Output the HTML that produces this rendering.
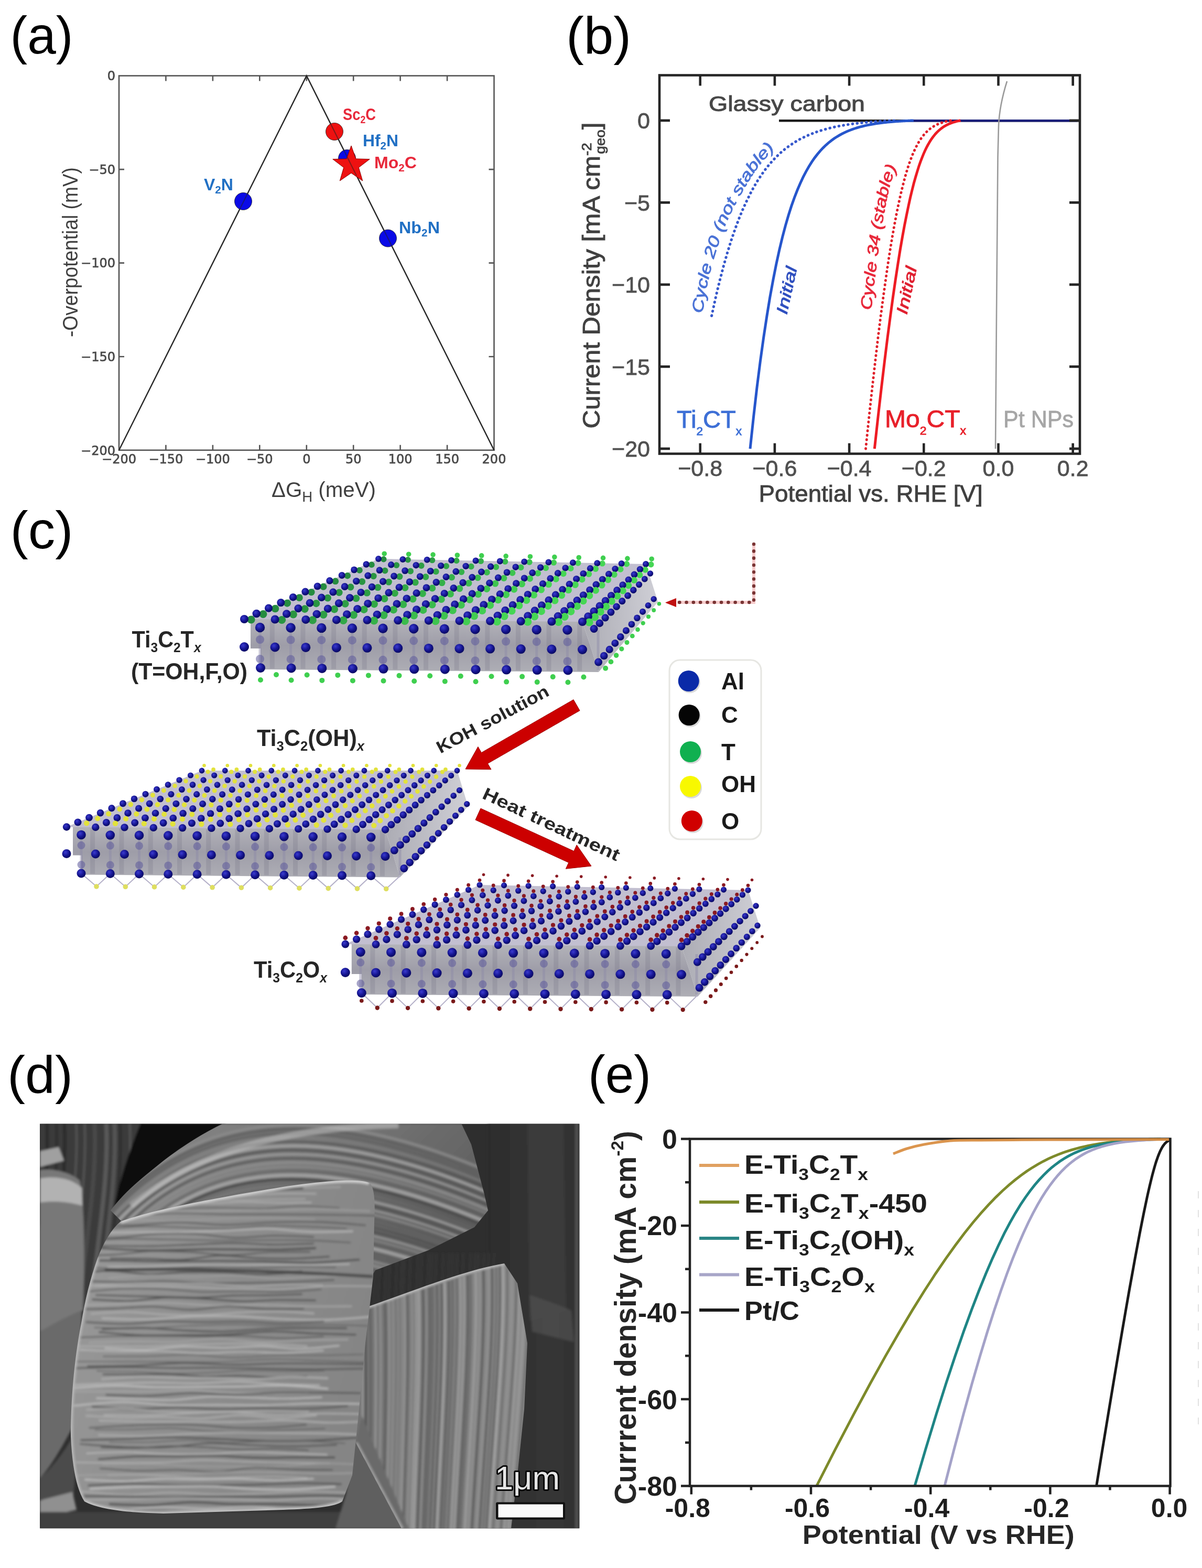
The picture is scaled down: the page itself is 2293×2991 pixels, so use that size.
<!DOCTYPE html>
<html><head><meta charset="utf-8"><title>Figure</title>
<style>html,body{margin:0;padding:0;background:#fff;} svg{display:block;}</style></head>
<body>
<svg width="2293" height="2991" viewBox="0 0 2293 2991" font-family="Liberation Sans, sans-serif">
<rect width="2293" height="2991" fill="#fff"/>
<text x="19.5" y="101.5" font-size="101" fill="#000" font-family="Liberation Sans, sans-serif" textLength="120" lengthAdjust="spacingAndGlyphs">(a)</text>
<text x="1080" y="103" font-size="101" fill="#000" font-family="Liberation Sans, sans-serif" textLength="124" lengthAdjust="spacingAndGlyphs">(b)</text>
<text x="19.5" y="1046" font-size="101" fill="#000" font-family="Liberation Sans, sans-serif" textLength="120" lengthAdjust="spacingAndGlyphs">(c)</text>
<text x="14" y="2084.5" font-size="101" fill="#000" font-family="Liberation Sans, sans-serif" textLength="125" lengthAdjust="spacingAndGlyphs">(d)</text>
<text x="1122" y="2084" font-size="101" fill="#000" font-family="Liberation Sans, sans-serif" textLength="120" lengthAdjust="spacingAndGlyphs">(e)</text>
<rect x="227" y="144.5" width="715.5" height="714.2" fill="none" stroke="#555" stroke-width="2.6"/>
<path d="M316.4,144.5v10M316.4,858.75v-10M405.9,144.5v10M405.9,858.75v-10M495.3,144.5v10M495.3,858.75v-10M584.8,144.5v10M584.8,858.75v-10M674.2,144.5v10M674.2,858.75v-10M763.6,144.5v10M763.6,858.75v-10M853.1,144.5v10M853.1,858.75v-10M227,323.1h10M942.5,323.1h-10M227,501.6h10M942.5,501.6h-10M227,680.2h10M942.5,680.2h-10" stroke="#555" stroke-width="2.6" fill="none"/>
<text x="227" y="884" font-size="24" fill="#4a4a4a" font-family="DejaVu Sans, sans-serif" text-anchor="middle" stroke="#4a4a4a" stroke-width="0.7">−200</text>
<text x="316.4" y="884" font-size="24" fill="#4a4a4a" font-family="DejaVu Sans, sans-serif" text-anchor="middle" stroke="#4a4a4a" stroke-width="0.7">−150</text>
<text x="405.9" y="884" font-size="24" fill="#4a4a4a" font-family="DejaVu Sans, sans-serif" text-anchor="middle" stroke="#4a4a4a" stroke-width="0.7">−100</text>
<text x="495.3" y="884" font-size="24" fill="#4a4a4a" font-family="DejaVu Sans, sans-serif" text-anchor="middle" stroke="#4a4a4a" stroke-width="0.7">−50</text>
<text x="584.8" y="884" font-size="24" fill="#4a4a4a" font-family="DejaVu Sans, sans-serif" text-anchor="middle" stroke="#4a4a4a" stroke-width="0.7">0</text>
<text x="674.2" y="884" font-size="24" fill="#4a4a4a" font-family="DejaVu Sans, sans-serif" text-anchor="middle" stroke="#4a4a4a" stroke-width="0.7">50</text>
<text x="763.6" y="884" font-size="24" fill="#4a4a4a" font-family="DejaVu Sans, sans-serif" text-anchor="middle" stroke="#4a4a4a" stroke-width="0.7">100</text>
<text x="853.1" y="884" font-size="24" fill="#4a4a4a" font-family="DejaVu Sans, sans-serif" text-anchor="middle" stroke="#4a4a4a" stroke-width="0.7">150</text>
<text x="942.5" y="884" font-size="24" fill="#4a4a4a" font-family="DejaVu Sans, sans-serif" text-anchor="middle" stroke="#4a4a4a" stroke-width="0.7">200</text>
<text x="220" y="153.2" font-size="24" fill="#4a4a4a" font-family="DejaVu Sans, sans-serif" text-anchor="end" stroke="#4a4a4a" stroke-width="0.7">0</text>
<text x="220" y="331.8" font-size="24" fill="#4a4a4a" font-family="DejaVu Sans, sans-serif" text-anchor="end" stroke="#4a4a4a" stroke-width="0.7">−50</text>
<text x="220" y="510.3" font-size="24" fill="#4a4a4a" font-family="DejaVu Sans, sans-serif" text-anchor="end" stroke="#4a4a4a" stroke-width="0.7">−100</text>
<text x="220" y="688.9" font-size="24" fill="#4a4a4a" font-family="DejaVu Sans, sans-serif" text-anchor="end" stroke="#4a4a4a" stroke-width="0.7">−150</text>
<text x="220" y="867.5" font-size="24" fill="#4a4a4a" font-family="DejaVu Sans, sans-serif" text-anchor="end" stroke="#4a4a4a" stroke-width="0.7">−200</text>
<path d="M227,858.75 L584.8,144.5 L942.5,858.75" stroke="#333" stroke-width="2.4" fill="none"/>
<circle cx="464" cy="384" r="16.5" fill="#0a0ae6" stroke="#222" stroke-width="0.8"/>
<circle cx="638" cy="251" r="16.5" fill="#ee1111" stroke="#222" stroke-width="0.8"/>
<circle cx="662" cy="302" r="16.5" fill="#0a0ae6" stroke="#222" stroke-width="0.8"/>
<circle cx="740" cy="454.5" r="16.5" fill="#0a0ae6" stroke="#222" stroke-width="0.8"/>
<path d="M584.8,144.5 L942.5,858.75" stroke="#222" stroke-width="2" fill="none" opacity="0.55"/>
<path d="M227,858.75 L584.8,144.5" stroke="#222" stroke-width="2" fill="none" opacity="0.55"/>
<path d="M670,278 L678.8,302.9 L705.2,303.6 L684.3,319.6 L691.7,344.9 L670,330 L648.3,344.9 L655.7,319.6 L634.8,303.6 L661.2,302.9Z" fill="#ee1111" stroke="#8a0000" stroke-width="1"/>
<path d="M662.6,300 L680.1,335" stroke="#222" stroke-width="2" opacity="0.5"/>
<text x="389" y="362.5" font-size="31" fill="#2170c4" font-family="Liberation Sans, sans-serif" font-weight="bold" textLength="56" lengthAdjust="spacingAndGlyphs">V<tspan font-size="20" dy="6">2</tspan><tspan dy="-6">N</tspan></text>
<text x="654" y="229" font-size="31" fill="#e8283a" font-family="Liberation Sans, sans-serif" font-weight="bold" textLength="63" lengthAdjust="spacingAndGlyphs">Sc<tspan font-size="20" dy="6">2</tspan><tspan dy="-6">C</tspan></text>
<text x="692" y="279" font-size="31" fill="#2170c4" font-family="Liberation Sans, sans-serif" font-weight="bold" textLength="68" lengthAdjust="spacingAndGlyphs">Hf<tspan font-size="20" dy="6">2</tspan><tspan dy="-6">N</tspan></text>
<text x="714" y="321" font-size="31" fill="#e8283a" font-family="Liberation Sans, sans-serif" font-weight="bold" textLength="81" lengthAdjust="spacingAndGlyphs">Mo<tspan font-size="20" dy="6">2</tspan><tspan dy="-6">C</tspan></text>
<text x="761" y="445" font-size="31" fill="#2170c4" font-family="Liberation Sans, sans-serif" font-weight="bold" textLength="78" lengthAdjust="spacingAndGlyphs">Nb<tspan font-size="20" dy="6">2</tspan><tspan dy="-6">N</tspan></text>
<text x="518" y="947.5" font-size="41" fill="#404040" font-family="Liberation Sans, sans-serif" textLength="199" lengthAdjust="spacingAndGlyphs">ΔG<tspan font-size="28" dy="9">H</tspan><tspan dy="-9"> (meV)</tspan></text>
<text x="148" y="643" font-size="41" fill="#404040" font-family="Liberation Sans, sans-serif" textLength="324" lengthAdjust="spacingAndGlyphs" transform="rotate(-90 148 643)">-Overpotential (mV)</text>
<path d="M1486,230.2 H2058" stroke="#1c1c1c" stroke-width="4.5" fill="none"/>
<path d="M1725,230.2 H2055" stroke="#1b1f7a" stroke-width="4.5" fill="none"/>
<path d="M1899,856 L1901,600 L1903.5,300 L1905,240 C1906,215 1910,190 1921,155" stroke="#9a9a9a" stroke-width="2.6" fill="none"/>
<path d="M1357.6,602.4 L1365.2,567.7 L1372.7,536.3 L1380.2,507.8 L1387.6,481.9 L1394.9,458.5 L1402.2,437.2 L1409.4,417.9 L1416.6,400.4 L1423.8,384.6 L1430.9,370.2 L1437.9,357.1 L1444.9,345.3 L1451.9,334.6 L1458.8,324.8 L1465.7,316.0 L1472.6,308.0 L1479.4,300.7 L1486.2,294.1 L1492.9,288.1 L1499.6,282.7 L1506.3,277.8 L1512.9,273.4 L1519.4,269.3 L1525.9,265.6 L1532.3,262.3 L1538.7,259.3 L1545.0,256.6 L1551.3,254.1 L1557.4,251.8 L1563.5,249.8 L1569.6,247.9 L1575.5,246.3 L1581.3,244.7 L1587.0,243.4 L1592.7,242.1 L1598.2,241.0 L1603.6,239.9 L1608.9,239.0 L1614.0,238.2 L1619.0,237.4 L1623.9,236.7 L1628.6,236.1 L1633.2,235.5 L1637.6,235.0 L1641.9,234.5 L1646.0,234.1 L1649.9,233.7 L1653.6,233.3 L1657.2,233.0 L1660.6,232.7 L1663.9,232.5 L1667.0,232.2 L1669.9,232.0 L1672.6,231.8 L1675.2,231.6 L1677.6,231.5 L1679.9,231.3 L1682.0,231.2 L1684.0,231.1 L1685.9,231.0 L1687.6,230.9 L1689.2,230.8 L1690.7,230.7 L1692.1,230.6 L1693.3,230.6 L1694.5,230.5 L1695.6,230.4 L1696.6,230.4 L1697.5,230.3 L1698.3,230.3 L1699.1,230.3 L1699.8,230.2 L1700.4,230.2 L1701.0,230.2 L1701.6,230.1 L1702.1,230.1 L1702.5,230.1 L1702.9,230.1 L1703.3,230.1 L1703.6,230.1 L1704.0,230.0 L1704.2,230.0 L1704.5,230.0 L1704.7,230.0 L1704.9,230.0 L1705.1,230.0 L1705.3,230.0 L1705.5,230.0 L1705.6,230.0 L1707.1,229.9" stroke="#3658cc" stroke-width="5.2" stroke-linecap="round" stroke-dasharray="0.5 8.3" fill="none"/>
<path d="M1431.0,855.9 L1437.6,794.4 L1444.0,738.9 L1450.4,688.8 L1456.7,643.7 L1462.9,603.0 L1468.9,566.3 L1475.0,533.3 L1480.9,503.4 L1486.8,476.5 L1492.6,452.3 L1498.4,430.4 L1504.1,410.7 L1509.8,392.9 L1515.5,376.9 L1521.1,362.5 L1526.7,349.4 L1532.2,337.7 L1537.7,327.1 L1543.2,317.5 L1548.6,308.9 L1554.0,301.1 L1559.4,294.1 L1564.7,287.8 L1570.1,282.1 L1575.3,277.0 L1580.6,272.4 L1585.8,268.2 L1591.0,264.4 L1596.2,261.0 L1601.3,258.0 L1606.3,255.2 L1611.4,252.7 L1616.3,250.5 L1621.3,248.5 L1626.2,246.6 L1631.0,245.0 L1635.7,243.5 L1640.4,242.2 L1645.1,241.0 L1649.6,239.9 L1654.1,238.9 L1658.5,238.0 L1662.8,237.2 L1667.0,236.5 L1671.0,235.8 L1675.0,235.3 L1678.9,234.7 L1682.7,234.3 L1686.3,233.8 L1689.8,233.4 L1693.2,233.1 L1696.5,232.8 L1699.6,232.5 L1702.6,232.2 L1705.4,232.0 L1708.1,231.8 L1710.7,231.6 L1713.1,231.4 L1715.4,231.3 L1717.5,231.2 L1719.5,231.0 L1721.4,230.9 L1723.2,230.8 L1724.8,230.7 L1726.3,230.7 L1727.8,230.6 L1729.1,230.5 L1730.3,230.5 L1731.4,230.4 L1732.4,230.3 L1733.4,230.3 L1734.2,230.3 L1735.0,230.2 L1735.7,230.2 L1736.4,230.2 L1737.0,230.1 L1737.6,230.1 L1738.1,230.1 L1738.5,230.1 L1738.9,230.1 L1739.3,230.0 L1739.7,230.0 L1740.0,230.0 L1740.2,230.0 L1740.5,230.0 L1740.7,230.0 L1740.9,230.0 L1741.1,230.0 L1741.3,230.0 L1742.9,229.9" stroke="#2656cc" stroke-width="5" fill="none"/>
<path d="M1651.5,855.9 L1657.9,794.4 L1664.0,738.9 L1669.7,688.8 L1675.0,643.7 L1680.1,603.0 L1685.0,566.3 L1689.6,533.3 L1693.9,503.4 L1698.1,476.5 L1702.1,452.3 L1706.0,430.4 L1709.7,410.7 L1713.3,392.9 L1716.8,376.9 L1720.1,362.5 L1723.4,349.4 L1726.5,337.7 L1729.6,327.1 L1732.6,317.5 L1735.5,308.9 L1738.4,301.1 L1741.2,294.1 L1744.0,287.8 L1746.7,282.1 L1749.3,277.0 L1751.9,272.4 L1754.4,268.2 L1756.9,264.4 L1759.4,261.0 L1761.8,258.0 L1764.1,255.2 L1766.4,252.7 L1768.7,250.5 L1770.9,248.5 L1773.0,246.6 L1775.1,245.0 L1777.2,243.5 L1779.2,242.2 L1781.1,241.0 L1783.0,239.9 L1784.8,238.9 L1786.6,238.0 L1788.3,237.2 L1790.0,236.5 L1791.5,235.8 L1793.1,235.3 L1794.5,234.7 L1795.9,234.3 L1797.2,233.8 L1798.4,233.4 L1799.6,233.1 L1800.7,232.8 L1801.8,232.5 L1802.8,232.2 L1803.7,232.0 L1804.5,231.8 L1805.3,231.6 L1806.1,231.4 L1806.8,231.3 L1807.4,231.2 L1808.0,231.0 L1808.6,230.9 L1809.1,230.8 L1809.5,230.7 L1810.0,230.7 L1810.4,230.6 L1810.7,230.5 L1811.1,230.5 L1811.4,230.4 L1811.6,230.3 L1811.9,230.3 L1812.1,230.3 L1812.3,230.2 L1812.5,230.2 L1812.7,230.2 L1812.8,230.1 L1813.0,230.1 L1813.1,230.1 L1813.2,230.1 L1813.3,230.1 L1813.4,230.0 L1813.5,230.0 L1813.6,230.0 L1813.6,230.0 L1813.7,230.0 L1813.7,230.0 L1813.8,230.0 L1813.8,230.0 L1813.9,230.0 L1814.3,229.9" stroke="#e0202a" stroke-width="5" stroke-linecap="round" stroke-dasharray="0.5 8.0" fill="none"/>
<path d="M1668.3,855.9 L1675.1,794.4 L1681.5,738.9 L1687.5,688.8 L1693.1,643.7 L1698.5,603.0 L1703.5,566.3 L1708.3,533.3 L1712.9,503.4 L1717.2,476.5 L1721.4,452.3 L1725.4,430.4 L1729.3,410.7 L1733.0,392.9 L1736.5,376.9 L1740.0,362.5 L1743.3,349.4 L1746.6,337.7 L1749.8,327.1 L1752.8,317.5 L1755.8,308.9 L1758.8,301.1 L1761.6,294.1 L1764.4,287.8 L1767.1,282.1 L1769.8,277.0 L1772.4,272.4 L1775.0,268.2 L1777.5,264.4 L1780.0,261.0 L1782.4,258.0 L1784.7,255.2 L1787.0,252.7 L1789.3,250.5 L1791.4,248.5 L1793.6,246.6 L1795.7,245.0 L1797.7,243.5 L1799.6,242.2 L1801.5,241.0 L1803.4,239.9 L1805.2,238.9 L1806.9,238.0 L1808.5,237.2 L1810.1,236.5 L1811.6,235.8 L1813.0,235.3 L1814.4,234.7 L1815.7,234.3 L1816.9,233.8 L1818.1,233.4 L1819.2,233.1 L1820.2,232.8 L1821.2,232.5 L1822.1,232.2 L1822.9,232.0 L1823.7,231.8 L1824.4,231.6 L1825.1,231.4 L1825.7,231.3 L1826.3,231.2 L1826.8,231.0 L1827.3,230.9 L1827.8,230.8 L1828.2,230.7 L1828.6,230.7 L1828.9,230.6 L1829.2,230.5 L1829.5,230.5 L1829.8,230.4 L1830.0,230.3 L1830.2,230.3 L1830.4,230.3 L1830.6,230.2 L1830.8,230.2 L1830.9,230.2 L1831.0,230.1 L1831.2,230.1 L1831.3,230.1 L1831.4,230.1 L1831.5,230.1 L1831.6,230.0 L1831.6,230.0 L1831.7,230.0 L1831.8,230.0 L1831.8,230.0 L1831.9,230.0 L1831.9,230.0 L1831.9,230.0 L1832.0,230.0 L1832.3,229.9" stroke="#ee1c24" stroke-width="5" fill="none"/>
<rect x="1258" y="143.5" width="802" height="722" fill="none" stroke="#262626" stroke-width="4.6"/>
<path d="M1335.7,143.5v20M1335.7,865.5v-20M1477.9,143.5v20M1477.9,865.5v-20M1620.1,143.5v20M1620.1,865.5v-20M1762.3,143.5v20M1762.3,865.5v-20M1904.5,143.5v20M1904.5,865.5v-20M2046.7,143.5v20M2046.7,865.5v-20M1258,229.9h20M2060,229.9h-20M1258,386.4h20M2060,386.4h-20M1258,542.9h20M2060,542.9h-20M1258,699.4h20M2060,699.4h-20M1258,855.9h20M2060,855.9h-20" stroke="#262626" stroke-width="4.6" fill="none"/>
<text x="1335.7" y="908" font-size="43" fill="#505050" font-family="Liberation Sans, sans-serif" text-anchor="middle" stroke="#505050" stroke-width="0.8">−0.8</text>
<text x="1477.9" y="908" font-size="43" fill="#505050" font-family="Liberation Sans, sans-serif" text-anchor="middle" stroke="#505050" stroke-width="0.8">−0.6</text>
<text x="1620.1" y="908" font-size="43" fill="#505050" font-family="Liberation Sans, sans-serif" text-anchor="middle" stroke="#505050" stroke-width="0.8">−0.4</text>
<text x="1762.3" y="908" font-size="43" fill="#505050" font-family="Liberation Sans, sans-serif" text-anchor="middle" stroke="#505050" stroke-width="0.8">−0.2</text>
<text x="1904.5" y="908" font-size="43" fill="#505050" font-family="Liberation Sans, sans-serif" text-anchor="middle" stroke="#505050" stroke-width="0.8">0.0</text>
<text x="2046.7" y="908" font-size="43" fill="#505050" font-family="Liberation Sans, sans-serif" text-anchor="middle" stroke="#505050" stroke-width="0.8">0.2</text>
<text x="1240" y="245.4" font-size="43" fill="#505050" font-family="Liberation Sans, sans-serif" text-anchor="end" stroke="#505050" stroke-width="0.8">0</text>
<text x="1240" y="401.9" font-size="43" fill="#505050" font-family="Liberation Sans, sans-serif" text-anchor="end" stroke="#505050" stroke-width="0.8">−5</text>
<text x="1240" y="558.4" font-size="43" fill="#505050" font-family="Liberation Sans, sans-serif" text-anchor="end" stroke="#505050" stroke-width="0.8">−10</text>
<text x="1240" y="714.9" font-size="43" fill="#505050" font-family="Liberation Sans, sans-serif" text-anchor="end" stroke="#505050" stroke-width="0.8">−15</text>
<text x="1240" y="871.4" font-size="43" fill="#505050" font-family="Liberation Sans, sans-serif" text-anchor="end" stroke="#505050" stroke-width="0.8">−20</text>
<text x="1447.6" y="956.8" font-size="45" fill="#404040" font-family="Liberation Sans, sans-serif" textLength="427" lengthAdjust="spacingAndGlyphs" stroke="#404040" stroke-width="0.9">Potential vs. RHE [V]</text>
<text x="1144" y="817.5" font-size="46" fill="#404040" font-family="Liberation Sans, sans-serif" textLength="584" lengthAdjust="spacingAndGlyphs" transform="rotate(-90 1144 817.5)" stroke="#404040" stroke-width="0.9">Current Density [mA cm<tspan font-size="26" dy="-16">-2</tspan><tspan font-size="26" dx="-20" dy="26">geo</tspan><tspan dy="-10">]</tspan></text>
<text x="1352" y="211.5" font-size="41" fill="#474747" font-family="Liberation Sans, sans-serif" textLength="298" lengthAdjust="spacingAndGlyphs" stroke="#474747" stroke-width="1">Glassy carbon</text>
<text x="1291" y="816" font-size="46" fill="#3d6fd6" font-family="Liberation Sans, sans-serif" textLength="124" lengthAdjust="spacingAndGlyphs" stroke="#3d6fd6" stroke-width="0.9">Ti<tspan font-size="22" dy="14">2</tspan><tspan dy="-14">CT</tspan><tspan font-size="22" dy="14">x</tspan></text>
<text x="1688" y="815" font-size="46" fill="#e8202a" font-family="Liberation Sans, sans-serif" textLength="155" lengthAdjust="spacingAndGlyphs" stroke="#e8202a" stroke-width="0.9">Mo<tspan font-size="22" dy="14">2</tspan><tspan dy="-14">CT</tspan><tspan font-size="22" dy="14">x</tspan></text>
<text x="1914" y="815" font-size="44" fill="#a6a6a6" font-family="Liberation Sans, sans-serif" textLength="134" lengthAdjust="spacingAndGlyphs" stroke="#a6a6a6" stroke-width="0.8">Pt NPs</text>
<defs><path id="tpB1" d="M1340,598 C1341.7,588.3 1345.7,559.7 1350,540 C1354.3,520.3 1359.7,500 1366,480 C1372.3,460 1380,438.3 1388,420 C1396,401.7 1404.7,386.3 1414,370 C1423.3,353.7 1433.3,336.7 1444,322 C1454.7,307.3 1472.3,288.7 1478,282"/><path id="tpB2" d="M1501,601 L1521,509"/><path id="tpR1" d="M1662,592 C1663,583.3 1665.5,560.3 1668,540 C1670.5,519.7 1673.7,493.3 1677,470 C1680.3,446.7 1683.8,421.7 1688,400 C1692.2,378.3 1696.3,356.7 1702,340 C1707.7,323.3 1718.7,306.7 1722,300"/><path id="tpR2" d="M1730,601 L1749,511"/></defs>
<text font-size="30" font-style="italic" stroke-width="0.9" fill="#4a72d6" stroke="#4a72d6" font-family="Liberation Sans, sans-serif"><textPath href="#tpB1" textLength="350" lengthAdjust="spacingAndGlyphs">Cycle  20 (not stable)</textPath></text>
<text font-size="30" font-style="italic" stroke-width="0.9" fill="#2f4fbf" stroke="#2f4fbf" font-family="Liberation Sans, sans-serif"><textPath href="#tpB2" textLength="92" lengthAdjust="spacingAndGlyphs">Initial</textPath></text>
<text font-size="30" font-style="italic" stroke-width="0.9" fill="#e8283a" stroke="#e8283a" font-family="Liberation Sans, sans-serif"><textPath href="#tpR1" textLength="278" lengthAdjust="spacingAndGlyphs">Cycle  34 (stable)</textPath></text>
<text font-size="30" font-style="italic" stroke-width="0.9" fill="#e02030" stroke="#e02030" font-family="Liberation Sans, sans-serif"><textPath href="#tpR2" textLength="92" lengthAdjust="spacingAndGlyphs">Initial</textPath></text>
<defs>
<radialGradient id="gBlue" cx="0.38" cy="0.35" r="0.7"><stop offset="0" stop-color="#3a3ad0"/><stop offset="0.6" stop-color="#12128a"/><stop offset="1" stop-color="#0a0a5a"/></radialGradient>
<linearGradient id="gSideF" x1="0" y1="0" x2="0" y2="1"><stop offset="0" stop-color="#b4b4ba"/><stop offset="0.5" stop-color="#9e9da8"/><stop offset="1" stop-color="#aeaeb5"/></linearGradient>
<linearGradient id="gSideR" x1="0" y1="0" x2="1" y2="0"><stop offset="0" stop-color="#acacb4"/><stop offset="1" stop-color="#cfcfd6"/></linearGradient>
</defs>
<path d="M1111,1185 L1232,1075.2 L1255.2,1148 L1142,1282Z" fill="url(#gSideR)"/>
<path d="M478,1180 L1111,1185 L1142,1282 L497,1277 L497,1237 L478,1237Z" fill="url(#gSideF)"/>
<path d="M466,1181 L1111,1186 L1232,1076 L722,1066Z" fill="#c2bfd0"/>
<path d="M496,1197L496,1273M554.6,1197.5L554.6,1273.5M613.3,1197.9L613.3,1273.9M671.9,1198.4L671.9,1274.4M730.5,1198.8L730.5,1274.8M789.2,1199.3L789.2,1275.3M847.8,1199.7L847.8,1275.7M906.5,1200.2L906.5,1276.2M965.1,1200.6L965.1,1276.6M1023.7,1201.1L1023.7,1277.1M1082.4,1201.5L1082.4,1277.5M1141,1202L1141,1278" stroke="#8d8aa8" stroke-width="5" opacity="0.45"/>
<path d="M519.3,1183.2L519.3,1275.2M578,1183.7L578,1275.7M636.6,1184.1L636.6,1276.1M695.2,1184.6L695.2,1276.6M753.9,1185L753.9,1277M812.5,1185.5L812.5,1277.5M871.1,1186L871.1,1278M929.8,1186.4L929.8,1278.4M988.4,1186.9L988.4,1278.9M1047,1187.3L1047,1279.3M1105.7,1187.8L1105.7,1279.8" stroke="#6e6c80" stroke-width="9" opacity="0.22"/>
<circle cx="1240.5" cy="1094" r="5.7" fill="url(#gBlue)"/>
<circle cx="1247.1" cy="1142.8" r="5.7" fill="url(#gBlue)"/>
<circle cx="1257.4" cy="1151.8" r="3.8" fill="#3fcf4f"/>
<circle cx="1229.8" cy="1104.5" r="5.9" fill="url(#gBlue)"/>
<circle cx="1236.5" cy="1154.8" r="5.9" fill="url(#gBlue)"/>
<circle cx="1247.2" cy="1164" r="3.9" fill="#3fcf4f"/>
<circle cx="1219.1" cy="1115.1" r="6.1" fill="url(#gBlue)"/>
<circle cx="1226" cy="1166.8" r="6.1" fill="url(#gBlue)"/>
<circle cx="1237" cy="1176.3" r="4.1" fill="#3fcf4f"/>
<circle cx="1208.3" cy="1125.6" r="6.3" fill="url(#gBlue)"/>
<circle cx="1215.4" cy="1178.8" r="6.3" fill="url(#gBlue)"/>
<circle cx="1226.7" cy="1188.6" r="4.2" fill="#3fcf4f"/>
<circle cx="1197.6" cy="1136.2" r="6.4" fill="url(#gBlue)"/>
<circle cx="1204.9" cy="1190.8" r="6.4" fill="url(#gBlue)"/>
<circle cx="1216.5" cy="1200.9" r="4.3" fill="#3fcf4f"/>
<circle cx="1186.8" cy="1146.7" r="6.6" fill="url(#gBlue)"/>
<circle cx="1194.4" cy="1202.9" r="6.6" fill="url(#gBlue)"/>
<circle cx="1206.3" cy="1213.2" r="4.4" fill="#3fcf4f"/>
<circle cx="1176.1" cy="1157.3" r="6.8" fill="url(#gBlue)"/>
<circle cx="1183.8" cy="1214.9" r="6.8" fill="url(#gBlue)"/>
<circle cx="1196" cy="1225.5" r="4.5" fill="#3fcf4f"/>
<circle cx="1165.4" cy="1167.8" r="7" fill="url(#gBlue)"/>
<circle cx="1173.3" cy="1226.9" r="7" fill="url(#gBlue)"/>
<circle cx="1185.8" cy="1237.8" r="4.6" fill="#3fcf4f"/>
<circle cx="1154.6" cy="1178.4" r="7.1" fill="url(#gBlue)"/>
<circle cx="1162.7" cy="1238.9" r="7.1" fill="url(#gBlue)"/>
<circle cx="1175.6" cy="1250.1" r="4.8" fill="#3fcf4f"/>
<circle cx="1143.9" cy="1188.9" r="7.3" fill="url(#gBlue)"/>
<circle cx="1152.2" cy="1251" r="7.3" fill="url(#gBlue)"/>
<circle cx="1165.4" cy="1262.4" r="4.9" fill="#3fcf4f"/>
<circle cx="1133.1" cy="1199.5" r="7.5" fill="url(#gBlue)"/>
<circle cx="1141.6" cy="1263" r="7.5" fill="url(#gBlue)"/>
<circle cx="1155.1" cy="1274.7" r="5" fill="#3fcf4f"/>
<circle cx="731.8" cy="1066.8" r="5.7" fill="#268c40"/>
<circle cx="778.1" cy="1067.7" r="5.7" fill="#2a9542"/>
<circle cx="824.5" cy="1068.6" r="5.7" fill="#2e9e45"/>
<circle cx="870.8" cy="1069.5" r="5.7" fill="#32a847"/>
<circle cx="917.2" cy="1070.4" r="5.7" fill="#36b14a"/>
<circle cx="963.6" cy="1071.3" r="5.7" fill="#3abb4c"/>
<circle cx="1009.9" cy="1072.2" r="5.7" fill="#3ec44f"/>
<circle cx="1056.3" cy="1073.1" r="5.7" fill="#42cd51"/>
<circle cx="1102.7" cy="1074" r="5.7" fill="#46d654"/>
<circle cx="1149" cy="1074.9" r="5.7" fill="#46d654"/>
<circle cx="1195.4" cy="1075.8" r="5.7" fill="#46d654"/>
<circle cx="1241.8" cy="1076.8" r="5.7" fill="#46d654"/>
<circle cx="722" cy="1066" r="6" fill="url(#gBlue)"/>
<circle cx="768.4" cy="1066.9" r="6" fill="url(#gBlue)"/>
<circle cx="814.7" cy="1067.8" r="6" fill="url(#gBlue)"/>
<circle cx="861.1" cy="1068.7" r="6" fill="url(#gBlue)"/>
<circle cx="907.5" cy="1069.6" r="6" fill="url(#gBlue)"/>
<circle cx="953.8" cy="1070.5" r="6" fill="url(#gBlue)"/>
<circle cx="1000.2" cy="1071.5" r="6" fill="url(#gBlue)"/>
<circle cx="1046.5" cy="1072.4" r="6" fill="url(#gBlue)"/>
<circle cx="1092.9" cy="1073.3" r="6" fill="url(#gBlue)"/>
<circle cx="1139.3" cy="1074.2" r="6" fill="url(#gBlue)"/>
<circle cx="1185.6" cy="1075.1" r="6" fill="url(#gBlue)"/>
<circle cx="1232" cy="1076" r="6" fill="url(#gBlue)"/>
<circle cx="708.8" cy="1077.2" r="5.9" fill="#268c40"/>
<circle cx="756.3" cy="1078.1" r="5.9" fill="#2a9542"/>
<circle cx="803.7" cy="1079" r="5.9" fill="#2e9e45"/>
<circle cx="851.2" cy="1079.8" r="5.9" fill="#32a847"/>
<circle cx="898.7" cy="1080.7" r="5.9" fill="#36b14a"/>
<circle cx="946.2" cy="1081.6" r="5.9" fill="#3abb4c"/>
<circle cx="993.6" cy="1082.4" r="5.9" fill="#3ec44f"/>
<circle cx="1041.1" cy="1083.3" r="5.9" fill="#42cd51"/>
<circle cx="1088.6" cy="1084.2" r="5.9" fill="#46d654"/>
<circle cx="1136.1" cy="1085" r="5.9" fill="#46d654"/>
<circle cx="1183.6" cy="1085.9" r="5.9" fill="#46d654"/>
<circle cx="1231" cy="1086.8" r="5.9" fill="#46d654"/>
<circle cx="698.7" cy="1076.5" r="6.2" fill="url(#gBlue)"/>
<circle cx="746.2" cy="1077.3" r="6.2" fill="url(#gBlue)"/>
<circle cx="793.7" cy="1078.2" r="6.2" fill="url(#gBlue)"/>
<circle cx="841.2" cy="1079.1" r="6.2" fill="url(#gBlue)"/>
<circle cx="888.6" cy="1079.9" r="6.2" fill="url(#gBlue)"/>
<circle cx="936.1" cy="1080.8" r="6.2" fill="url(#gBlue)"/>
<circle cx="983.6" cy="1081.7" r="6.2" fill="url(#gBlue)"/>
<circle cx="1031.1" cy="1082.5" r="6.2" fill="url(#gBlue)"/>
<circle cx="1078.6" cy="1083.4" r="6.2" fill="url(#gBlue)"/>
<circle cx="1126" cy="1084.3" r="6.2" fill="url(#gBlue)"/>
<circle cx="1173.5" cy="1085.1" r="6.2" fill="url(#gBlue)"/>
<circle cx="1221" cy="1086" r="6.2" fill="url(#gBlue)"/>
<circle cx="685.8" cy="1087.7" r="6" fill="#268c40"/>
<circle cx="734.4" cy="1088.5" r="6" fill="#2a9542"/>
<circle cx="783" cy="1089.4" r="6" fill="#2e9e45"/>
<circle cx="831.6" cy="1090.2" r="6" fill="#32a847"/>
<circle cx="880.2" cy="1091" r="6" fill="#36b14a"/>
<circle cx="928.8" cy="1091.8" r="6" fill="#3abb4c"/>
<circle cx="977.4" cy="1092.7" r="6" fill="#3ec44f"/>
<circle cx="1026" cy="1093.5" r="6" fill="#42cd51"/>
<circle cx="1074.6" cy="1094.3" r="6" fill="#46d654"/>
<circle cx="1123.2" cy="1095.1" r="6" fill="#46d654"/>
<circle cx="1171.7" cy="1096" r="6" fill="#46d654"/>
<circle cx="1220.3" cy="1096.8" r="6" fill="#46d654"/>
<circle cx="675.5" cy="1086.9" r="6.4" fill="url(#gBlue)"/>
<circle cx="724" cy="1087.7" r="6.4" fill="url(#gBlue)"/>
<circle cx="772.6" cy="1088.6" r="6.4" fill="url(#gBlue)"/>
<circle cx="821.2" cy="1089.4" r="6.4" fill="url(#gBlue)"/>
<circle cx="869.8" cy="1090.2" r="6.4" fill="url(#gBlue)"/>
<circle cx="918.4" cy="1091" r="6.4" fill="url(#gBlue)"/>
<circle cx="967" cy="1091.9" r="6.4" fill="url(#gBlue)"/>
<circle cx="1015.6" cy="1092.7" r="6.4" fill="url(#gBlue)"/>
<circle cx="1064.2" cy="1093.5" r="6.4" fill="url(#gBlue)"/>
<circle cx="1112.8" cy="1094.3" r="6.4" fill="url(#gBlue)"/>
<circle cx="1161.4" cy="1095.2" r="6.4" fill="url(#gBlue)"/>
<circle cx="1210" cy="1096" r="6.4" fill="url(#gBlue)"/>
<circle cx="662.8" cy="1098.2" r="6.2" fill="#268c40"/>
<circle cx="712.5" cy="1099" r="6.2" fill="#2a9542"/>
<circle cx="762.2" cy="1099.8" r="6.2" fill="#2e9e45"/>
<circle cx="812" cy="1100.5" r="6.2" fill="#32a847"/>
<circle cx="861.7" cy="1101.3" r="6.2" fill="#36b14a"/>
<circle cx="911.4" cy="1102.1" r="6.2" fill="#3abb4c"/>
<circle cx="961.1" cy="1102.9" r="6.2" fill="#3ec44f"/>
<circle cx="1010.8" cy="1103.7" r="6.2" fill="#42cd51"/>
<circle cx="1060.5" cy="1104.5" r="6.2" fill="#46d654"/>
<circle cx="1110.2" cy="1105.2" r="6.2" fill="#46d654"/>
<circle cx="1159.9" cy="1106" r="6.2" fill="#46d654"/>
<circle cx="1209.6" cy="1106.8" r="6.2" fill="#46d654"/>
<circle cx="652.2" cy="1097.4" r="6.5" fill="url(#gBlue)"/>
<circle cx="701.9" cy="1098.1" r="6.5" fill="url(#gBlue)"/>
<circle cx="751.6" cy="1098.9" r="6.5" fill="url(#gBlue)"/>
<circle cx="801.3" cy="1099.7" r="6.5" fill="url(#gBlue)"/>
<circle cx="851" cy="1100.5" r="6.5" fill="url(#gBlue)"/>
<circle cx="900.7" cy="1101.3" r="6.5" fill="url(#gBlue)"/>
<circle cx="950.4" cy="1102.1" r="6.5" fill="url(#gBlue)"/>
<circle cx="1000.2" cy="1102.9" r="6.5" fill="url(#gBlue)"/>
<circle cx="1049.9" cy="1103.6" r="6.5" fill="url(#gBlue)"/>
<circle cx="1099.6" cy="1104.4" r="6.5" fill="url(#gBlue)"/>
<circle cx="1149.3" cy="1105.2" r="6.5" fill="url(#gBlue)"/>
<circle cx="1199" cy="1106" r="6.5" fill="url(#gBlue)"/>
<circle cx="639.8" cy="1108.7" r="6.4" fill="#268c40"/>
<circle cx="690.7" cy="1109.4" r="6.4" fill="#2a9542"/>
<circle cx="741.5" cy="1110.1" r="6.4" fill="#2e9e45"/>
<circle cx="792.3" cy="1110.9" r="6.4" fill="#32a847"/>
<circle cx="843.1" cy="1111.6" r="6.4" fill="#36b14a"/>
<circle cx="894" cy="1112.4" r="6.4" fill="#3abb4c"/>
<circle cx="944.8" cy="1113.1" r="6.4" fill="#3ec44f"/>
<circle cx="995.6" cy="1113.9" r="6.4" fill="#42cd51"/>
<circle cx="1046.5" cy="1114.6" r="6.4" fill="#46d654"/>
<circle cx="1097.3" cy="1115.4" r="6.4" fill="#46d654"/>
<circle cx="1148.1" cy="1116.1" r="6.4" fill="#46d654"/>
<circle cx="1198.9" cy="1116.8" r="6.4" fill="#46d654"/>
<circle cx="628.9" cy="1107.8" r="6.7" fill="url(#gBlue)"/>
<circle cx="679.7" cy="1108.6" r="6.7" fill="url(#gBlue)"/>
<circle cx="730.6" cy="1109.3" r="6.7" fill="url(#gBlue)"/>
<circle cx="781.4" cy="1110" r="6.7" fill="url(#gBlue)"/>
<circle cx="832.2" cy="1110.8" r="6.7" fill="url(#gBlue)"/>
<circle cx="883" cy="1111.5" r="6.7" fill="url(#gBlue)"/>
<circle cx="933.9" cy="1112.3" r="6.7" fill="url(#gBlue)"/>
<circle cx="984.7" cy="1113" r="6.7" fill="url(#gBlue)"/>
<circle cx="1035.5" cy="1113.8" r="6.7" fill="url(#gBlue)"/>
<circle cx="1086.3" cy="1114.5" r="6.7" fill="url(#gBlue)"/>
<circle cx="1137.2" cy="1115.3" r="6.7" fill="url(#gBlue)"/>
<circle cx="1188" cy="1116" r="6.7" fill="url(#gBlue)"/>
<circle cx="616.9" cy="1119.1" r="6.6" fill="#268c40"/>
<circle cx="668.8" cy="1119.8" r="6.6" fill="#2a9542"/>
<circle cx="720.7" cy="1120.5" r="6.6" fill="#2e9e45"/>
<circle cx="772.7" cy="1121.2" r="6.6" fill="#32a847"/>
<circle cx="824.6" cy="1121.9" r="6.6" fill="#36b14a"/>
<circle cx="876.6" cy="1122.6" r="6.6" fill="#3abb4c"/>
<circle cx="928.5" cy="1123.4" r="6.6" fill="#3ec44f"/>
<circle cx="980.5" cy="1124.1" r="6.6" fill="#42cd51"/>
<circle cx="1032.4" cy="1124.8" r="6.6" fill="#46d654"/>
<circle cx="1084.3" cy="1125.5" r="6.6" fill="#46d654"/>
<circle cx="1136.3" cy="1126.2" r="6.6" fill="#46d654"/>
<circle cx="1188.2" cy="1126.9" r="6.6" fill="#46d654"/>
<circle cx="605.6" cy="1118.3" r="6.9" fill="url(#gBlue)"/>
<circle cx="657.6" cy="1119" r="6.9" fill="url(#gBlue)"/>
<circle cx="709.5" cy="1119.7" r="6.9" fill="url(#gBlue)"/>
<circle cx="761.5" cy="1120.4" r="6.9" fill="url(#gBlue)"/>
<circle cx="813.4" cy="1121.1" r="6.9" fill="url(#gBlue)"/>
<circle cx="865.3" cy="1121.8" r="6.9" fill="url(#gBlue)"/>
<circle cx="917.3" cy="1122.5" r="6.9" fill="url(#gBlue)"/>
<circle cx="969.2" cy="1123.2" r="6.9" fill="url(#gBlue)"/>
<circle cx="1021.2" cy="1123.9" r="6.9" fill="url(#gBlue)"/>
<circle cx="1073.1" cy="1124.6" r="6.9" fill="url(#gBlue)"/>
<circle cx="1125.1" cy="1125.3" r="6.9" fill="url(#gBlue)"/>
<circle cx="1177" cy="1126" r="6.9" fill="url(#gBlue)"/>
<circle cx="593.9" cy="1129.6" r="6.7" fill="#268c40"/>
<circle cx="646.9" cy="1130.3" r="6.7" fill="#2a9542"/>
<circle cx="700" cy="1130.9" r="6.7" fill="#2e9e45"/>
<circle cx="753.1" cy="1131.6" r="6.7" fill="#32a847"/>
<circle cx="806.1" cy="1132.3" r="6.7" fill="#36b14a"/>
<circle cx="859.2" cy="1132.9" r="6.7" fill="#3abb4c"/>
<circle cx="912.2" cy="1133.6" r="6.7" fill="#3ec44f"/>
<circle cx="965.3" cy="1134.2" r="6.7" fill="#42cd51"/>
<circle cx="1018.3" cy="1134.9" r="6.7" fill="#46d654"/>
<circle cx="1071.4" cy="1135.6" r="6.7" fill="#46d654"/>
<circle cx="1124.5" cy="1136.2" r="6.7" fill="#46d654"/>
<circle cx="1177.5" cy="1136.9" r="6.7" fill="#46d654"/>
<circle cx="582.4" cy="1128.7" r="7.1" fill="url(#gBlue)"/>
<circle cx="635.4" cy="1129.4" r="7.1" fill="url(#gBlue)"/>
<circle cx="688.5" cy="1130" r="7.1" fill="url(#gBlue)"/>
<circle cx="741.5" cy="1130.7" r="7.1" fill="url(#gBlue)"/>
<circle cx="794.6" cy="1131.4" r="7.1" fill="url(#gBlue)"/>
<circle cx="847.7" cy="1132" r="7.1" fill="url(#gBlue)"/>
<circle cx="900.7" cy="1132.7" r="7.1" fill="url(#gBlue)"/>
<circle cx="953.8" cy="1133.4" r="7.1" fill="url(#gBlue)"/>
<circle cx="1006.8" cy="1134" r="7.1" fill="url(#gBlue)"/>
<circle cx="1059.9" cy="1134.7" r="7.1" fill="url(#gBlue)"/>
<circle cx="1112.9" cy="1135.3" r="7.1" fill="url(#gBlue)"/>
<circle cx="1166" cy="1136" r="7.1" fill="url(#gBlue)"/>
<circle cx="570.9" cy="1140.1" r="6.9" fill="#268c40"/>
<circle cx="625.1" cy="1140.7" r="6.9" fill="#2a9542"/>
<circle cx="679.3" cy="1141.3" r="6.9" fill="#2e9e45"/>
<circle cx="733.4" cy="1142" r="6.9" fill="#32a847"/>
<circle cx="787.6" cy="1142.6" r="6.9" fill="#36b14a"/>
<circle cx="841.8" cy="1143.2" r="6.9" fill="#3abb4c"/>
<circle cx="896" cy="1143.8" r="6.9" fill="#3ec44f"/>
<circle cx="950.1" cy="1144.4" r="6.9" fill="#42cd51"/>
<circle cx="1004.3" cy="1145" r="6.9" fill="#46d654"/>
<circle cx="1058.5" cy="1145.7" r="6.9" fill="#46d654"/>
<circle cx="1112.6" cy="1146.3" r="6.9" fill="#46d654"/>
<circle cx="1166.8" cy="1146.9" r="6.9" fill="#46d654"/>
<circle cx="559.1" cy="1139.2" r="7.3" fill="url(#gBlue)"/>
<circle cx="613.3" cy="1139.8" r="7.3" fill="url(#gBlue)"/>
<circle cx="667.4" cy="1140.4" r="7.3" fill="url(#gBlue)"/>
<circle cx="721.6" cy="1141" r="7.3" fill="url(#gBlue)"/>
<circle cx="775.8" cy="1141.7" r="7.3" fill="url(#gBlue)"/>
<circle cx="830" cy="1142.3" r="7.3" fill="url(#gBlue)"/>
<circle cx="884.1" cy="1142.9" r="7.3" fill="url(#gBlue)"/>
<circle cx="938.3" cy="1143.5" r="7.3" fill="url(#gBlue)"/>
<circle cx="992.5" cy="1144.1" r="7.3" fill="url(#gBlue)"/>
<circle cx="1046.7" cy="1144.8" r="7.3" fill="url(#gBlue)"/>
<circle cx="1100.8" cy="1145.4" r="7.3" fill="url(#gBlue)"/>
<circle cx="1155" cy="1146" r="7.3" fill="url(#gBlue)"/>
<circle cx="547.9" cy="1150.6" r="7.1" fill="#268c40"/>
<circle cx="603.2" cy="1151.1" r="7.1" fill="#2a9542"/>
<circle cx="658.5" cy="1151.7" r="7.1" fill="#2e9e45"/>
<circle cx="713.8" cy="1152.3" r="7.1" fill="#32a847"/>
<circle cx="769.1" cy="1152.9" r="7.1" fill="#36b14a"/>
<circle cx="824.4" cy="1153.5" r="7.1" fill="#3abb4c"/>
<circle cx="879.7" cy="1154" r="7.1" fill="#3ec44f"/>
<circle cx="935" cy="1154.6" r="7.1" fill="#42cd51"/>
<circle cx="990.2" cy="1155.2" r="7.1" fill="#46d654"/>
<circle cx="1045.5" cy="1155.8" r="7.1" fill="#46d654"/>
<circle cx="1100.8" cy="1156.4" r="7.1" fill="#46d654"/>
<circle cx="1156.1" cy="1156.9" r="7.1" fill="#46d654"/>
<circle cx="535.8" cy="1149.6" r="7.5" fill="url(#gBlue)"/>
<circle cx="591.1" cy="1150.2" r="7.5" fill="url(#gBlue)"/>
<circle cx="646.4" cy="1150.8" r="7.5" fill="url(#gBlue)"/>
<circle cx="701.7" cy="1151.4" r="7.5" fill="url(#gBlue)"/>
<circle cx="757" cy="1152" r="7.5" fill="url(#gBlue)"/>
<circle cx="812.3" cy="1152.5" r="7.5" fill="url(#gBlue)"/>
<circle cx="867.6" cy="1153.1" r="7.5" fill="url(#gBlue)"/>
<circle cx="922.8" cy="1153.7" r="7.5" fill="url(#gBlue)"/>
<circle cx="978.1" cy="1154.3" r="7.5" fill="url(#gBlue)"/>
<circle cx="1033.4" cy="1154.8" r="7.5" fill="url(#gBlue)"/>
<circle cx="1088.7" cy="1155.4" r="7.5" fill="url(#gBlue)"/>
<circle cx="1144" cy="1156" r="7.5" fill="url(#gBlue)"/>
<circle cx="525" cy="1161" r="7.3" fill="#268c40"/>
<circle cx="581.4" cy="1161.6" r="7.3" fill="#2a9542"/>
<circle cx="637.8" cy="1162.1" r="7.3" fill="#2e9e45"/>
<circle cx="694.2" cy="1162.7" r="7.3" fill="#32a847"/>
<circle cx="750.6" cy="1163.2" r="7.3" fill="#36b14a"/>
<circle cx="807" cy="1163.7" r="7.3" fill="#3abb4c"/>
<circle cx="863.4" cy="1164.3" r="7.3" fill="#3ec44f"/>
<circle cx="919.8" cy="1164.8" r="7.3" fill="#42cd51"/>
<circle cx="976.2" cy="1165.3" r="7.3" fill="#46d654"/>
<circle cx="1032.6" cy="1165.9" r="7.3" fill="#46d654"/>
<circle cx="1089" cy="1166.4" r="7.3" fill="#46d654"/>
<circle cx="1145.4" cy="1167" r="7.3" fill="#46d654"/>
<circle cx="512.5" cy="1160.1" r="7.6" fill="url(#gBlue)"/>
<circle cx="569" cy="1160.6" r="7.6" fill="url(#gBlue)"/>
<circle cx="625.4" cy="1161.2" r="7.6" fill="url(#gBlue)"/>
<circle cx="681.8" cy="1161.7" r="7.6" fill="url(#gBlue)"/>
<circle cx="738.2" cy="1162.2" r="7.6" fill="url(#gBlue)"/>
<circle cx="794.6" cy="1162.8" r="7.6" fill="url(#gBlue)"/>
<circle cx="851" cy="1163.3" r="7.6" fill="url(#gBlue)"/>
<circle cx="907.4" cy="1163.9" r="7.6" fill="url(#gBlue)"/>
<circle cx="963.8" cy="1164.4" r="7.6" fill="url(#gBlue)"/>
<circle cx="1020.2" cy="1164.9" r="7.6" fill="url(#gBlue)"/>
<circle cx="1076.6" cy="1165.5" r="7.6" fill="url(#gBlue)"/>
<circle cx="1133" cy="1166" r="7.6" fill="url(#gBlue)"/>
<circle cx="502" cy="1171.5" r="7.4" fill="#268c40"/>
<circle cx="559.5" cy="1172" r="7.4" fill="#2a9542"/>
<circle cx="617" cy="1172.5" r="7.4" fill="#2e9e45"/>
<circle cx="674.5" cy="1173" r="7.4" fill="#32a847"/>
<circle cx="732.1" cy="1173.5" r="7.4" fill="#36b14a"/>
<circle cx="789.6" cy="1174" r="7.4" fill="#3abb4c"/>
<circle cx="847.1" cy="1174.5" r="7.4" fill="#3ec44f"/>
<circle cx="904.6" cy="1175" r="7.4" fill="#42cd51"/>
<circle cx="962.1" cy="1175.5" r="7.4" fill="#46d654"/>
<circle cx="1019.7" cy="1176" r="7.4" fill="#46d654"/>
<circle cx="1077.2" cy="1176.5" r="7.4" fill="#46d654"/>
<circle cx="1134.7" cy="1177" r="7.4" fill="#46d654"/>
<circle cx="489.3" cy="1170.5" r="7.8" fill="url(#gBlue)"/>
<circle cx="546.8" cy="1171" r="7.8" fill="url(#gBlue)"/>
<circle cx="604.3" cy="1171.5" r="7.8" fill="url(#gBlue)"/>
<circle cx="661.8" cy="1172" r="7.8" fill="url(#gBlue)"/>
<circle cx="719.4" cy="1172.5" r="7.8" fill="url(#gBlue)"/>
<circle cx="776.9" cy="1173" r="7.8" fill="url(#gBlue)"/>
<circle cx="834.4" cy="1173.5" r="7.8" fill="url(#gBlue)"/>
<circle cx="891.9" cy="1174" r="7.8" fill="url(#gBlue)"/>
<circle cx="949.4" cy="1174.5" r="7.8" fill="url(#gBlue)"/>
<circle cx="1007" cy="1175" r="7.8" fill="url(#gBlue)"/>
<circle cx="1064.5" cy="1175.5" r="7.8" fill="url(#gBlue)"/>
<circle cx="1122" cy="1176" r="7.8" fill="url(#gBlue)"/>
<circle cx="479" cy="1182" r="7.6" fill="#268c40"/>
<circle cx="537.6" cy="1182.5" r="7.6" fill="#2a9542"/>
<circle cx="596.3" cy="1182.9" r="7.6" fill="#2e9e45"/>
<circle cx="654.9" cy="1183.4" r="7.6" fill="#32a847"/>
<circle cx="713.5" cy="1183.8" r="7.6" fill="#36b14a"/>
<circle cx="772.2" cy="1184.3" r="7.6" fill="#3abb4c"/>
<circle cx="830.8" cy="1184.7" r="7.6" fill="#3ec44f"/>
<circle cx="889.5" cy="1185.2" r="7.6" fill="#42cd51"/>
<circle cx="948.1" cy="1185.6" r="7.6" fill="#46d654"/>
<circle cx="1006.7" cy="1186.1" r="7.6" fill="#46d654"/>
<circle cx="1065.4" cy="1186.5" r="7.6" fill="#46d654"/>
<circle cx="1124" cy="1187" r="7.6" fill="#46d654"/>
<circle cx="466" cy="1181" r="8" fill="url(#gBlue)"/>
<circle cx="524.6" cy="1181.5" r="8" fill="url(#gBlue)"/>
<circle cx="583.3" cy="1181.9" r="8" fill="url(#gBlue)"/>
<circle cx="641.9" cy="1182.4" r="8" fill="url(#gBlue)"/>
<circle cx="700.5" cy="1182.8" r="8" fill="url(#gBlue)"/>
<circle cx="759.2" cy="1183.3" r="8" fill="url(#gBlue)"/>
<circle cx="817.8" cy="1183.7" r="8" fill="url(#gBlue)"/>
<circle cx="876.5" cy="1184.2" r="8" fill="url(#gBlue)"/>
<circle cx="935.1" cy="1184.6" r="8" fill="url(#gBlue)"/>
<circle cx="993.7" cy="1185.1" r="8" fill="url(#gBlue)"/>
<circle cx="1052.4" cy="1185.5" r="8" fill="url(#gBlue)"/>
<circle cx="1111" cy="1186" r="8" fill="url(#gBlue)"/>
<circle cx="733.2" cy="1056.2" r="4.8" fill="#3fcf4f"/>
<circle cx="779.6" cy="1057.2" r="4.8" fill="#3fcf4f"/>
<circle cx="826" cy="1058.1" r="4.8" fill="#3fcf4f"/>
<circle cx="872.3" cy="1059" r="4.8" fill="#3fcf4f"/>
<circle cx="918.7" cy="1059.9" r="4.8" fill="#3fcf4f"/>
<circle cx="965.1" cy="1060.8" r="4.8" fill="#3fcf4f"/>
<circle cx="1011.4" cy="1061.7" r="4.8" fill="#3fcf4f"/>
<circle cx="1057.8" cy="1062.6" r="4.8" fill="#3fcf4f"/>
<circle cx="1104.2" cy="1063.5" r="4.8" fill="#3fcf4f"/>
<circle cx="1150.5" cy="1064.4" r="4.8" fill="#3fcf4f"/>
<circle cx="1196.9" cy="1065.3" r="4.8" fill="#3fcf4f"/>
<circle cx="1243.2" cy="1066.2" r="4.8" fill="#3fcf4f"/>
<circle cx="496" cy="1197" r="9.2" fill="url(#gBlue)"/>
<circle cx="554.6" cy="1197.5" r="9.2" fill="url(#gBlue)"/>
<circle cx="613.3" cy="1197.9" r="9.2" fill="url(#gBlue)"/>
<circle cx="671.9" cy="1198.4" r="9.2" fill="url(#gBlue)"/>
<circle cx="730.5" cy="1198.8" r="9.2" fill="url(#gBlue)"/>
<circle cx="789.2" cy="1199.3" r="9.2" fill="url(#gBlue)"/>
<circle cx="847.8" cy="1199.7" r="9.2" fill="url(#gBlue)"/>
<circle cx="906.5" cy="1200.2" r="9.2" fill="url(#gBlue)"/>
<circle cx="965.1" cy="1200.6" r="9.2" fill="url(#gBlue)"/>
<circle cx="1023.7" cy="1201.1" r="9.2" fill="url(#gBlue)"/>
<circle cx="1082.4" cy="1201.5" r="9.2" fill="url(#gBlue)"/>
<circle cx="496" cy="1220" r="8" fill="#5c5a9a" opacity="0.55"/>
<circle cx="554.6" cy="1220.5" r="8" fill="#5c5a9a" opacity="0.55"/>
<circle cx="613.3" cy="1220.9" r="8" fill="#5c5a9a" opacity="0.55"/>
<circle cx="671.9" cy="1221.4" r="8" fill="#5c5a9a" opacity="0.55"/>
<circle cx="730.5" cy="1221.8" r="8" fill="#5c5a9a" opacity="0.55"/>
<circle cx="789.2" cy="1222.3" r="8" fill="#5c5a9a" opacity="0.55"/>
<circle cx="847.8" cy="1222.7" r="8" fill="#5c5a9a" opacity="0.55"/>
<circle cx="906.5" cy="1223.2" r="8" fill="#5c5a9a" opacity="0.55"/>
<circle cx="965.1" cy="1223.6" r="8" fill="#5c5a9a" opacity="0.55"/>
<circle cx="1023.7" cy="1224.1" r="8" fill="#5c5a9a" opacity="0.55"/>
<circle cx="1082.4" cy="1224.5" r="8" fill="#5c5a9a" opacity="0.55"/>
<circle cx="466" cy="1234" r="9" fill="url(#gBlue)"/>
<circle cx="524.6" cy="1234.5" r="9" fill="url(#gBlue)"/>
<circle cx="583.3" cy="1234.9" r="9" fill="url(#gBlue)"/>
<circle cx="641.9" cy="1235.4" r="9" fill="url(#gBlue)"/>
<circle cx="700.5" cy="1235.8" r="9" fill="url(#gBlue)"/>
<circle cx="759.2" cy="1236.3" r="9" fill="url(#gBlue)"/>
<circle cx="817.8" cy="1236.7" r="9" fill="url(#gBlue)"/>
<circle cx="876.5" cy="1237.2" r="9" fill="url(#gBlue)"/>
<circle cx="935.1" cy="1237.6" r="9" fill="url(#gBlue)"/>
<circle cx="993.7" cy="1238.1" r="9" fill="url(#gBlue)"/>
<circle cx="1052.4" cy="1238.5" r="9" fill="url(#gBlue)"/>
<circle cx="1111" cy="1239" r="9" fill="url(#gBlue)"/>
<circle cx="496" cy="1257" r="8" fill="#5c5a9a" opacity="0.55"/>
<circle cx="554.6" cy="1257.5" r="8" fill="#5c5a9a" opacity="0.55"/>
<circle cx="613.3" cy="1257.9" r="8" fill="#5c5a9a" opacity="0.55"/>
<circle cx="671.9" cy="1258.4" r="8" fill="#5c5a9a" opacity="0.55"/>
<circle cx="730.5" cy="1258.8" r="8" fill="#5c5a9a" opacity="0.55"/>
<circle cx="789.2" cy="1259.3" r="8" fill="#5c5a9a" opacity="0.55"/>
<circle cx="847.8" cy="1259.7" r="8" fill="#5c5a9a" opacity="0.55"/>
<circle cx="906.5" cy="1260.2" r="8" fill="#5c5a9a" opacity="0.55"/>
<circle cx="965.1" cy="1260.6" r="8" fill="#5c5a9a" opacity="0.55"/>
<circle cx="1023.7" cy="1261.1" r="8" fill="#5c5a9a" opacity="0.55"/>
<circle cx="1082.4" cy="1261.5" r="8" fill="#5c5a9a" opacity="0.55"/>
<circle cx="497" cy="1274" r="9" fill="url(#gBlue)"/>
<circle cx="555.6" cy="1274.5" r="9" fill="url(#gBlue)"/>
<circle cx="614.3" cy="1274.9" r="9" fill="url(#gBlue)"/>
<circle cx="672.9" cy="1275.4" r="9" fill="url(#gBlue)"/>
<circle cx="731.5" cy="1275.8" r="9" fill="url(#gBlue)"/>
<circle cx="790.2" cy="1276.3" r="9" fill="url(#gBlue)"/>
<circle cx="848.8" cy="1276.7" r="9" fill="url(#gBlue)"/>
<circle cx="907.5" cy="1277.2" r="9" fill="url(#gBlue)"/>
<circle cx="966.1" cy="1277.6" r="9" fill="url(#gBlue)"/>
<circle cx="1024.7" cy="1278.1" r="9" fill="url(#gBlue)"/>
<circle cx="1083.4" cy="1278.5" r="9" fill="url(#gBlue)"/>
<circle cx="527" cy="1287" r="5" fill="#3fcf4f"/>
<circle cx="585.6" cy="1287.5" r="5" fill="#3fcf4f"/>
<circle cx="644.3" cy="1287.9" r="5" fill="#3fcf4f"/>
<circle cx="702.9" cy="1288.4" r="5" fill="#3fcf4f"/>
<circle cx="761.5" cy="1288.8" r="5" fill="#3fcf4f"/>
<circle cx="820.2" cy="1289.3" r="5" fill="#3fcf4f"/>
<circle cx="878.8" cy="1289.7" r="5" fill="#3fcf4f"/>
<circle cx="937.5" cy="1290.2" r="5" fill="#3fcf4f"/>
<circle cx="996.1" cy="1290.6" r="5" fill="#3fcf4f"/>
<circle cx="1054.7" cy="1291.1" r="5" fill="#3fcf4f"/>
<circle cx="1113.4" cy="1291.5" r="5" fill="#3fcf4f"/>
<circle cx="497" cy="1297" r="5" fill="#3fcf4f"/>
<circle cx="555.6" cy="1297.5" r="5" fill="#3fcf4f"/>
<circle cx="614.3" cy="1297.9" r="5" fill="#3fcf4f"/>
<circle cx="672.9" cy="1298.4" r="5" fill="#3fcf4f"/>
<circle cx="731.5" cy="1298.8" r="5" fill="#3fcf4f"/>
<circle cx="790.2" cy="1299.3" r="5" fill="#3fcf4f"/>
<circle cx="848.8" cy="1299.7" r="5" fill="#3fcf4f"/>
<circle cx="907.5" cy="1300.2" r="5" fill="#3fcf4f"/>
<circle cx="966.1" cy="1300.6" r="5" fill="#3fcf4f"/>
<circle cx="1024.7" cy="1301.1" r="5" fill="#3fcf4f"/>
<circle cx="1083.4" cy="1301.5" r="5" fill="#3fcf4f"/>
<path d="M735,1581.5 L872,1469.2 L893,1538.2 L763,1673.5Z" fill="url(#gSideR)"/>
<path d="M139,1576.5 L735,1581.5 L763,1673.5 L155,1668.5 L155,1631.5 L139,1631.5Z" fill="url(#gSideF)"/>
<path d="M127,1577.5 L735,1582.5 L872,1470 L385,1470Z" fill="#c2bfd0"/>
<path d="M155,1592.5L155,1664.5M210.3,1593L210.3,1665M265.5,1593.4L265.5,1665.4M320.8,1593.9L320.8,1665.9M376.1,1594.3L376.1,1666.3M431.4,1594.8L431.4,1666.8M486.6,1595.2L486.6,1667.2M541.9,1595.7L541.9,1667.7M597.2,1596.1L597.2,1668.1M652.5,1596.6L652.5,1668.6M707.7,1597L707.7,1669M763,1597.5L763,1669.5" stroke="#8d8aa8" stroke-width="5" opacity="0.45"/>
<path d="M176.6,1579.7L176.6,1666.7M231.9,1580.2L231.9,1667.2M287.2,1580.6L287.2,1667.6M342.5,1581.1L342.5,1668.1M397.7,1581.5L397.7,1668.5M453,1582L453,1669M508.3,1582.5L508.3,1669.5M563.5,1582.9L563.5,1669.9M618.8,1583.4L618.8,1670.4M674.1,1583.8L674.1,1670.8M729.4,1584.3L729.4,1671.3" stroke="#6e6c80" stroke-width="9" opacity="0.22"/>
<circle cx="876.5" cy="1507.5" r="5.7" fill="url(#gBlue)"/>
<circle cx="890.7" cy="1533.8" r="5.7" fill="url(#gBlue)"/>
<circle cx="865.2" cy="1517.9" r="5.9" fill="url(#gBlue)"/>
<circle cx="879.8" cy="1544.9" r="5.9" fill="url(#gBlue)"/>
<circle cx="853.9" cy="1528.3" r="6.1" fill="url(#gBlue)"/>
<circle cx="868.9" cy="1556" r="6.1" fill="url(#gBlue)"/>
<circle cx="842.6" cy="1538.8" r="6.2" fill="url(#gBlue)"/>
<circle cx="858" cy="1567.2" r="6.2" fill="url(#gBlue)"/>
<circle cx="831.3" cy="1549.2" r="6.4" fill="url(#gBlue)"/>
<circle cx="847.1" cy="1578.3" r="6.4" fill="url(#gBlue)"/>
<circle cx="820" cy="1559.6" r="6.5" fill="url(#gBlue)"/>
<circle cx="836.2" cy="1589.5" r="6.5" fill="url(#gBlue)"/>
<circle cx="808.8" cy="1570" r="6.7" fill="url(#gBlue)"/>
<circle cx="825.3" cy="1600.6" r="6.7" fill="url(#gBlue)"/>
<circle cx="797.5" cy="1580.4" r="6.9" fill="url(#gBlue)"/>
<circle cx="814.4" cy="1611.8" r="6.9" fill="url(#gBlue)"/>
<circle cx="786.2" cy="1590.8" r="7" fill="url(#gBlue)"/>
<circle cx="803.5" cy="1622.9" r="7" fill="url(#gBlue)"/>
<circle cx="774.9" cy="1601.2" r="7.2" fill="url(#gBlue)"/>
<circle cx="792.6" cy="1634.1" r="7.2" fill="url(#gBlue)"/>
<circle cx="763.6" cy="1611.7" r="7.3" fill="url(#gBlue)"/>
<circle cx="781.7" cy="1645.2" r="7.3" fill="url(#gBlue)"/>
<circle cx="752.3" cy="1622.1" r="7.5" fill="url(#gBlue)"/>
<circle cx="770.8" cy="1656.4" r="7.5" fill="url(#gBlue)"/>
<circle cx="385" cy="1470" r="5.4" fill="url(#gBlue)"/>
<circle cx="429.3" cy="1470" r="5.4" fill="url(#gBlue)"/>
<circle cx="473.5" cy="1470" r="5.4" fill="url(#gBlue)"/>
<circle cx="517.8" cy="1470" r="5.4" fill="url(#gBlue)"/>
<circle cx="562.1" cy="1470" r="5.4" fill="url(#gBlue)"/>
<circle cx="606.4" cy="1470" r="5.4" fill="url(#gBlue)"/>
<circle cx="650.6" cy="1470" r="5.4" fill="url(#gBlue)"/>
<circle cx="694.9" cy="1470" r="5.4" fill="url(#gBlue)"/>
<circle cx="739.2" cy="1470" r="5.4" fill="url(#gBlue)"/>
<circle cx="783.5" cy="1470" r="5.4" fill="url(#gBlue)"/>
<circle cx="827.7" cy="1470" r="5.4" fill="url(#gBlue)"/>
<circle cx="872" cy="1470" r="5.4" fill="url(#gBlue)"/>
<circle cx="407.1" cy="1467.8" r="3.9" fill="#e2e23c"/>
<circle cx="451.4" cy="1467.8" r="3.9" fill="#e2e23c"/>
<circle cx="495.7" cy="1467.8" r="3.9" fill="#e2e23c"/>
<circle cx="540" cy="1467.8" r="3.9" fill="#e2e23c"/>
<circle cx="584.2" cy="1467.8" r="3.9" fill="#e2e23c"/>
<circle cx="628.5" cy="1467.8" r="3.9" fill="#e2e23c"/>
<circle cx="672.8" cy="1467.8" r="3.9" fill="#e2e23c"/>
<circle cx="717" cy="1467.8" r="3.9" fill="#e2e23c"/>
<circle cx="761.3" cy="1467.8" r="3.9" fill="#e2e23c"/>
<circle cx="805.6" cy="1467.8" r="3.9" fill="#e2e23c"/>
<circle cx="849.9" cy="1467.8" r="3.9" fill="#e2e23c"/>
<circle cx="363.5" cy="1479" r="5.6" fill="url(#gBlue)"/>
<circle cx="408.7" cy="1479" r="5.6" fill="url(#gBlue)"/>
<circle cx="453.9" cy="1479" r="5.6" fill="url(#gBlue)"/>
<circle cx="499.1" cy="1479.1" r="5.6" fill="url(#gBlue)"/>
<circle cx="544.3" cy="1479.1" r="5.6" fill="url(#gBlue)"/>
<circle cx="589.4" cy="1479.1" r="5.6" fill="url(#gBlue)"/>
<circle cx="634.6" cy="1479.2" r="5.6" fill="url(#gBlue)"/>
<circle cx="679.8" cy="1479.2" r="5.6" fill="url(#gBlue)"/>
<circle cx="725" cy="1479.3" r="5.6" fill="url(#gBlue)"/>
<circle cx="770.2" cy="1479.3" r="5.6" fill="url(#gBlue)"/>
<circle cx="815.4" cy="1479.3" r="5.6" fill="url(#gBlue)"/>
<circle cx="860.6" cy="1479.4" r="5.6" fill="url(#gBlue)"/>
<circle cx="396.6" cy="1472.2" r="4" fill="#e2e23c"/>
<circle cx="441.3" cy="1472.2" r="4" fill="#e2e23c"/>
<circle cx="486.1" cy="1472.2" r="4" fill="#e2e23c"/>
<circle cx="530.8" cy="1472.3" r="4" fill="#e2e23c"/>
<circle cx="575.5" cy="1472.3" r="4" fill="#e2e23c"/>
<circle cx="620.3" cy="1472.3" r="4" fill="#e2e23c"/>
<circle cx="665" cy="1472.3" r="4" fill="#e2e23c"/>
<circle cx="709.7" cy="1472.3" r="4" fill="#e2e23c"/>
<circle cx="754.5" cy="1472.4" r="4" fill="#e2e23c"/>
<circle cx="799.2" cy="1472.4" r="4" fill="#e2e23c"/>
<circle cx="843.9" cy="1472.4" r="4" fill="#e2e23c"/>
<circle cx="342" cy="1487.9" r="5.7" fill="url(#gBlue)"/>
<circle cx="388.1" cy="1488" r="5.7" fill="url(#gBlue)"/>
<circle cx="434.2" cy="1488.1" r="5.7" fill="url(#gBlue)"/>
<circle cx="480.3" cy="1488.1" r="5.7" fill="url(#gBlue)"/>
<circle cx="526.4" cy="1488.2" r="5.7" fill="url(#gBlue)"/>
<circle cx="572.5" cy="1488.3" r="5.7" fill="url(#gBlue)"/>
<circle cx="618.6" cy="1488.4" r="5.7" fill="url(#gBlue)"/>
<circle cx="664.7" cy="1488.4" r="5.7" fill="url(#gBlue)"/>
<circle cx="710.8" cy="1488.5" r="5.7" fill="url(#gBlue)"/>
<circle cx="757" cy="1488.6" r="5.7" fill="url(#gBlue)"/>
<circle cx="803.1" cy="1488.7" r="5.7" fill="url(#gBlue)"/>
<circle cx="849.2" cy="1488.8" r="5.7" fill="url(#gBlue)"/>
<circle cx="375.6" cy="1481.1" r="4.1" fill="#e2e23c"/>
<circle cx="421.2" cy="1481.2" r="4.1" fill="#e2e23c"/>
<circle cx="466.9" cy="1481.2" r="4.1" fill="#e2e23c"/>
<circle cx="512.5" cy="1481.3" r="4.1" fill="#e2e23c"/>
<circle cx="558.2" cy="1481.3" r="4.1" fill="#e2e23c"/>
<circle cx="603.8" cy="1481.4" r="4.1" fill="#e2e23c"/>
<circle cx="649.5" cy="1481.5" r="4.1" fill="#e2e23c"/>
<circle cx="695.1" cy="1481.5" r="4.1" fill="#e2e23c"/>
<circle cx="740.8" cy="1481.6" r="4.1" fill="#e2e23c"/>
<circle cx="786.4" cy="1481.6" r="4.1" fill="#e2e23c"/>
<circle cx="832.1" cy="1481.7" r="4.1" fill="#e2e23c"/>
<circle cx="320.5" cy="1496.9" r="5.9" fill="url(#gBlue)"/>
<circle cx="367.5" cy="1497" r="5.9" fill="url(#gBlue)"/>
<circle cx="414.5" cy="1497.1" r="5.9" fill="url(#gBlue)"/>
<circle cx="461.6" cy="1497.2" r="5.9" fill="url(#gBlue)"/>
<circle cx="508.6" cy="1497.3" r="5.9" fill="url(#gBlue)"/>
<circle cx="555.6" cy="1497.4" r="5.9" fill="url(#gBlue)"/>
<circle cx="602.6" cy="1497.6" r="5.9" fill="url(#gBlue)"/>
<circle cx="649.7" cy="1497.7" r="5.9" fill="url(#gBlue)"/>
<circle cx="696.7" cy="1497.8" r="5.9" fill="url(#gBlue)"/>
<circle cx="743.7" cy="1497.9" r="5.9" fill="url(#gBlue)"/>
<circle cx="790.7" cy="1498" r="5.9" fill="url(#gBlue)"/>
<circle cx="837.8" cy="1498.1" r="5.9" fill="url(#gBlue)"/>
<circle cx="354.5" cy="1490" r="4.2" fill="#e2e23c"/>
<circle cx="401.1" cy="1490.1" r="4.2" fill="#e2e23c"/>
<circle cx="447.7" cy="1490.2" r="4.2" fill="#e2e23c"/>
<circle cx="494.2" cy="1490.3" r="4.2" fill="#e2e23c"/>
<circle cx="540.8" cy="1490.4" r="4.2" fill="#e2e23c"/>
<circle cx="587.4" cy="1490.5" r="4.2" fill="#e2e23c"/>
<circle cx="633.9" cy="1490.6" r="4.2" fill="#e2e23c"/>
<circle cx="680.5" cy="1490.7" r="4.2" fill="#e2e23c"/>
<circle cx="727" cy="1490.8" r="4.2" fill="#e2e23c"/>
<circle cx="773.6" cy="1490.9" r="4.2" fill="#e2e23c"/>
<circle cx="820.2" cy="1491" r="4.2" fill="#e2e23c"/>
<circle cx="299" cy="1505.8" r="6" fill="url(#gBlue)"/>
<circle cx="346.9" cy="1506" r="6" fill="url(#gBlue)"/>
<circle cx="394.9" cy="1506.1" r="6" fill="url(#gBlue)"/>
<circle cx="442.8" cy="1506.3" r="6" fill="url(#gBlue)"/>
<circle cx="490.8" cy="1506.4" r="6" fill="url(#gBlue)"/>
<circle cx="538.7" cy="1506.6" r="6" fill="url(#gBlue)"/>
<circle cx="586.6" cy="1506.7" r="6" fill="url(#gBlue)"/>
<circle cx="634.6" cy="1506.9" r="6" fill="url(#gBlue)"/>
<circle cx="682.5" cy="1507" r="6" fill="url(#gBlue)"/>
<circle cx="730.5" cy="1507.2" r="6" fill="url(#gBlue)"/>
<circle cx="778.4" cy="1507.3" r="6" fill="url(#gBlue)"/>
<circle cx="826.3" cy="1507.5" r="6" fill="url(#gBlue)"/>
<circle cx="333.5" cy="1499" r="4.3" fill="#e2e23c"/>
<circle cx="381" cy="1499.1" r="4.3" fill="#e2e23c"/>
<circle cx="428.5" cy="1499.2" r="4.3" fill="#e2e23c"/>
<circle cx="475.9" cy="1499.3" r="4.3" fill="#e2e23c"/>
<circle cx="523.4" cy="1499.5" r="4.3" fill="#e2e23c"/>
<circle cx="570.9" cy="1499.6" r="4.3" fill="#e2e23c"/>
<circle cx="618.4" cy="1499.7" r="4.3" fill="#e2e23c"/>
<circle cx="665.9" cy="1499.9" r="4.3" fill="#e2e23c"/>
<circle cx="713.3" cy="1500" r="4.3" fill="#e2e23c"/>
<circle cx="760.8" cy="1500.1" r="4.3" fill="#e2e23c"/>
<circle cx="808.3" cy="1500.3" r="4.3" fill="#e2e23c"/>
<circle cx="277.5" cy="1514.8" r="6.1" fill="url(#gBlue)"/>
<circle cx="326.4" cy="1515" r="6.1" fill="url(#gBlue)"/>
<circle cx="375.2" cy="1515.2" r="6.1" fill="url(#gBlue)"/>
<circle cx="424.1" cy="1515.4" r="6.1" fill="url(#gBlue)"/>
<circle cx="472.9" cy="1515.5" r="6.1" fill="url(#gBlue)"/>
<circle cx="521.8" cy="1515.7" r="6.1" fill="url(#gBlue)"/>
<circle cx="570.6" cy="1515.9" r="6.1" fill="url(#gBlue)"/>
<circle cx="619.5" cy="1516.1" r="6.1" fill="url(#gBlue)"/>
<circle cx="668.3" cy="1516.3" r="6.1" fill="url(#gBlue)"/>
<circle cx="717.2" cy="1516.5" r="6.1" fill="url(#gBlue)"/>
<circle cx="766.1" cy="1516.7" r="6.1" fill="url(#gBlue)"/>
<circle cx="814.9" cy="1516.9" r="6.1" fill="url(#gBlue)"/>
<circle cx="312.4" cy="1507.9" r="4.4" fill="#e2e23c"/>
<circle cx="360.8" cy="1508" r="4.4" fill="#e2e23c"/>
<circle cx="409.2" cy="1508.2" r="4.4" fill="#e2e23c"/>
<circle cx="457.6" cy="1508.4" r="4.4" fill="#e2e23c"/>
<circle cx="506" cy="1508.5" r="4.4" fill="#e2e23c"/>
<circle cx="554.4" cy="1508.7" r="4.4" fill="#e2e23c"/>
<circle cx="602.8" cy="1508.9" r="4.4" fill="#e2e23c"/>
<circle cx="651.2" cy="1509.1" r="4.4" fill="#e2e23c"/>
<circle cx="699.6" cy="1509.2" r="4.4" fill="#e2e23c"/>
<circle cx="748" cy="1509.4" r="4.4" fill="#e2e23c"/>
<circle cx="796.4" cy="1509.6" r="4.4" fill="#e2e23c"/>
<circle cx="256" cy="1523.8" r="6.3" fill="url(#gBlue)"/>
<circle cx="305.8" cy="1524" r="6.3" fill="url(#gBlue)"/>
<circle cx="355.5" cy="1524.2" r="6.3" fill="url(#gBlue)"/>
<circle cx="405.3" cy="1524.4" r="6.3" fill="url(#gBlue)"/>
<circle cx="455.1" cy="1524.7" r="6.3" fill="url(#gBlue)"/>
<circle cx="504.9" cy="1524.9" r="6.3" fill="url(#gBlue)"/>
<circle cx="554.6" cy="1525.1" r="6.3" fill="url(#gBlue)"/>
<circle cx="604.4" cy="1525.3" r="6.3" fill="url(#gBlue)"/>
<circle cx="654.2" cy="1525.6" r="6.3" fill="url(#gBlue)"/>
<circle cx="704" cy="1525.8" r="6.3" fill="url(#gBlue)"/>
<circle cx="753.7" cy="1526" r="6.3" fill="url(#gBlue)"/>
<circle cx="803.5" cy="1526.2" r="6.3" fill="url(#gBlue)"/>
<circle cx="291.4" cy="1516.8" r="4.5" fill="#e2e23c"/>
<circle cx="340.7" cy="1517" r="4.5" fill="#e2e23c"/>
<circle cx="390" cy="1517.2" r="4.5" fill="#e2e23c"/>
<circle cx="439.4" cy="1517.4" r="4.5" fill="#e2e23c"/>
<circle cx="488.7" cy="1517.6" r="4.5" fill="#e2e23c"/>
<circle cx="538" cy="1517.8" r="4.5" fill="#e2e23c"/>
<circle cx="587.3" cy="1518" r="4.5" fill="#e2e23c"/>
<circle cx="636.6" cy="1518.2" r="4.5" fill="#e2e23c"/>
<circle cx="685.9" cy="1518.4" r="4.5" fill="#e2e23c"/>
<circle cx="735.2" cy="1518.7" r="4.5" fill="#e2e23c"/>
<circle cx="784.6" cy="1518.9" r="4.5" fill="#e2e23c"/>
<circle cx="234.5" cy="1532.7" r="6.5" fill="url(#gBlue)"/>
<circle cx="285.2" cy="1533" r="6.5" fill="url(#gBlue)"/>
<circle cx="335.9" cy="1533.2" r="6.5" fill="url(#gBlue)"/>
<circle cx="386.6" cy="1533.5" r="6.5" fill="url(#gBlue)"/>
<circle cx="437.3" cy="1533.8" r="6.5" fill="url(#gBlue)"/>
<circle cx="487.9" cy="1534" r="6.5" fill="url(#gBlue)"/>
<circle cx="538.6" cy="1534.3" r="6.5" fill="url(#gBlue)"/>
<circle cx="589.3" cy="1534.6" r="6.5" fill="url(#gBlue)"/>
<circle cx="640" cy="1534.8" r="6.5" fill="url(#gBlue)"/>
<circle cx="690.7" cy="1535.1" r="6.5" fill="url(#gBlue)"/>
<circle cx="741.4" cy="1535.4" r="6.5" fill="url(#gBlue)"/>
<circle cx="792.1" cy="1535.6" r="6.5" fill="url(#gBlue)"/>
<circle cx="270.4" cy="1525.7" r="4.7" fill="#e2e23c"/>
<circle cx="320.6" cy="1525.9" r="4.7" fill="#e2e23c"/>
<circle cx="370.8" cy="1526.2" r="4.7" fill="#e2e23c"/>
<circle cx="421.1" cy="1526.4" r="4.7" fill="#e2e23c"/>
<circle cx="471.3" cy="1526.7" r="4.7" fill="#e2e23c"/>
<circle cx="521.5" cy="1526.9" r="4.7" fill="#e2e23c"/>
<circle cx="571.8" cy="1527.2" r="4.7" fill="#e2e23c"/>
<circle cx="622" cy="1527.4" r="4.7" fill="#e2e23c"/>
<circle cx="672.2" cy="1527.7" r="4.7" fill="#e2e23c"/>
<circle cx="722.4" cy="1527.9" r="4.7" fill="#e2e23c"/>
<circle cx="772.7" cy="1528.2" r="4.7" fill="#e2e23c"/>
<circle cx="213" cy="1541.7" r="6.6" fill="url(#gBlue)"/>
<circle cx="264.6" cy="1542" r="6.6" fill="url(#gBlue)"/>
<circle cx="316.2" cy="1542.3" r="6.6" fill="url(#gBlue)"/>
<circle cx="367.8" cy="1542.6" r="6.6" fill="url(#gBlue)"/>
<circle cx="419.4" cy="1542.9" r="6.6" fill="url(#gBlue)"/>
<circle cx="471" cy="1543.2" r="6.6" fill="url(#gBlue)"/>
<circle cx="522.6" cy="1543.5" r="6.6" fill="url(#gBlue)"/>
<circle cx="574.2" cy="1543.8" r="6.6" fill="url(#gBlue)"/>
<circle cx="625.8" cy="1544.1" r="6.6" fill="url(#gBlue)"/>
<circle cx="677.5" cy="1544.4" r="6.6" fill="url(#gBlue)"/>
<circle cx="729.1" cy="1544.7" r="6.6" fill="url(#gBlue)"/>
<circle cx="780.7" cy="1545" r="6.6" fill="url(#gBlue)"/>
<circle cx="249.3" cy="1534.6" r="4.8" fill="#e2e23c"/>
<circle cx="300.5" cy="1534.9" r="4.8" fill="#e2e23c"/>
<circle cx="351.6" cy="1535.2" r="4.8" fill="#e2e23c"/>
<circle cx="402.8" cy="1535.5" r="4.8" fill="#e2e23c"/>
<circle cx="453.9" cy="1535.7" r="4.8" fill="#e2e23c"/>
<circle cx="505.1" cy="1536" r="4.8" fill="#e2e23c"/>
<circle cx="556.2" cy="1536.3" r="4.8" fill="#e2e23c"/>
<circle cx="607.4" cy="1536.6" r="4.8" fill="#e2e23c"/>
<circle cx="658.5" cy="1536.9" r="4.8" fill="#e2e23c"/>
<circle cx="709.7" cy="1537.2" r="4.8" fill="#e2e23c"/>
<circle cx="760.8" cy="1537.5" r="4.8" fill="#e2e23c"/>
<circle cx="191.5" cy="1550.6" r="6.8" fill="url(#gBlue)"/>
<circle cx="244" cy="1551" r="6.8" fill="url(#gBlue)"/>
<circle cx="296.5" cy="1551.3" r="6.8" fill="url(#gBlue)"/>
<circle cx="349.1" cy="1551.6" r="6.8" fill="url(#gBlue)"/>
<circle cx="401.6" cy="1552" r="6.8" fill="url(#gBlue)"/>
<circle cx="454.1" cy="1552.3" r="6.8" fill="url(#gBlue)"/>
<circle cx="506.6" cy="1552.7" r="6.8" fill="url(#gBlue)"/>
<circle cx="559.2" cy="1553" r="6.8" fill="url(#gBlue)"/>
<circle cx="611.7" cy="1553.4" r="6.8" fill="url(#gBlue)"/>
<circle cx="664.2" cy="1553.7" r="6.8" fill="url(#gBlue)"/>
<circle cx="716.7" cy="1554" r="6.8" fill="url(#gBlue)"/>
<circle cx="769.2" cy="1554.4" r="6.8" fill="url(#gBlue)"/>
<circle cx="228.3" cy="1543.5" r="4.9" fill="#e2e23c"/>
<circle cx="280.3" cy="1543.8" r="4.9" fill="#e2e23c"/>
<circle cx="332.4" cy="1544.2" r="4.9" fill="#e2e23c"/>
<circle cx="384.5" cy="1544.5" r="4.9" fill="#e2e23c"/>
<circle cx="436.5" cy="1544.8" r="4.9" fill="#e2e23c"/>
<circle cx="488.6" cy="1545.1" r="4.9" fill="#e2e23c"/>
<circle cx="540.7" cy="1545.5" r="4.9" fill="#e2e23c"/>
<circle cx="592.7" cy="1545.8" r="4.9" fill="#e2e23c"/>
<circle cx="644.8" cy="1546.1" r="4.9" fill="#e2e23c"/>
<circle cx="696.9" cy="1546.4" r="4.9" fill="#e2e23c"/>
<circle cx="748.9" cy="1546.7" r="4.9" fill="#e2e23c"/>
<circle cx="170" cy="1559.6" r="6.9" fill="url(#gBlue)"/>
<circle cx="223.4" cy="1560" r="6.9" fill="url(#gBlue)"/>
<circle cx="276.9" cy="1560.3" r="6.9" fill="url(#gBlue)"/>
<circle cx="330.3" cy="1560.7" r="6.9" fill="url(#gBlue)"/>
<circle cx="383.8" cy="1561.1" r="6.9" fill="url(#gBlue)"/>
<circle cx="437.2" cy="1561.5" r="6.9" fill="url(#gBlue)"/>
<circle cx="490.6" cy="1561.9" r="6.9" fill="url(#gBlue)"/>
<circle cx="544.1" cy="1562.2" r="6.9" fill="url(#gBlue)"/>
<circle cx="597.5" cy="1562.6" r="6.9" fill="url(#gBlue)"/>
<circle cx="651" cy="1563" r="6.9" fill="url(#gBlue)"/>
<circle cx="704.4" cy="1563.4" r="6.9" fill="url(#gBlue)"/>
<circle cx="757.8" cy="1563.8" r="6.9" fill="url(#gBlue)"/>
<circle cx="207.2" cy="1552.4" r="5" fill="#e2e23c"/>
<circle cx="260.2" cy="1552.8" r="5" fill="#e2e23c"/>
<circle cx="313.2" cy="1553.2" r="5" fill="#e2e23c"/>
<circle cx="366.2" cy="1553.5" r="5" fill="#e2e23c"/>
<circle cx="419.2" cy="1553.9" r="5" fill="#e2e23c"/>
<circle cx="472.1" cy="1554.2" r="5" fill="#e2e23c"/>
<circle cx="525.1" cy="1554.6" r="5" fill="#e2e23c"/>
<circle cx="578.1" cy="1555" r="5" fill="#e2e23c"/>
<circle cx="631.1" cy="1555.3" r="5" fill="#e2e23c"/>
<circle cx="684.1" cy="1555.7" r="5" fill="#e2e23c"/>
<circle cx="737.1" cy="1556" r="5" fill="#e2e23c"/>
<circle cx="148.5" cy="1568.5" r="7" fill="url(#gBlue)"/>
<circle cx="202.9" cy="1569" r="7" fill="url(#gBlue)"/>
<circle cx="257.2" cy="1569.4" r="7" fill="url(#gBlue)"/>
<circle cx="311.6" cy="1569.8" r="7" fill="url(#gBlue)"/>
<circle cx="365.9" cy="1570.2" r="7" fill="url(#gBlue)"/>
<circle cx="420.3" cy="1570.6" r="7" fill="url(#gBlue)"/>
<circle cx="474.6" cy="1571" r="7" fill="url(#gBlue)"/>
<circle cx="529" cy="1571.5" r="7" fill="url(#gBlue)"/>
<circle cx="583.3" cy="1571.9" r="7" fill="url(#gBlue)"/>
<circle cx="637.7" cy="1572.3" r="7" fill="url(#gBlue)"/>
<circle cx="692.1" cy="1572.7" r="7" fill="url(#gBlue)"/>
<circle cx="746.4" cy="1573.1" r="7" fill="url(#gBlue)"/>
<circle cx="186.2" cy="1561.4" r="5.1" fill="#e2e23c"/>
<circle cx="240.1" cy="1561.8" r="5.1" fill="#e2e23c"/>
<circle cx="294" cy="1562.2" r="5.1" fill="#e2e23c"/>
<circle cx="347.9" cy="1562.5" r="5.1" fill="#e2e23c"/>
<circle cx="401.8" cy="1562.9" r="5.1" fill="#e2e23c"/>
<circle cx="455.7" cy="1563.3" r="5.1" fill="#e2e23c"/>
<circle cx="509.6" cy="1563.7" r="5.1" fill="#e2e23c"/>
<circle cx="563.5" cy="1564.1" r="5.1" fill="#e2e23c"/>
<circle cx="617.4" cy="1564.5" r="5.1" fill="#e2e23c"/>
<circle cx="671.3" cy="1564.9" r="5.1" fill="#e2e23c"/>
<circle cx="725.2" cy="1565.3" r="5.1" fill="#e2e23c"/>
<circle cx="127" cy="1577.5" r="7.2" fill="url(#gBlue)"/>
<circle cx="182.3" cy="1578" r="7.2" fill="url(#gBlue)"/>
<circle cx="237.5" cy="1578.4" r="7.2" fill="url(#gBlue)"/>
<circle cx="292.8" cy="1578.9" r="7.2" fill="url(#gBlue)"/>
<circle cx="348.1" cy="1579.3" r="7.2" fill="url(#gBlue)"/>
<circle cx="403.4" cy="1579.8" r="7.2" fill="url(#gBlue)"/>
<circle cx="458.6" cy="1580.2" r="7.2" fill="url(#gBlue)"/>
<circle cx="513.9" cy="1580.7" r="7.2" fill="url(#gBlue)"/>
<circle cx="569.2" cy="1581.1" r="7.2" fill="url(#gBlue)"/>
<circle cx="624.5" cy="1581.6" r="7.2" fill="url(#gBlue)"/>
<circle cx="679.7" cy="1582" r="7.2" fill="url(#gBlue)"/>
<circle cx="735" cy="1582.5" r="7.2" fill="url(#gBlue)"/>
<circle cx="165.2" cy="1570.3" r="5.2" fill="#e2e23c"/>
<circle cx="220" cy="1570.7" r="5.2" fill="#e2e23c"/>
<circle cx="274.8" cy="1571.1" r="5.2" fill="#e2e23c"/>
<circle cx="329.6" cy="1571.6" r="5.2" fill="#e2e23c"/>
<circle cx="384.4" cy="1572" r="5.2" fill="#e2e23c"/>
<circle cx="439.2" cy="1572.4" r="5.2" fill="#e2e23c"/>
<circle cx="494" cy="1572.9" r="5.2" fill="#e2e23c"/>
<circle cx="548.9" cy="1573.3" r="5.2" fill="#e2e23c"/>
<circle cx="603.7" cy="1573.8" r="5.2" fill="#e2e23c"/>
<circle cx="658.5" cy="1574.2" r="5.2" fill="#e2e23c"/>
<circle cx="713.3" cy="1574.6" r="5.2" fill="#e2e23c"/>
<circle cx="389.5" cy="1460.2" r="3.3" fill="#e2e23c"/>
<circle cx="433.8" cy="1460.2" r="3.3" fill="#e2e23c"/>
<circle cx="478" cy="1460.2" r="3.3" fill="#e2e23c"/>
<circle cx="522.3" cy="1460.2" r="3.3" fill="#e2e23c"/>
<circle cx="566.6" cy="1460.2" r="3.3" fill="#e2e23c"/>
<circle cx="610.9" cy="1460.2" r="3.3" fill="#e2e23c"/>
<circle cx="655.1" cy="1460.2" r="3.3" fill="#e2e23c"/>
<circle cx="699.4" cy="1460.2" r="3.3" fill="#e2e23c"/>
<circle cx="743.7" cy="1460.2" r="3.3" fill="#e2e23c"/>
<circle cx="788" cy="1460.2" r="3.3" fill="#e2e23c"/>
<circle cx="832.2" cy="1460.2" r="3.3" fill="#e2e23c"/>
<circle cx="876.5" cy="1460.2" r="3.3" fill="#e2e23c"/>
<path d="M155,1666L184,1691L210.3,1666.5M210.3,1666.5L239.3,1691.5L265.5,1666.9M265.5,1666.9L294.5,1691.9L320.8,1667.4M320.8,1667.4L349.8,1692.4L376.1,1667.8M376.1,1667.8L405.1,1692.8L431.4,1668.3M431.4,1668.3L460.4,1693.3L486.6,1668.7M486.6,1668.7L515.6,1693.7L541.9,1669.2M541.9,1669.2L570.9,1694.2L597.2,1669.6M597.2,1669.6L626.2,1694.6L652.5,1670.1M652.5,1670.1L681.5,1695.1L707.7,1670.5M707.7,1670.5L736.7,1695.5L763,1671" stroke="#b4b0c8" stroke-width="2" fill="none"/>
<circle cx="155" cy="1592.5" r="8.8" fill="url(#gBlue)"/>
<circle cx="210.3" cy="1593" r="8.8" fill="url(#gBlue)"/>
<circle cx="265.5" cy="1593.4" r="8.8" fill="url(#gBlue)"/>
<circle cx="320.8" cy="1593.9" r="8.8" fill="url(#gBlue)"/>
<circle cx="376.1" cy="1594.3" r="8.8" fill="url(#gBlue)"/>
<circle cx="431.4" cy="1594.8" r="8.8" fill="url(#gBlue)"/>
<circle cx="486.6" cy="1595.2" r="8.8" fill="url(#gBlue)"/>
<circle cx="541.9" cy="1595.7" r="8.8" fill="url(#gBlue)"/>
<circle cx="597.2" cy="1596.1" r="8.8" fill="url(#gBlue)"/>
<circle cx="652.5" cy="1596.6" r="8.8" fill="url(#gBlue)"/>
<circle cx="707.7" cy="1597" r="8.8" fill="url(#gBlue)"/>
<circle cx="155" cy="1612.5" r="7.5" fill="#5c5a9a" opacity="0.55"/>
<circle cx="210.3" cy="1613" r="7.5" fill="#5c5a9a" opacity="0.55"/>
<circle cx="265.5" cy="1613.4" r="7.5" fill="#5c5a9a" opacity="0.55"/>
<circle cx="320.8" cy="1613.9" r="7.5" fill="#5c5a9a" opacity="0.55"/>
<circle cx="376.1" cy="1614.3" r="7.5" fill="#5c5a9a" opacity="0.55"/>
<circle cx="431.4" cy="1614.8" r="7.5" fill="#5c5a9a" opacity="0.55"/>
<circle cx="486.6" cy="1615.2" r="7.5" fill="#5c5a9a" opacity="0.55"/>
<circle cx="541.9" cy="1615.7" r="7.5" fill="#5c5a9a" opacity="0.55"/>
<circle cx="597.2" cy="1616.1" r="7.5" fill="#5c5a9a" opacity="0.55"/>
<circle cx="652.5" cy="1616.6" r="7.5" fill="#5c5a9a" opacity="0.55"/>
<circle cx="707.7" cy="1617" r="7.5" fill="#5c5a9a" opacity="0.55"/>
<circle cx="127" cy="1628.5" r="8.5" fill="url(#gBlue)"/>
<circle cx="182.3" cy="1629" r="8.5" fill="url(#gBlue)"/>
<circle cx="237.5" cy="1629.4" r="8.5" fill="url(#gBlue)"/>
<circle cx="292.8" cy="1629.9" r="8.5" fill="url(#gBlue)"/>
<circle cx="348.1" cy="1630.3" r="8.5" fill="url(#gBlue)"/>
<circle cx="403.4" cy="1630.8" r="8.5" fill="url(#gBlue)"/>
<circle cx="458.6" cy="1631.2" r="8.5" fill="url(#gBlue)"/>
<circle cx="513.9" cy="1631.7" r="8.5" fill="url(#gBlue)"/>
<circle cx="569.2" cy="1632.1" r="8.5" fill="url(#gBlue)"/>
<circle cx="624.5" cy="1632.6" r="8.5" fill="url(#gBlue)"/>
<circle cx="679.7" cy="1633" r="8.5" fill="url(#gBlue)"/>
<circle cx="735" cy="1633.5" r="8.5" fill="url(#gBlue)"/>
<circle cx="155" cy="1649.5" r="7.5" fill="#5c5a9a" opacity="0.55"/>
<circle cx="210.3" cy="1650" r="7.5" fill="#5c5a9a" opacity="0.55"/>
<circle cx="265.5" cy="1650.4" r="7.5" fill="#5c5a9a" opacity="0.55"/>
<circle cx="320.8" cy="1650.9" r="7.5" fill="#5c5a9a" opacity="0.55"/>
<circle cx="376.1" cy="1651.3" r="7.5" fill="#5c5a9a" opacity="0.55"/>
<circle cx="431.4" cy="1651.8" r="7.5" fill="#5c5a9a" opacity="0.55"/>
<circle cx="486.6" cy="1652.2" r="7.5" fill="#5c5a9a" opacity="0.55"/>
<circle cx="541.9" cy="1652.7" r="7.5" fill="#5c5a9a" opacity="0.55"/>
<circle cx="597.2" cy="1653.1" r="7.5" fill="#5c5a9a" opacity="0.55"/>
<circle cx="652.5" cy="1653.6" r="7.5" fill="#5c5a9a" opacity="0.55"/>
<circle cx="707.7" cy="1654" r="7.5" fill="#5c5a9a" opacity="0.55"/>
<circle cx="155" cy="1666" r="8.5" fill="url(#gBlue)"/>
<circle cx="210.3" cy="1666.5" r="8.5" fill="url(#gBlue)"/>
<circle cx="265.5" cy="1666.9" r="8.5" fill="url(#gBlue)"/>
<circle cx="320.8" cy="1667.4" r="8.5" fill="url(#gBlue)"/>
<circle cx="376.1" cy="1667.8" r="8.5" fill="url(#gBlue)"/>
<circle cx="431.4" cy="1668.3" r="8.5" fill="url(#gBlue)"/>
<circle cx="486.6" cy="1668.7" r="8.5" fill="url(#gBlue)"/>
<circle cx="541.9" cy="1669.2" r="8.5" fill="url(#gBlue)"/>
<circle cx="597.2" cy="1669.6" r="8.5" fill="url(#gBlue)"/>
<circle cx="652.5" cy="1670.1" r="8.5" fill="url(#gBlue)"/>
<circle cx="707.7" cy="1670.5" r="8.5" fill="url(#gBlue)"/>
<circle cx="184" cy="1691" r="4.8" fill="#dede60"/>
<circle cx="239.3" cy="1691.5" r="4.8" fill="#dede60"/>
<circle cx="294.5" cy="1691.9" r="4.8" fill="#dede60"/>
<circle cx="349.8" cy="1692.4" r="4.8" fill="#dede60"/>
<circle cx="405.1" cy="1692.8" r="4.8" fill="#dede60"/>
<circle cx="460.4" cy="1693.3" r="4.8" fill="#dede60"/>
<circle cx="515.6" cy="1693.7" r="4.8" fill="#dede60"/>
<circle cx="570.9" cy="1694.2" r="4.8" fill="#dede60"/>
<circle cx="626.2" cy="1694.6" r="4.8" fill="#dede60"/>
<circle cx="681.5" cy="1695.1" r="4.8" fill="#dede60"/>
<circle cx="736.7" cy="1695.5" r="4.8" fill="#dede60"/>
<path d="M1300,1804 L1427,1697.2 L1450.2,1770 L1331,1901Z" fill="url(#gSideR)"/>
<path d="M670.8,1800 L1300,1804 L1331,1901 L689.8,1897 L689.8,1858 L670.8,1858Z" fill="url(#gSideF)"/>
<path d="M658.8,1801 L1300,1805 L1427,1698 L915,1688Z" fill="#c2bfd0"/>
<path d="M687.8,1816L687.8,1893M746,1816.4L746,1893.4M804.3,1816.7L804.3,1893.7M862.6,1817.1L862.6,1894.1M920.9,1817.5L920.9,1894.5M979.2,1817.8L979.2,1894.8M1037.5,1818.2L1037.5,1895.2M1095.8,1818.5L1095.8,1895.5M1154.1,1818.9L1154.1,1895.9M1212.4,1819.3L1212.4,1896.3M1270.7,1819.6L1270.7,1896.6M1329,1820L1329,1897" stroke="#8d8aa8" stroke-width="5" opacity="0.45"/>
<path d="M710.9,1803.2L710.9,1895.2M769.2,1803.5L769.2,1895.5M827.5,1803.9L827.5,1895.9M885.8,1804.3L885.8,1896.3M944.1,1804.6L944.1,1896.6M1002.4,1805L1002.4,1897M1060.7,1805.4L1060.7,1897.4M1119,1805.7L1119,1897.7M1177.3,1806.1L1177.3,1898.1M1235.6,1806.5L1235.6,1898.5M1293.9,1806.8L1293.9,1898.8" stroke="#6e6c80" stroke-width="9" opacity="0.22"/>
<circle cx="1442.1" cy="1728" r="5.7" fill="url(#gBlue)"/>
<circle cx="1445" cy="1765.5" r="5.7" fill="url(#gBlue)"/>
<circle cx="1454" cy="1786.5" r="2.9" fill="#7a1a1a"/>
<circle cx="1431.9" cy="1737.8" r="5.9" fill="url(#gBlue)"/>
<circle cx="1434.9" cy="1776.3" r="5.9" fill="url(#gBlue)"/>
<circle cx="1444.2" cy="1797.9" r="2.9" fill="#7a1a1a"/>
<circle cx="1421.7" cy="1747.5" r="6.1" fill="url(#gBlue)"/>
<circle cx="1424.8" cy="1787.1" r="6.1" fill="url(#gBlue)"/>
<circle cx="1434.3" cy="1809.2" r="3" fill="#7a1a1a"/>
<circle cx="1411.6" cy="1757.2" r="6.2" fill="url(#gBlue)"/>
<circle cx="1414.8" cy="1797.9" r="6.2" fill="url(#gBlue)"/>
<circle cx="1424.5" cy="1820.6" r="3.1" fill="#7a1a1a"/>
<circle cx="1401.4" cy="1767" r="6.4" fill="url(#gBlue)"/>
<circle cx="1404.7" cy="1808.7" r="6.4" fill="url(#gBlue)"/>
<circle cx="1414.7" cy="1832" r="3.2" fill="#7a1a1a"/>
<circle cx="1391.3" cy="1776.8" r="6.5" fill="url(#gBlue)"/>
<circle cx="1394.6" cy="1819.5" r="6.5" fill="url(#gBlue)"/>
<circle cx="1404.8" cy="1843.4" r="3.3" fill="#7a1a1a"/>
<circle cx="1381.1" cy="1786.5" r="6.7" fill="url(#gBlue)"/>
<circle cx="1384.5" cy="1830.2" r="6.7" fill="url(#gBlue)"/>
<circle cx="1395" cy="1854.8" r="3.3" fill="#7a1a1a"/>
<circle cx="1370.9" cy="1796.2" r="6.9" fill="url(#gBlue)"/>
<circle cx="1374.4" cy="1841" r="6.9" fill="url(#gBlue)"/>
<circle cx="1385.2" cy="1866.1" r="3.4" fill="#7a1a1a"/>
<circle cx="1360.8" cy="1806" r="7" fill="url(#gBlue)"/>
<circle cx="1364.3" cy="1851.8" r="7" fill="url(#gBlue)"/>
<circle cx="1375.3" cy="1877.5" r="3.5" fill="#7a1a1a"/>
<circle cx="1350.6" cy="1815.8" r="7.2" fill="url(#gBlue)"/>
<circle cx="1354.2" cy="1862.6" r="7.2" fill="url(#gBlue)"/>
<circle cx="1365.5" cy="1888.9" r="3.6" fill="#7a1a1a"/>
<circle cx="1340.4" cy="1825.5" r="7.3" fill="url(#gBlue)"/>
<circle cx="1344.2" cy="1873.4" r="7.3" fill="url(#gBlue)"/>
<circle cx="1355.7" cy="1900.2" r="3.7" fill="#7a1a1a"/>
<circle cx="1330.3" cy="1835.2" r="7.5" fill="url(#gBlue)"/>
<circle cx="1334.1" cy="1884.2" r="7.5" fill="url(#gBlue)"/>
<circle cx="1345.8" cy="1911.6" r="3.7" fill="#7a1a1a"/>
<circle cx="915" cy="1688" r="5.6" fill="url(#gBlue)"/>
<circle cx="961.5" cy="1688.9" r="5.6" fill="url(#gBlue)"/>
<circle cx="1008.1" cy="1689.8" r="5.6" fill="url(#gBlue)"/>
<circle cx="1054.6" cy="1690.7" r="5.6" fill="url(#gBlue)"/>
<circle cx="1101.2" cy="1691.6" r="5.6" fill="url(#gBlue)"/>
<circle cx="1147.7" cy="1692.5" r="5.6" fill="url(#gBlue)"/>
<circle cx="1194.3" cy="1693.5" r="5.6" fill="url(#gBlue)"/>
<circle cx="1240.8" cy="1694.4" r="5.6" fill="url(#gBlue)"/>
<circle cx="1287.4" cy="1695.3" r="5.6" fill="url(#gBlue)"/>
<circle cx="1333.9" cy="1696.2" r="5.6" fill="url(#gBlue)"/>
<circle cx="1380.5" cy="1697.1" r="5.6" fill="url(#gBlue)"/>
<circle cx="1427" cy="1698" r="5.6" fill="url(#gBlue)"/>
<circle cx="915" cy="1679" r="3.3" fill="#8a1a22"/>
<circle cx="961.5" cy="1679.9" r="3.3" fill="#8a1a22"/>
<circle cx="1008.1" cy="1680.8" r="3.3" fill="#8a1a22"/>
<circle cx="1054.6" cy="1681.7" r="3.3" fill="#8a1a22"/>
<circle cx="1101.2" cy="1682.6" r="3.3" fill="#8a1a22"/>
<circle cx="1147.7" cy="1683.5" r="3.3" fill="#8a1a22"/>
<circle cx="1194.3" cy="1684.5" r="3.3" fill="#8a1a22"/>
<circle cx="1240.8" cy="1685.4" r="3.3" fill="#8a1a22"/>
<circle cx="1287.4" cy="1686.3" r="3.3" fill="#8a1a22"/>
<circle cx="1333.9" cy="1687.2" r="3.3" fill="#8a1a22"/>
<circle cx="1380.5" cy="1688.1" r="3.3" fill="#8a1a22"/>
<circle cx="1427" cy="1689" r="3.3" fill="#8a1a22"/>
<circle cx="893.6" cy="1697.4" r="5.7" fill="url(#gBlue)"/>
<circle cx="941.2" cy="1698.3" r="5.7" fill="url(#gBlue)"/>
<circle cx="988.7" cy="1699.1" r="5.7" fill="url(#gBlue)"/>
<circle cx="1036.2" cy="1700" r="5.7" fill="url(#gBlue)"/>
<circle cx="1083.7" cy="1700.9" r="5.7" fill="url(#gBlue)"/>
<circle cx="1131.3" cy="1701.7" r="5.7" fill="url(#gBlue)"/>
<circle cx="1178.8" cy="1702.6" r="5.7" fill="url(#gBlue)"/>
<circle cx="1226.3" cy="1703.5" r="5.7" fill="url(#gBlue)"/>
<circle cx="1273.8" cy="1704.3" r="5.7" fill="url(#gBlue)"/>
<circle cx="1321.4" cy="1705.2" r="5.7" fill="url(#gBlue)"/>
<circle cx="1368.9" cy="1706.1" r="5.7" fill="url(#gBlue)"/>
<circle cx="1416.4" cy="1706.9" r="5.7" fill="url(#gBlue)"/>
<circle cx="893.6" cy="1688.2" r="3.4" fill="#8a1a22"/>
<circle cx="941.2" cy="1689" r="3.4" fill="#8a1a22"/>
<circle cx="988.7" cy="1689.9" r="3.4" fill="#8a1a22"/>
<circle cx="1036.2" cy="1690.8" r="3.4" fill="#8a1a22"/>
<circle cx="1083.7" cy="1691.6" r="3.4" fill="#8a1a22"/>
<circle cx="1131.3" cy="1692.5" r="3.4" fill="#8a1a22"/>
<circle cx="1178.8" cy="1693.3" r="3.4" fill="#8a1a22"/>
<circle cx="1226.3" cy="1694.2" r="3.4" fill="#8a1a22"/>
<circle cx="1273.8" cy="1695.1" r="3.4" fill="#8a1a22"/>
<circle cx="1321.4" cy="1695.9" r="3.4" fill="#8a1a22"/>
<circle cx="1368.9" cy="1696.8" r="3.4" fill="#8a1a22"/>
<circle cx="1416.4" cy="1697.7" r="3.4" fill="#8a1a22"/>
<circle cx="872.3" cy="1706.8" r="5.9" fill="url(#gBlue)"/>
<circle cx="920.8" cy="1707.7" r="5.9" fill="url(#gBlue)"/>
<circle cx="969.3" cy="1708.5" r="5.9" fill="url(#gBlue)"/>
<circle cx="1017.8" cy="1709.3" r="5.9" fill="url(#gBlue)"/>
<circle cx="1066.3" cy="1710.1" r="5.9" fill="url(#gBlue)"/>
<circle cx="1114.8" cy="1710.9" r="5.9" fill="url(#gBlue)"/>
<circle cx="1163.3" cy="1711.7" r="5.9" fill="url(#gBlue)"/>
<circle cx="1211.8" cy="1712.6" r="5.9" fill="url(#gBlue)"/>
<circle cx="1260.3" cy="1713.4" r="5.9" fill="url(#gBlue)"/>
<circle cx="1308.8" cy="1714.2" r="5.9" fill="url(#gBlue)"/>
<circle cx="1357.3" cy="1715" r="5.9" fill="url(#gBlue)"/>
<circle cx="1405.8" cy="1715.8" r="5.9" fill="url(#gBlue)"/>
<circle cx="872.3" cy="1697.3" r="3.5" fill="#8a1a22"/>
<circle cx="920.8" cy="1698.2" r="3.5" fill="#8a1a22"/>
<circle cx="969.3" cy="1699" r="3.5" fill="#8a1a22"/>
<circle cx="1017.8" cy="1699.8" r="3.5" fill="#8a1a22"/>
<circle cx="1066.3" cy="1700.6" r="3.5" fill="#8a1a22"/>
<circle cx="1114.8" cy="1701.4" r="3.5" fill="#8a1a22"/>
<circle cx="1163.3" cy="1702.2" r="3.5" fill="#8a1a22"/>
<circle cx="1211.8" cy="1703.1" r="3.5" fill="#8a1a22"/>
<circle cx="1260.3" cy="1703.9" r="3.5" fill="#8a1a22"/>
<circle cx="1308.8" cy="1704.7" r="3.5" fill="#8a1a22"/>
<circle cx="1357.3" cy="1705.5" r="3.5" fill="#8a1a22"/>
<circle cx="1405.8" cy="1706.3" r="3.5" fill="#8a1a22"/>
<circle cx="850.9" cy="1716.2" r="6" fill="url(#gBlue)"/>
<circle cx="900.4" cy="1717" r="6" fill="url(#gBlue)"/>
<circle cx="949.9" cy="1717.8" r="6" fill="url(#gBlue)"/>
<circle cx="999.4" cy="1718.6" r="6" fill="url(#gBlue)"/>
<circle cx="1048.9" cy="1719.3" r="6" fill="url(#gBlue)"/>
<circle cx="1098.4" cy="1720.1" r="6" fill="url(#gBlue)"/>
<circle cx="1147.8" cy="1720.9" r="6" fill="url(#gBlue)"/>
<circle cx="1197.3" cy="1721.7" r="6" fill="url(#gBlue)"/>
<circle cx="1246.8" cy="1722.4" r="6" fill="url(#gBlue)"/>
<circle cx="1296.3" cy="1723.2" r="6" fill="url(#gBlue)"/>
<circle cx="1345.8" cy="1724" r="6" fill="url(#gBlue)"/>
<circle cx="1395.2" cy="1724.8" r="6" fill="url(#gBlue)"/>
<circle cx="850.9" cy="1706.5" r="3.6" fill="#8a1a22"/>
<circle cx="900.4" cy="1707.3" r="3.6" fill="#8a1a22"/>
<circle cx="949.9" cy="1708" r="3.6" fill="#8a1a22"/>
<circle cx="999.4" cy="1708.8" r="3.6" fill="#8a1a22"/>
<circle cx="1048.9" cy="1709.6" r="3.6" fill="#8a1a22"/>
<circle cx="1098.4" cy="1710.4" r="3.6" fill="#8a1a22"/>
<circle cx="1147.8" cy="1711.1" r="3.6" fill="#8a1a22"/>
<circle cx="1197.3" cy="1711.9" r="3.6" fill="#8a1a22"/>
<circle cx="1246.8" cy="1712.7" r="3.6" fill="#8a1a22"/>
<circle cx="1296.3" cy="1713.5" r="3.6" fill="#8a1a22"/>
<circle cx="1345.8" cy="1714.2" r="3.6" fill="#8a1a22"/>
<circle cx="1395.2" cy="1715" r="3.6" fill="#8a1a22"/>
<circle cx="829.6" cy="1725.7" r="6.2" fill="url(#gBlue)"/>
<circle cx="880" cy="1726.4" r="6.2" fill="url(#gBlue)"/>
<circle cx="930.5" cy="1727.1" r="6.2" fill="url(#gBlue)"/>
<circle cx="981" cy="1727.8" r="6.2" fill="url(#gBlue)"/>
<circle cx="1031.4" cy="1728.6" r="6.2" fill="url(#gBlue)"/>
<circle cx="1081.9" cy="1729.3" r="6.2" fill="url(#gBlue)"/>
<circle cx="1132.4" cy="1730" r="6.2" fill="url(#gBlue)"/>
<circle cx="1182.8" cy="1730.8" r="6.2" fill="url(#gBlue)"/>
<circle cx="1233.3" cy="1731.5" r="6.2" fill="url(#gBlue)"/>
<circle cx="1283.7" cy="1732.2" r="6.2" fill="url(#gBlue)"/>
<circle cx="1334.2" cy="1732.9" r="6.2" fill="url(#gBlue)"/>
<circle cx="1384.7" cy="1733.7" r="6.2" fill="url(#gBlue)"/>
<circle cx="829.6" cy="1715.7" r="3.7" fill="#8a1a22"/>
<circle cx="880" cy="1716.4" r="3.7" fill="#8a1a22"/>
<circle cx="930.5" cy="1717.1" r="3.7" fill="#8a1a22"/>
<circle cx="981" cy="1717.8" r="3.7" fill="#8a1a22"/>
<circle cx="1031.4" cy="1718.6" r="3.7" fill="#8a1a22"/>
<circle cx="1081.9" cy="1719.3" r="3.7" fill="#8a1a22"/>
<circle cx="1132.4" cy="1720" r="3.7" fill="#8a1a22"/>
<circle cx="1182.8" cy="1720.8" r="3.7" fill="#8a1a22"/>
<circle cx="1233.3" cy="1721.5" r="3.7" fill="#8a1a22"/>
<circle cx="1283.7" cy="1722.2" r="3.7" fill="#8a1a22"/>
<circle cx="1334.2" cy="1722.9" r="3.7" fill="#8a1a22"/>
<circle cx="1384.7" cy="1723.7" r="3.7" fill="#8a1a22"/>
<circle cx="808.2" cy="1735.1" r="6.3" fill="url(#gBlue)"/>
<circle cx="859.7" cy="1735.8" r="6.3" fill="url(#gBlue)"/>
<circle cx="911.1" cy="1736.4" r="6.3" fill="url(#gBlue)"/>
<circle cx="962.6" cy="1737.1" r="6.3" fill="url(#gBlue)"/>
<circle cx="1014" cy="1737.8" r="6.3" fill="url(#gBlue)"/>
<circle cx="1065.4" cy="1738.5" r="6.3" fill="url(#gBlue)"/>
<circle cx="1116.9" cy="1739.2" r="6.3" fill="url(#gBlue)"/>
<circle cx="1168.3" cy="1739.9" r="6.3" fill="url(#gBlue)"/>
<circle cx="1219.8" cy="1740.5" r="6.3" fill="url(#gBlue)"/>
<circle cx="1271.2" cy="1741.2" r="6.3" fill="url(#gBlue)"/>
<circle cx="1322.6" cy="1741.9" r="6.3" fill="url(#gBlue)"/>
<circle cx="1374.1" cy="1742.6" r="6.3" fill="url(#gBlue)"/>
<circle cx="808.2" cy="1724.8" r="3.8" fill="#8a1a22"/>
<circle cx="859.7" cy="1725.5" r="3.8" fill="#8a1a22"/>
<circle cx="911.1" cy="1726.2" r="3.8" fill="#8a1a22"/>
<circle cx="962.6" cy="1726.9" r="3.8" fill="#8a1a22"/>
<circle cx="1014" cy="1727.6" r="3.8" fill="#8a1a22"/>
<circle cx="1065.4" cy="1728.2" r="3.8" fill="#8a1a22"/>
<circle cx="1116.9" cy="1728.9" r="3.8" fill="#8a1a22"/>
<circle cx="1168.3" cy="1729.6" r="3.8" fill="#8a1a22"/>
<circle cx="1219.8" cy="1730.3" r="3.8" fill="#8a1a22"/>
<circle cx="1271.2" cy="1731" r="3.8" fill="#8a1a22"/>
<circle cx="1322.6" cy="1731.7" r="3.8" fill="#8a1a22"/>
<circle cx="1374.1" cy="1732.3" r="3.8" fill="#8a1a22"/>
<circle cx="786.9" cy="1744.5" r="6.5" fill="url(#gBlue)"/>
<circle cx="839.3" cy="1745.1" r="6.5" fill="url(#gBlue)"/>
<circle cx="891.7" cy="1745.8" r="6.5" fill="url(#gBlue)"/>
<circle cx="944.1" cy="1746.4" r="6.5" fill="url(#gBlue)"/>
<circle cx="996.6" cy="1747" r="6.5" fill="url(#gBlue)"/>
<circle cx="1049" cy="1747.7" r="6.5" fill="url(#gBlue)"/>
<circle cx="1101.4" cy="1748.3" r="6.5" fill="url(#gBlue)"/>
<circle cx="1153.8" cy="1749" r="6.5" fill="url(#gBlue)"/>
<circle cx="1206.2" cy="1749.6" r="6.5" fill="url(#gBlue)"/>
<circle cx="1258.7" cy="1750.2" r="6.5" fill="url(#gBlue)"/>
<circle cx="1311.1" cy="1750.9" r="6.5" fill="url(#gBlue)"/>
<circle cx="1363.5" cy="1751.5" r="6.5" fill="url(#gBlue)"/>
<circle cx="786.9" cy="1734" r="3.9" fill="#8a1a22"/>
<circle cx="839.3" cy="1734.6" r="3.9" fill="#8a1a22"/>
<circle cx="891.7" cy="1735.3" r="3.9" fill="#8a1a22"/>
<circle cx="944.1" cy="1735.9" r="3.9" fill="#8a1a22"/>
<circle cx="996.6" cy="1736.5" r="3.9" fill="#8a1a22"/>
<circle cx="1049" cy="1737.2" r="3.9" fill="#8a1a22"/>
<circle cx="1101.4" cy="1737.8" r="3.9" fill="#8a1a22"/>
<circle cx="1153.8" cy="1738.5" r="3.9" fill="#8a1a22"/>
<circle cx="1206.2" cy="1739.1" r="3.9" fill="#8a1a22"/>
<circle cx="1258.7" cy="1739.7" r="3.9" fill="#8a1a22"/>
<circle cx="1311.1" cy="1740.4" r="3.9" fill="#8a1a22"/>
<circle cx="1363.5" cy="1741" r="3.9" fill="#8a1a22"/>
<circle cx="765.5" cy="1753.9" r="6.6" fill="url(#gBlue)"/>
<circle cx="818.9" cy="1754.5" r="6.6" fill="url(#gBlue)"/>
<circle cx="872.3" cy="1755.1" r="6.6" fill="url(#gBlue)"/>
<circle cx="925.7" cy="1755.7" r="6.6" fill="url(#gBlue)"/>
<circle cx="979.1" cy="1756.3" r="6.6" fill="url(#gBlue)"/>
<circle cx="1032.5" cy="1756.9" r="6.6" fill="url(#gBlue)"/>
<circle cx="1085.9" cy="1757.5" r="6.6" fill="url(#gBlue)"/>
<circle cx="1139.3" cy="1758.1" r="6.6" fill="url(#gBlue)"/>
<circle cx="1192.7" cy="1758.6" r="6.6" fill="url(#gBlue)"/>
<circle cx="1246.1" cy="1759.2" r="6.6" fill="url(#gBlue)"/>
<circle cx="1299.5" cy="1759.8" r="6.6" fill="url(#gBlue)"/>
<circle cx="1352.9" cy="1760.4" r="6.6" fill="url(#gBlue)"/>
<circle cx="765.5" cy="1743.2" r="3.9" fill="#8a1a22"/>
<circle cx="818.9" cy="1743.8" r="3.9" fill="#8a1a22"/>
<circle cx="872.3" cy="1744.3" r="3.9" fill="#8a1a22"/>
<circle cx="925.7" cy="1744.9" r="3.9" fill="#8a1a22"/>
<circle cx="979.1" cy="1745.5" r="3.9" fill="#8a1a22"/>
<circle cx="1032.5" cy="1746.1" r="3.9" fill="#8a1a22"/>
<circle cx="1085.9" cy="1746.7" r="3.9" fill="#8a1a22"/>
<circle cx="1139.3" cy="1747.3" r="3.9" fill="#8a1a22"/>
<circle cx="1192.7" cy="1747.9" r="3.9" fill="#8a1a22"/>
<circle cx="1246.1" cy="1748.5" r="3.9" fill="#8a1a22"/>
<circle cx="1299.5" cy="1749.1" r="3.9" fill="#8a1a22"/>
<circle cx="1352.9" cy="1749.7" r="3.9" fill="#8a1a22"/>
<circle cx="744.2" cy="1763.3" r="6.8" fill="url(#gBlue)"/>
<circle cx="798.5" cy="1763.9" r="6.8" fill="url(#gBlue)"/>
<circle cx="852.9" cy="1764.4" r="6.8" fill="url(#gBlue)"/>
<circle cx="907.3" cy="1765" r="6.8" fill="url(#gBlue)"/>
<circle cx="961.7" cy="1765.5" r="6.8" fill="url(#gBlue)"/>
<circle cx="1016.1" cy="1766.1" r="6.8" fill="url(#gBlue)"/>
<circle cx="1070.4" cy="1766.6" r="6.8" fill="url(#gBlue)"/>
<circle cx="1124.8" cy="1767.2" r="6.8" fill="url(#gBlue)"/>
<circle cx="1179.2" cy="1767.7" r="6.8" fill="url(#gBlue)"/>
<circle cx="1233.6" cy="1768.2" r="6.8" fill="url(#gBlue)"/>
<circle cx="1288" cy="1768.8" r="6.8" fill="url(#gBlue)"/>
<circle cx="1342.3" cy="1769.3" r="6.8" fill="url(#gBlue)"/>
<circle cx="744.2" cy="1752.3" r="4" fill="#8a1a22"/>
<circle cx="798.5" cy="1752.9" r="4" fill="#8a1a22"/>
<circle cx="852.9" cy="1753.4" r="4" fill="#8a1a22"/>
<circle cx="907.3" cy="1754" r="4" fill="#8a1a22"/>
<circle cx="961.7" cy="1754.5" r="4" fill="#8a1a22"/>
<circle cx="1016.1" cy="1755.1" r="4" fill="#8a1a22"/>
<circle cx="1070.4" cy="1755.6" r="4" fill="#8a1a22"/>
<circle cx="1124.8" cy="1756.2" r="4" fill="#8a1a22"/>
<circle cx="1179.2" cy="1756.7" r="4" fill="#8a1a22"/>
<circle cx="1233.6" cy="1757.2" r="4" fill="#8a1a22"/>
<circle cx="1288" cy="1757.8" r="4" fill="#8a1a22"/>
<circle cx="1342.3" cy="1758.3" r="4" fill="#8a1a22"/>
<circle cx="722.8" cy="1772.8" r="6.9" fill="url(#gBlue)"/>
<circle cx="778.2" cy="1773.2" r="6.9" fill="url(#gBlue)"/>
<circle cx="833.5" cy="1773.8" r="6.9" fill="url(#gBlue)"/>
<circle cx="888.9" cy="1774.2" r="6.9" fill="url(#gBlue)"/>
<circle cx="944.2" cy="1774.8" r="6.9" fill="url(#gBlue)"/>
<circle cx="999.6" cy="1775.2" r="6.9" fill="url(#gBlue)"/>
<circle cx="1055" cy="1775.8" r="6.9" fill="url(#gBlue)"/>
<circle cx="1110.3" cy="1776.2" r="6.9" fill="url(#gBlue)"/>
<circle cx="1165.7" cy="1776.8" r="6.9" fill="url(#gBlue)"/>
<circle cx="1221" cy="1777.2" r="6.9" fill="url(#gBlue)"/>
<circle cx="1276.4" cy="1777.8" r="6.9" fill="url(#gBlue)"/>
<circle cx="1331.8" cy="1778.2" r="6.9" fill="url(#gBlue)"/>
<circle cx="722.8" cy="1761.5" r="4.1" fill="#8a1a22"/>
<circle cx="778.2" cy="1762" r="4.1" fill="#8a1a22"/>
<circle cx="833.5" cy="1762.5" r="4.1" fill="#8a1a22"/>
<circle cx="888.9" cy="1763" r="4.1" fill="#8a1a22"/>
<circle cx="944.2" cy="1763.5" r="4.1" fill="#8a1a22"/>
<circle cx="999.6" cy="1764" r="4.1" fill="#8a1a22"/>
<circle cx="1055" cy="1764.5" r="4.1" fill="#8a1a22"/>
<circle cx="1110.3" cy="1765" r="4.1" fill="#8a1a22"/>
<circle cx="1165.7" cy="1765.5" r="4.1" fill="#8a1a22"/>
<circle cx="1221" cy="1766" r="4.1" fill="#8a1a22"/>
<circle cx="1276.4" cy="1766.5" r="4.1" fill="#8a1a22"/>
<circle cx="1331.8" cy="1767" r="4.1" fill="#8a1a22"/>
<circle cx="701.5" cy="1782.2" r="7.1" fill="url(#gBlue)"/>
<circle cx="757.8" cy="1782.6" r="7.1" fill="url(#gBlue)"/>
<circle cx="814.1" cy="1783.1" r="7.1" fill="url(#gBlue)"/>
<circle cx="870.5" cy="1783.5" r="7.1" fill="url(#gBlue)"/>
<circle cx="926.8" cy="1784" r="7.1" fill="url(#gBlue)"/>
<circle cx="983.1" cy="1784.4" r="7.1" fill="url(#gBlue)"/>
<circle cx="1039.5" cy="1784.9" r="7.1" fill="url(#gBlue)"/>
<circle cx="1095.8" cy="1785.3" r="7.1" fill="url(#gBlue)"/>
<circle cx="1152.2" cy="1785.8" r="7.1" fill="url(#gBlue)"/>
<circle cx="1208.5" cy="1786.3" r="7.1" fill="url(#gBlue)"/>
<circle cx="1264.8" cy="1786.7" r="7.1" fill="url(#gBlue)"/>
<circle cx="1321.2" cy="1787.2" r="7.1" fill="url(#gBlue)"/>
<circle cx="701.5" cy="1770.7" r="4.2" fill="#8a1a22"/>
<circle cx="757.8" cy="1771.1" r="4.2" fill="#8a1a22"/>
<circle cx="814.1" cy="1771.6" r="4.2" fill="#8a1a22"/>
<circle cx="870.5" cy="1772" r="4.2" fill="#8a1a22"/>
<circle cx="926.8" cy="1772.5" r="4.2" fill="#8a1a22"/>
<circle cx="983.1" cy="1772.9" r="4.2" fill="#8a1a22"/>
<circle cx="1039.5" cy="1773.4" r="4.2" fill="#8a1a22"/>
<circle cx="1095.8" cy="1773.8" r="4.2" fill="#8a1a22"/>
<circle cx="1152.2" cy="1774.3" r="4.2" fill="#8a1a22"/>
<circle cx="1208.5" cy="1774.8" r="4.2" fill="#8a1a22"/>
<circle cx="1264.8" cy="1775.2" r="4.2" fill="#8a1a22"/>
<circle cx="1321.2" cy="1775.7" r="4.2" fill="#8a1a22"/>
<circle cx="680.1" cy="1791.6" r="7.2" fill="url(#gBlue)"/>
<circle cx="737.4" cy="1792" r="7.2" fill="url(#gBlue)"/>
<circle cx="794.7" cy="1792.4" r="7.2" fill="url(#gBlue)"/>
<circle cx="852.1" cy="1792.8" r="7.2" fill="url(#gBlue)"/>
<circle cx="909.4" cy="1793.2" r="7.2" fill="url(#gBlue)"/>
<circle cx="966.7" cy="1793.6" r="7.2" fill="url(#gBlue)"/>
<circle cx="1024" cy="1794" r="7.2" fill="url(#gBlue)"/>
<circle cx="1081.3" cy="1794.4" r="7.2" fill="url(#gBlue)"/>
<circle cx="1138.6" cy="1794.9" r="7.2" fill="url(#gBlue)"/>
<circle cx="1196" cy="1795.3" r="7.2" fill="url(#gBlue)"/>
<circle cx="1253.3" cy="1795.7" r="7.2" fill="url(#gBlue)"/>
<circle cx="1310.6" cy="1796.1" r="7.2" fill="url(#gBlue)"/>
<circle cx="680.1" cy="1779.8" r="4.3" fill="#8a1a22"/>
<circle cx="737.4" cy="1780.2" r="4.3" fill="#8a1a22"/>
<circle cx="794.7" cy="1780.7" r="4.3" fill="#8a1a22"/>
<circle cx="852.1" cy="1781.1" r="4.3" fill="#8a1a22"/>
<circle cx="909.4" cy="1781.5" r="4.3" fill="#8a1a22"/>
<circle cx="966.7" cy="1781.9" r="4.3" fill="#8a1a22"/>
<circle cx="1024" cy="1782.3" r="4.3" fill="#8a1a22"/>
<circle cx="1081.3" cy="1782.7" r="4.3" fill="#8a1a22"/>
<circle cx="1138.6" cy="1783.1" r="4.3" fill="#8a1a22"/>
<circle cx="1196" cy="1783.5" r="4.3" fill="#8a1a22"/>
<circle cx="1253.3" cy="1783.9" r="4.3" fill="#8a1a22"/>
<circle cx="1310.6" cy="1784.3" r="4.3" fill="#8a1a22"/>
<circle cx="658.8" cy="1801" r="7.4" fill="url(#gBlue)"/>
<circle cx="717" cy="1801.4" r="7.4" fill="url(#gBlue)"/>
<circle cx="775.3" cy="1801.7" r="7.4" fill="url(#gBlue)"/>
<circle cx="833.6" cy="1802.1" r="7.4" fill="url(#gBlue)"/>
<circle cx="891.9" cy="1802.5" r="7.4" fill="url(#gBlue)"/>
<circle cx="950.2" cy="1802.8" r="7.4" fill="url(#gBlue)"/>
<circle cx="1008.5" cy="1803.2" r="7.4" fill="url(#gBlue)"/>
<circle cx="1066.8" cy="1803.5" r="7.4" fill="url(#gBlue)"/>
<circle cx="1125.1" cy="1803.9" r="7.4" fill="url(#gBlue)"/>
<circle cx="1183.4" cy="1804.3" r="7.4" fill="url(#gBlue)"/>
<circle cx="1241.7" cy="1804.6" r="7.4" fill="url(#gBlue)"/>
<circle cx="1300" cy="1805" r="7.4" fill="url(#gBlue)"/>
<circle cx="658.8" cy="1789" r="4.4" fill="#8a1a22"/>
<circle cx="717" cy="1789.4" r="4.4" fill="#8a1a22"/>
<circle cx="775.3" cy="1789.7" r="4.4" fill="#8a1a22"/>
<circle cx="833.6" cy="1790.1" r="4.4" fill="#8a1a22"/>
<circle cx="891.9" cy="1790.5" r="4.4" fill="#8a1a22"/>
<circle cx="950.2" cy="1790.8" r="4.4" fill="#8a1a22"/>
<circle cx="1008.5" cy="1791.2" r="4.4" fill="#8a1a22"/>
<circle cx="1066.8" cy="1791.5" r="4.4" fill="#8a1a22"/>
<circle cx="1125.1" cy="1791.9" r="4.4" fill="#8a1a22"/>
<circle cx="1183.4" cy="1792.3" r="4.4" fill="#8a1a22"/>
<circle cx="1241.7" cy="1792.6" r="4.4" fill="#8a1a22"/>
<circle cx="1300" cy="1793" r="4.4" fill="#8a1a22"/>
<circle cx="922.5" cy="1668.5" r="2.8" fill="#8a1a22"/>
<circle cx="969" cy="1669.4" r="2.8" fill="#8a1a22"/>
<circle cx="1015.6" cy="1670.3" r="2.8" fill="#8a1a22"/>
<circle cx="1062.1" cy="1671.2" r="2.8" fill="#8a1a22"/>
<circle cx="1108.7" cy="1672.1" r="2.8" fill="#8a1a22"/>
<circle cx="1155.2" cy="1673" r="2.8" fill="#8a1a22"/>
<circle cx="1201.8" cy="1674" r="2.8" fill="#8a1a22"/>
<circle cx="1248.3" cy="1674.9" r="2.8" fill="#8a1a22"/>
<circle cx="1294.9" cy="1675.8" r="2.8" fill="#8a1a22"/>
<circle cx="1341.4" cy="1676.7" r="2.8" fill="#8a1a22"/>
<circle cx="1388" cy="1677.6" r="2.8" fill="#8a1a22"/>
<circle cx="1434.5" cy="1678.5" r="2.8" fill="#8a1a22"/>
<path d="M689.8,1894L719.8,1922.5L748,1894.4M748,1894.4L778,1922.9L806.3,1894.7M806.3,1894.7L836.3,1923.2L864.6,1895.1M864.6,1895.1L894.6,1923.6L922.9,1895.5M922.9,1895.5L952.9,1924L981.2,1895.8M981.2,1895.8L1011.2,1924.3L1039.5,1896.2M1039.5,1896.2L1069.5,1924.7L1097.8,1896.5M1097.8,1896.5L1127.8,1925L1156.1,1896.9M1156.1,1896.9L1186.1,1925.4L1214.4,1897.3M1214.4,1897.3L1244.4,1925.8L1272.7,1897.6M1272.7,1897.6L1302.7,1926.1L1331,1898" stroke="#b4b0c8" stroke-width="2" fill="none"/>
<circle cx="687.8" cy="1816" r="9" fill="url(#gBlue)"/>
<circle cx="746" cy="1816.4" r="9" fill="url(#gBlue)"/>
<circle cx="804.3" cy="1816.7" r="9" fill="url(#gBlue)"/>
<circle cx="862.6" cy="1817.1" r="9" fill="url(#gBlue)"/>
<circle cx="920.9" cy="1817.5" r="9" fill="url(#gBlue)"/>
<circle cx="979.2" cy="1817.8" r="9" fill="url(#gBlue)"/>
<circle cx="1037.5" cy="1818.2" r="9" fill="url(#gBlue)"/>
<circle cx="1095.8" cy="1818.5" r="9" fill="url(#gBlue)"/>
<circle cx="1154.1" cy="1818.9" r="9" fill="url(#gBlue)"/>
<circle cx="1212.4" cy="1819.3" r="9" fill="url(#gBlue)"/>
<circle cx="1270.7" cy="1819.6" r="9" fill="url(#gBlue)"/>
<circle cx="687.8" cy="1836" r="7.5" fill="#5c5a9a" opacity="0.55"/>
<circle cx="746" cy="1836.4" r="7.5" fill="#5c5a9a" opacity="0.55"/>
<circle cx="804.3" cy="1836.7" r="7.5" fill="#5c5a9a" opacity="0.55"/>
<circle cx="862.6" cy="1837.1" r="7.5" fill="#5c5a9a" opacity="0.55"/>
<circle cx="920.9" cy="1837.5" r="7.5" fill="#5c5a9a" opacity="0.55"/>
<circle cx="979.2" cy="1837.8" r="7.5" fill="#5c5a9a" opacity="0.55"/>
<circle cx="1037.5" cy="1838.2" r="7.5" fill="#5c5a9a" opacity="0.55"/>
<circle cx="1095.8" cy="1838.5" r="7.5" fill="#5c5a9a" opacity="0.55"/>
<circle cx="1154.1" cy="1838.9" r="7.5" fill="#5c5a9a" opacity="0.55"/>
<circle cx="1212.4" cy="1839.3" r="7.5" fill="#5c5a9a" opacity="0.55"/>
<circle cx="1270.7" cy="1839.6" r="7.5" fill="#5c5a9a" opacity="0.55"/>
<circle cx="658.8" cy="1855" r="9" fill="url(#gBlue)"/>
<circle cx="717" cy="1855.4" r="9" fill="url(#gBlue)"/>
<circle cx="775.3" cy="1855.7" r="9" fill="url(#gBlue)"/>
<circle cx="833.6" cy="1856.1" r="9" fill="url(#gBlue)"/>
<circle cx="891.9" cy="1856.5" r="9" fill="url(#gBlue)"/>
<circle cx="950.2" cy="1856.8" r="9" fill="url(#gBlue)"/>
<circle cx="1008.5" cy="1857.2" r="9" fill="url(#gBlue)"/>
<circle cx="1066.8" cy="1857.5" r="9" fill="url(#gBlue)"/>
<circle cx="1125.1" cy="1857.9" r="9" fill="url(#gBlue)"/>
<circle cx="1183.4" cy="1858.3" r="9" fill="url(#gBlue)"/>
<circle cx="1241.7" cy="1858.6" r="9" fill="url(#gBlue)"/>
<circle cx="1300" cy="1859" r="9" fill="url(#gBlue)"/>
<circle cx="687.8" cy="1876" r="7.5" fill="#5c5a9a" opacity="0.55"/>
<circle cx="746" cy="1876.4" r="7.5" fill="#5c5a9a" opacity="0.55"/>
<circle cx="804.3" cy="1876.7" r="7.5" fill="#5c5a9a" opacity="0.55"/>
<circle cx="862.6" cy="1877.1" r="7.5" fill="#5c5a9a" opacity="0.55"/>
<circle cx="920.9" cy="1877.5" r="7.5" fill="#5c5a9a" opacity="0.55"/>
<circle cx="979.2" cy="1877.8" r="7.5" fill="#5c5a9a" opacity="0.55"/>
<circle cx="1037.5" cy="1878.2" r="7.5" fill="#5c5a9a" opacity="0.55"/>
<circle cx="1095.8" cy="1878.5" r="7.5" fill="#5c5a9a" opacity="0.55"/>
<circle cx="1154.1" cy="1878.9" r="7.5" fill="#5c5a9a" opacity="0.55"/>
<circle cx="1212.4" cy="1879.3" r="7.5" fill="#5c5a9a" opacity="0.55"/>
<circle cx="1270.7" cy="1879.6" r="7.5" fill="#5c5a9a" opacity="0.55"/>
<circle cx="689.8" cy="1894" r="9" fill="url(#gBlue)"/>
<circle cx="748" cy="1894.4" r="9" fill="url(#gBlue)"/>
<circle cx="806.3" cy="1894.7" r="9" fill="url(#gBlue)"/>
<circle cx="864.6" cy="1895.1" r="9" fill="url(#gBlue)"/>
<circle cx="922.9" cy="1895.5" r="9" fill="url(#gBlue)"/>
<circle cx="981.2" cy="1895.8" r="9" fill="url(#gBlue)"/>
<circle cx="1039.5" cy="1896.2" r="9" fill="url(#gBlue)"/>
<circle cx="1097.8" cy="1896.5" r="9" fill="url(#gBlue)"/>
<circle cx="1156.1" cy="1896.9" r="9" fill="url(#gBlue)"/>
<circle cx="1214.4" cy="1897.3" r="9" fill="url(#gBlue)"/>
<circle cx="1272.7" cy="1897.6" r="9" fill="url(#gBlue)"/>
<circle cx="689.8" cy="1909" r="3.8" fill="#7a1a1a"/>
<circle cx="748" cy="1909.4" r="3.8" fill="#7a1a1a"/>
<circle cx="806.3" cy="1909.7" r="3.8" fill="#7a1a1a"/>
<circle cx="864.6" cy="1910.1" r="3.8" fill="#7a1a1a"/>
<circle cx="922.9" cy="1910.5" r="3.8" fill="#7a1a1a"/>
<circle cx="981.2" cy="1910.8" r="3.8" fill="#7a1a1a"/>
<circle cx="1039.5" cy="1911.2" r="3.8" fill="#7a1a1a"/>
<circle cx="1097.8" cy="1911.5" r="3.8" fill="#7a1a1a"/>
<circle cx="1156.1" cy="1911.9" r="3.8" fill="#7a1a1a"/>
<circle cx="1214.4" cy="1912.3" r="3.8" fill="#7a1a1a"/>
<circle cx="1272.7" cy="1912.6" r="3.8" fill="#7a1a1a"/>
<circle cx="719.8" cy="1922.5" r="4.2" fill="#7a1a1a"/>
<circle cx="778" cy="1922.9" r="4.2" fill="#7a1a1a"/>
<circle cx="836.3" cy="1923.2" r="4.2" fill="#7a1a1a"/>
<circle cx="894.6" cy="1923.6" r="4.2" fill="#7a1a1a"/>
<circle cx="952.9" cy="1924" r="4.2" fill="#7a1a1a"/>
<circle cx="1011.2" cy="1924.3" r="4.2" fill="#7a1a1a"/>
<circle cx="1069.5" cy="1924.7" r="4.2" fill="#7a1a1a"/>
<circle cx="1127.8" cy="1925" r="4.2" fill="#7a1a1a"/>
<circle cx="1186.1" cy="1925.4" r="4.2" fill="#7a1a1a"/>
<circle cx="1244.4" cy="1925.8" r="4.2" fill="#7a1a1a"/>
<circle cx="1302.7" cy="1926.1" r="4.2" fill="#7a1a1a"/>
<text x="251.5" y="1235.4" font-size="44" fill="#262626" font-family="Liberation Sans, sans-serif" font-weight="bold" textLength="132" lengthAdjust="spacingAndGlyphs">Ti<tspan font-size="26" dy="9">3</tspan><tspan dy="-9">C</tspan><tspan font-size="26" dy="9">2</tspan><tspan dy="-9">T</tspan><tspan font-size="26" dy="9" font-style="italic">x</tspan></text>
<text x="250" y="1295.5" font-size="44" fill="#262626" font-family="Liberation Sans, sans-serif" font-weight="bold" textLength="222" lengthAdjust="spacingAndGlyphs">(T=OH,F,O)</text>
<text x="490" y="1423" font-size="44" fill="#262626" font-family="Liberation Sans, sans-serif" font-weight="bold" textLength="205" lengthAdjust="spacingAndGlyphs">Ti<tspan font-size="26" dy="9">3</tspan><tspan dy="-9">C</tspan><tspan font-size="26" dy="9">2</tspan><tspan dy="-9">(OH)</tspan><tspan font-size="26" dy="9" font-style="italic">x</tspan></text>
<text x="484" y="1865" font-size="44" fill="#262626" font-family="Liberation Sans, sans-serif" font-weight="bold" textLength="140" lengthAdjust="spacingAndGlyphs">Ti<tspan font-size="26" dy="9">3</tspan><tspan dy="-9">C</tspan><tspan font-size="26" dy="9">2</tspan><tspan dy="-9">O</tspan><tspan font-size="26" dy="9" font-style="italic">x</tspan></text>
<path d="M1094,1334.6 L918.4,1435.7 L911.9,1424.4 L888,1467 L936.9,1467.7 L930.4,1456.5 L1106,1355.4Z" fill="#cc0000" stroke="#a00000" stroke-width="1"/>
<path d="M907,1563.9 L1084.8,1645.4 L1079.4,1657.2 L1128,1652 L1100.2,1611.8 L1094.8,1623.6 L917,1542.1Z" fill="#cc0000" stroke="#a00000" stroke-width="1"/>
<text x="840" y="1438" font-size="33" fill="#262626" font-family="Liberation Sans, sans-serif" font-weight="bold" textLength="238" lengthAdjust="spacingAndGlyphs" transform="rotate(-28.1 840 1438)">KOH solution</text>
<text x="918" y="1522" font-size="33" fill="#262626" font-family="Liberation Sans, sans-serif" font-weight="bold" textLength="285" lengthAdjust="spacingAndGlyphs" transform="rotate(25.1 918 1522)">Heat treatment</text>
<path d="M1438,1038 V1149 H1292" stroke="#f6cccc" stroke-width="6" fill="none"/>
<path d="M1438,1038 V1149 H1292" stroke="#7a3434" stroke-width="6.5" stroke-linecap="round" stroke-dasharray="0.1 13.2" fill="none"/>
<path d="M1269,1149.5 L1290,1141 L1290,1158 Z" fill="#c01010"/>
<rect x="1277" y="1259" width="175" height="342" rx="20" fill="#fff" stroke="#e6e6e2" stroke-width="3"/>
<circle cx="1315.7" cy="1302" r="20" fill="#000" opacity="0.15"/>
<circle cx="1313.7" cy="1299" r="20" fill="#0a2aa8"/>
<text x="1376" y="1314.6" font-size="44" fill="#1a1a1a" font-family="Liberation Sans, sans-serif" font-weight="bold">Al</text>
<circle cx="1316.6" cy="1367" r="20" fill="#000" opacity="0.15"/>
<circle cx="1314.6" cy="1364" r="20" fill="#050505"/>
<text x="1376" y="1378.7" font-size="44" fill="#1a1a1a" font-family="Liberation Sans, sans-serif" font-weight="bold">C</text>
<circle cx="1319" cy="1437" r="20" fill="#000" opacity="0.15"/>
<circle cx="1317" cy="1434" r="20" fill="#10b050"/>
<text x="1376" y="1449.8" font-size="44" fill="#1a1a1a" font-family="Liberation Sans, sans-serif" font-weight="bold">T</text>
<circle cx="1319" cy="1503" r="20" fill="#000" opacity="0.15"/>
<circle cx="1317" cy="1500" r="20" fill="#f8f800"/>
<text x="1376" y="1510.5" font-size="44" fill="#1a1a1a" font-family="Liberation Sans, sans-serif" font-weight="bold">OH</text>
<circle cx="1321.8" cy="1569" r="20" fill="#000" opacity="0.15"/>
<circle cx="1319.8" cy="1566" r="20" fill="#d00000"/>
<text x="1376" y="1581.6" font-size="44" fill="#1a1a1a" font-family="Liberation Sans, sans-serif" font-weight="bold">O</text>
<defs>
<clipPath id="clipD"><rect x="76" y="2143.5" width="1029.5" height="772"/></clipPath>
<filter id="blurD" x="-5%" y="-5%" width="110%" height="110%"><feGaussianBlur stdDeviation="1.9"/></filter>
<linearGradient id="gMain" x1="0" y1="0" x2="1" y2="0.3"><stop offset="0" stop-color="#9a9a9a"/><stop offset="0.5" stop-color="#8e8e8e"/><stop offset="1" stop-color="#858585"/></linearGradient>
<linearGradient id="gUpper" x1="0" y1="0" x2="1" y2="0.4"><stop offset="0" stop-color="#8a8a8a"/><stop offset="0.55" stop-color="#767676"/><stop offset="1" stop-color="#5e5e5e"/></linearGradient>
<linearGradient id="gRight" x1="0" y1="0" x2="1" y2="0"><stop offset="0" stop-color="#727272"/><stop offset="0.5" stop-color="#7e7e7e"/><stop offset="1" stop-color="#8e8e8e"/></linearGradient>
<linearGradient id="gBgR" x1="0" y1="0" x2="1" y2="0"><stop offset="0" stop-color="#2c2c2c"/><stop offset="0.7" stop-color="#363636"/><stop offset="1" stop-color="#303030"/></linearGradient>
<clipPath id="cMain"><path d="M230,2330 C300,2305 420,2284 540,2264 C620,2252 680,2248 704,2256 C714,2262 716,2290 714,2330 L712,2435 L697,2562 L685,2688 L672,2814 L653,2864 C640,2874 600,2878 540,2880 L312,2887 C250,2886 190,2880 161,2864 C146,2840 138,2800 135,2740 C135,2680 140,2600 155,2524 C162,2480 172,2440 186,2400 C198,2370 212,2345 230,2330 Z"/></clipPath>
<clipPath id="cUpper"><path d="M426,2143 L880,2143 L899,2183 L924,2278 L931,2309 L905,2341 L817,2385 L716,2423 L700,2450 L400,2450 L238,2336 L211,2309 C240,2270 280,2240 312,2214 C350,2185 390,2160 426,2143 Z"/></clipPath>
<clipPath id="cRight"><path d="M700,2493 C780,2466 880,2424 962,2410 L987,2448 L1006,2562 L1000,2688 L987,2814 L975,2916 L766,2916 L678,2751 L690,2600 Z"/></clipPath>
</defs>
<g clip-path="url(#clipD)">
<rect x="76" y="2143.5" width="1029.5" height="772" fill="#2e2e2e"/>
<g filter="url(#blurD)"><rect x="930" y="2143" width="176" height="773" fill="url(#gBgR)"/><path d="M1006,2143 L1075,2143 L1080,2500 L1010,2520 Z" fill="#3c3c3c" opacity="0.8"/><path d="M1010,2470 C1040,2480 1070,2490 1090,2500 L1095,2560 L1015,2540 Z" fill="#555" opacity="0.6"/><path d="M1100,2143 V2916" stroke="#555" stroke-width="5"/><path d="M76,2143 L430,2143 L430,2500 L76,2500 Z" fill="#3a3a3a"/><path d="M89.5,2143 C94.5,2250 74.5,2350 59.5,2500" stroke="#2a2a2a" stroke-width="6" fill="none"/><path d="M107.5,2143 C112.5,2250 92.5,2350 77.5,2500" stroke="#2a2a2a" stroke-width="4" fill="none"/><path d="M122.8,2143 C127.8,2250 107.8,2350 92.8,2500" stroke="#2a2a2a" stroke-width="6" fill="none"/><path d="M145.3,2143 C150.3,2250 130.3,2350 115.3,2500" stroke="#555" stroke-width="4" fill="none"/><path d="M161.5,2143 C166.5,2250 146.5,2350 131.5,2500" stroke="#555" stroke-width="4" fill="none"/><path d="M180.4,2143 C185.4,2250 165.4,2350 150.4,2500" stroke="#4a4a4a" stroke-width="8" fill="none"/><path d="M202.8,2143 C207.8,2250 187.8,2350 172.8,2500" stroke="#5a5a5a" stroke-width="8" fill="none"/><path d="M218.4,2143 C223.4,2250 203.4,2350 188.4,2500" stroke="#555" stroke-width="8" fill="none"/><path d="M229.2,2143 C234.2,2250 214.2,2350 199.2,2500" stroke="#2a2a2a" stroke-width="4" fill="none"/><path d="M247.6,2143 C252.6,2250 232.6,2350 217.6,2500" stroke="#555" stroke-width="4" fill="none"/><path d="M271,2143 C276,2250 256,2350 241,2500" stroke="#5a5a5a" stroke-width="6" fill="none"/><path d="M287.4,2143 C292.4,2250 272.4,2350 257.4,2500" stroke="#555" stroke-width="8" fill="none"/><path d="M303.3,2143 C308.3,2250 288.3,2350 273.3,2500" stroke="#333" stroke-width="6" fill="none"/><path d="M319,2143 C324,2250 304,2350 289,2500" stroke="#4a4a4a" stroke-width="6" fill="none"/><path d="M343.5,2143 C348.5,2250 328.5,2350 313.5,2500" stroke="#5a5a5a" stroke-width="8" fill="none"/><path d="M365,2143 C370,2250 350,2350 335,2500" stroke="#4a4a4a" stroke-width="8" fill="none"/><path d="M375.5,2143 C380.5,2250 360.5,2350 345.5,2500" stroke="#555" stroke-width="8" fill="none"/><path d="M393.9,2143 C398.9,2250 378.9,2350 363.9,2500" stroke="#4a4a4a" stroke-width="8" fill="none"/><path d="M268,2143 L430,2143 C380,2170 330,2200 300,2230 C270,2260 240,2290 215,2315 C225,2260 245,2200 268,2143 Z" fill="#111"/><path d="M76,2232 C100,2228 135,2236 152,2252 C162,2300 162,2420 158,2500 C130,2520 100,2530 76,2540 Z" fill="#787878"/><path d="M76,2248 C110,2242 140,2250 156,2266 L157,2300 C130,2292 100,2290 76,2294 Z" fill="#b2b2b2"/><path d="M76,2196 L112,2188 L122,2214 L76,2226 Z" fill="#a0a0a0"/><path d="M76,2540 C110,2520 140,2505 156,2500 L150,2700 C120,2760 95,2800 76,2820 Z" fill="#6a6a6a"/><path d="M76,2820 C100,2800 130,2760 150,2720 L140,2860 L76,2860 Z" fill="#4c4c4c"/><path d="M76,2862 L138,2846 L146,2880 L76,2895 Z" fill="#909090"/><rect x="76" y="2884" width="700" height="32" fill="#404040"/><path d="M640,2916 L660,2850 L688,2640 L700,2493 L720,2600 L790,2916 Z" fill="#5e5e5e"/><path d="M716.6,2390 L712.6,2500" stroke="#3c3c3c" stroke-width="3" opacity="0.8"/><path d="M724.4,2390 L720.4,2500" stroke="#3c3c3c" stroke-width="3" opacity="0.8"/><path d="M737.1,2390 L733.1,2500" stroke="#3c3c3c" stroke-width="3" opacity="0.8"/><path d="M744.3,2390 L740.3,2500" stroke="#3c3c3c" stroke-width="3" opacity="0.8"/><path d="M757.7,2390 L753.7,2500" stroke="#3c3c3c" stroke-width="3" opacity="0.8"/><path d="M767.1,2390 L763.1,2500" stroke="#3c3c3c" stroke-width="3" opacity="0.8"/><path d="M772,2390 L768,2500" stroke="#3c3c3c" stroke-width="3" opacity="0.8"/><path d="M783.3,2390 L779.3,2500" stroke="#3c3c3c" stroke-width="3" opacity="0.8"/><path d="M797.5,2390 L793.5,2500" stroke="#3c3c3c" stroke-width="3" opacity="0.8"/><path d="M804.8,2390 L800.8,2500" stroke="#3c3c3c" stroke-width="3" opacity="0.8"/><path d="M817.9,2390 L813.9,2500" stroke="#3c3c3c" stroke-width="3" opacity="0.8"/><path d="M824.4,2390 L820.4,2500" stroke="#3c3c3c" stroke-width="3" opacity="0.8"/><path d="M832.4,2390 L828.4,2500" stroke="#3c3c3c" stroke-width="3" opacity="0.8"/><path d="M845.8,2390 L841.8,2500" stroke="#3c3c3c" stroke-width="3" opacity="0.8"/><path d="M856.7,2390 L852.7,2500" stroke="#3c3c3c" stroke-width="3" opacity="0.8"/><path d="M863.6,2390 L859.6,2500" stroke="#3c3c3c" stroke-width="3" opacity="0.8"/><path d="M872.5,2390 L868.5,2500" stroke="#3c3c3c" stroke-width="3" opacity="0.8"/><path d="M884,2390 L880,2500" stroke="#3c3c3c" stroke-width="3" opacity="0.8"/><path d="M897.8,2390 L893.8,2500" stroke="#3c3c3c" stroke-width="3" opacity="0.8"/><path d="M906.5,2390 L902.5,2500" stroke="#3c3c3c" stroke-width="3" opacity="0.8"/><path d="M912.7,2390 L908.7,2500" stroke="#3c3c3c" stroke-width="3" opacity="0.8"/><path d="M923.5,2390 L919.5,2500" stroke="#3c3c3c" stroke-width="3" opacity="0.8"/><path d="M932.6,2390 L928.6,2500" stroke="#3c3c3c" stroke-width="3" opacity="0.8"/><path d="M942.4,2390 L938.4,2500" stroke="#3c3c3c" stroke-width="3" opacity="0.8"/></g>
<g clip-path="url(#cUpper)"><g filter="url(#blurD)"><rect x="180" y="2143" width="760" height="310" fill="url(#gUpper)"/><path d="M200,2310 C380,2110 620,2100 945,2240" stroke="#8c8c8c" stroke-width="5" fill="none" opacity="0.85"/><path d="M201.5,2317.7 C380,2117.7 620,2108.2 945,2248.2" stroke="#606060" stroke-width="7" fill="none" opacity="0.85"/><path d="M203.1,2325.4 C380,2125.4 620,2116.4 945,2256.4" stroke="#606060" stroke-width="5" fill="none" opacity="0.85"/><path d="M204.6,2333.1 C380,2133.1 620,2124.6 945,2264.6" stroke="#808080" stroke-width="3" fill="none" opacity="0.85"/><path d="M206.2,2340.8 C380,2140.8 620,2132.8 945,2272.8" stroke="#4a4a4a" stroke-width="3" fill="none" opacity="0.85"/><path d="M207.7,2348.5 C380,2148.5 620,2141 945,2281" stroke="#a6a6a6" stroke-width="5" fill="none" opacity="0.85"/><path d="M209.2,2356.2 C380,2156.2 620,2149.2 945,2289.2" stroke="#555" stroke-width="5" fill="none" opacity="0.85"/><path d="M210.8,2363.8 C380,2163.8 620,2157.4 945,2297.4" stroke="#a6a6a6" stroke-width="3" fill="none" opacity="0.85"/><path d="M212.3,2371.5 C380,2171.5 620,2165.6 945,2305.6" stroke="#555" stroke-width="4" fill="none" opacity="0.85"/><path d="M213.8,2379.2 C380,2179.2 620,2173.8 945,2313.8" stroke="#8c8c8c" stroke-width="7" fill="none" opacity="0.85"/><path d="M215.4,2386.9 C380,2186.9 620,2182.1 945,2322.1" stroke="#9a9a9a" stroke-width="2" fill="none" opacity="0.85"/><path d="M216.9,2394.6 C380,2194.6 620,2190.3 945,2330.3" stroke="#606060" stroke-width="3" fill="none" opacity="0.85"/><path d="M218.5,2402.3 C380,2202.3 620,2198.5 945,2338.5" stroke="#a6a6a6" stroke-width="7" fill="none" opacity="0.85"/><path d="M220,2410 C380,2210 620,2206.7 945,2346.7" stroke="#4a4a4a" stroke-width="7" fill="none" opacity="0.85"/><path d="M221.5,2417.7 C380,2217.7 620,2214.9 945,2354.9" stroke="#555" stroke-width="2" fill="none" opacity="0.85"/><path d="M223.1,2425.4 C380,2225.4 620,2223.1 945,2363.1" stroke="#606060" stroke-width="3" fill="none" opacity="0.85"/><path d="M224.6,2433.1 C380,2233.1 620,2231.3 945,2371.3" stroke="#a6a6a6" stroke-width="4" fill="none" opacity="0.85"/><path d="M226.2,2440.8 C380,2240.8 620,2239.5 945,2379.5" stroke="#555" stroke-width="7" fill="none" opacity="0.85"/><path d="M227.7,2448.5 C380,2248.5 620,2247.7 945,2387.7" stroke="#9a9a9a" stroke-width="4" fill="none" opacity="0.85"/><path d="M229.2,2456.2 C380,2256.2 620,2255.9 945,2395.9" stroke="#a6a6a6" stroke-width="2" fill="none" opacity="0.85"/><path d="M230.8,2463.8 C380,2263.8 620,2264.1 945,2404.1" stroke="#555" stroke-width="2" fill="none" opacity="0.85"/><path d="M232.3,2471.5 C380,2271.5 620,2272.3 945,2412.3" stroke="#606060" stroke-width="7" fill="none" opacity="0.85"/><path d="M233.8,2479.2 C380,2279.2 620,2280.5 945,2420.5" stroke="#4a4a4a" stroke-width="3" fill="none" opacity="0.85"/><path d="M235.4,2486.9 C380,2286.9 620,2288.7 945,2428.7" stroke="#555" stroke-width="7" fill="none" opacity="0.85"/><path d="M236.9,2494.6 C380,2294.6 620,2296.9 945,2436.9" stroke="#9a9a9a" stroke-width="4" fill="none" opacity="0.85"/><path d="M238.5,2502.3 C380,2302.3 620,2305.1 945,2445.1" stroke="#808080" stroke-width="5" fill="none" opacity="0.85"/><path d="M240,2510 C380,2310 620,2313.3 945,2453.3" stroke="#606060" stroke-width="7" fill="none" opacity="0.85"/><path d="M241.5,2517.7 C380,2317.7 620,2321.5 945,2461.5" stroke="#a6a6a6" stroke-width="7" fill="none" opacity="0.85"/><path d="M243.1,2525.4 C380,2325.4 620,2329.7 945,2469.7" stroke="#606060" stroke-width="5" fill="none" opacity="0.85"/><path d="M244.6,2533.1 C380,2333.1 620,2337.9 945,2477.9" stroke="#606060" stroke-width="3" fill="none" opacity="0.85"/><path d="M246.2,2540.8 C380,2340.8 620,2346.2 945,2486.2" stroke="#9a9a9a" stroke-width="3" fill="none" opacity="0.85"/><path d="M247.7,2548.5 C380,2348.5 620,2354.4 945,2494.4" stroke="#8c8c8c" stroke-width="7" fill="none" opacity="0.85"/><path d="M249.2,2556.2 C380,2356.2 620,2362.6 945,2502.6" stroke="#606060" stroke-width="3" fill="none" opacity="0.85"/><path d="M250.8,2563.8 C380,2363.8 620,2370.8 945,2510.8" stroke="#606060" stroke-width="7" fill="none" opacity="0.85"/><path d="M252.3,2571.5 C380,2371.5 620,2379 945,2519" stroke="#606060" stroke-width="5" fill="none" opacity="0.85"/><path d="M253.8,2579.2 C380,2379.2 620,2387.2 945,2527.2" stroke="#a6a6a6" stroke-width="7" fill="none" opacity="0.85"/><path d="M255.4,2586.9 C380,2386.9 620,2395.4 945,2535.4" stroke="#555" stroke-width="5" fill="none" opacity="0.85"/><path d="M256.9,2594.6 C380,2394.6 620,2403.6 945,2543.6" stroke="#555" stroke-width="2" fill="none" opacity="0.85"/><path d="M258.5,2602.3 C380,2402.3 620,2411.8 945,2551.8" stroke="#555" stroke-width="2" fill="none" opacity="0.85"/><path d="M260,2610 C380,2410 620,2420 945,2560" stroke="#808080" stroke-width="4" fill="none" opacity="0.85"/><path d="M250,2300 C380,2190 560,2150 760,2146" stroke="#c4c4c4" stroke-width="12" fill="none" opacity="0.55"/></g></g>
<g clip-path="url(#cRight)"><g filter="url(#blurD)"><rect x="670" y="2400" width="350" height="520" fill="url(#gRight)"/><path d="M690,2496.2 C694,2646.2 690.5,2796.2 691,2920" stroke="#aaaaaa" stroke-width="2.8" fill="none" opacity="0.85"/><path d="M696.2,2494.2 C700.2,2644.2 696.4,2794.2 696.6,2920" stroke="#4a4a4a" stroke-width="3.9" fill="none" opacity="0.85"/><path d="M705.7,2491.2 C709.7,2641.2 705.4,2791.2 705.1,2920" stroke="#585858" stroke-width="3.1" fill="none" opacity="0.85"/><path d="M715.6,2488.1 C719.6,2638.1 714.8,2788.1 714,2920" stroke="#aaaaaa" stroke-width="2.4" fill="none" opacity="0.85"/><path d="M724.9,2485.1 C728.9,2635.1 723.6,2785.1 722.4,2920" stroke="#a0a0a0" stroke-width="2.5" fill="none" opacity="0.85"/><path d="M734.4,2482.1 C738.4,2632.1 732.7,2782.1 731,2920" stroke="#4a4a4a" stroke-width="2.6" fill="none" opacity="0.85"/><path d="M741.7,2479.8 C745.7,2629.8 739.6,2779.8 737.5,2920" stroke="#a0a0a0" stroke-width="2.7" fill="none" opacity="0.85"/><path d="M749.3,2477.4 C753.3,2627.4 746.9,2777.4 744.4,2920" stroke="#949494" stroke-width="3.5" fill="none" opacity="0.85"/><path d="M758.8,2474.4 C762.8,2624.4 755.8,2774.4 752.9,2920" stroke="#949494" stroke-width="2.1" fill="none" opacity="0.85"/><path d="M766.4,2472 C770.4,2622 763.1,2772 759.7,2920" stroke="#949494" stroke-width="2.6" fill="none" opacity="0.85"/><path d="M771.5,2470.4 C775.5,2620.4 767.9,2770.4 764.3,2920" stroke="#a0a0a0" stroke-width="3" fill="none" opacity="0.85"/><path d="M776.6,2468.7 C780.6,2618.7 772.8,2768.7 769,2920" stroke="#4a4a4a" stroke-width="2.2" fill="none" opacity="0.85"/><path d="M785.3,2466 C789.3,2616 781,2766 776.8,2920" stroke="#949494" stroke-width="3.5" fill="none" opacity="0.85"/><path d="M793,2463.5 C797,2613.5 788.4,2763.5 783.7,2920" stroke="#aaaaaa" stroke-width="2.7" fill="none" opacity="0.85"/><path d="M798.7,2461.7 C802.7,2611.7 793.7,2761.7 788.8,2920" stroke="#aaaaaa" stroke-width="3.9" fill="none" opacity="0.85"/><path d="M807.1,2459.1 C811.1,2609.1 801.7,2759.1 796.4,2920" stroke="#4a4a4a" stroke-width="3.2" fill="none" opacity="0.85"/><path d="M812.3,2457.4 C816.3,2607.4 806.6,2757.4 801,2920" stroke="#949494" stroke-width="2.1" fill="none" opacity="0.85"/><path d="M819.2,2455.2 C823.2,2605.2 813.2,2755.2 807.2,2920" stroke="#585858" stroke-width="3.8" fill="none" opacity="0.85"/><path d="M824.6,2453.5 C828.6,2603.5 818.4,2753.5 812.2,2920" stroke="#585858" stroke-width="2.9" fill="none" opacity="0.85"/><path d="M833.3,2450.8 C837.3,2600.8 826.6,2750.8 819.9,2920" stroke="#4a4a4a" stroke-width="2.6" fill="none" opacity="0.85"/><path d="M842.4,2447.9 C846.4,2597.9 835.3,2747.9 828.2,2920" stroke="#4a4a4a" stroke-width="3" fill="none" opacity="0.85"/><path d="M847.9,2446.1 C851.9,2596.1 840.5,2746.1 833.1,2920" stroke="#aaaaaa" stroke-width="3.8" fill="none" opacity="0.85"/><path d="M856,2443.6 C860,2593.6 848.2,2743.6 840.4,2920" stroke="#4a4a4a" stroke-width="3" fill="none" opacity="0.85"/><path d="M862.8,2441.4 C866.8,2591.4 854.7,2741.4 846.5,2920" stroke="#585858" stroke-width="3" fill="none" opacity="0.85"/><path d="M871.6,2438.6 C875.6,2588.6 863,2738.6 854.4,2920" stroke="#585858" stroke-width="2.4" fill="none" opacity="0.85"/><path d="M877.8,2436.7 C881.8,2586.7 868.9,2736.7 860,2920" stroke="#a0a0a0" stroke-width="3.8" fill="none" opacity="0.85"/><path d="M884.9,2434.4 C888.9,2584.4 875.7,2734.4 866.4,2920" stroke="#aaaaaa" stroke-width="2.4" fill="none" opacity="0.85"/><path d="M891.9,2432.2 C895.9,2582.2 882.3,2732.2 872.7,2920" stroke="#4a4a4a" stroke-width="3.4" fill="none" opacity="0.85"/><path d="M897.5,2430.4 C901.5,2580.4 887.6,2730.4 877.8,2920" stroke="#4a4a4a" stroke-width="2.2" fill="none" opacity="0.85"/><path d="M907.3,2427.3 C911.3,2577.3 896.9,2727.3 886.5,2920" stroke="#aaaaaa" stroke-width="2.8" fill="none" opacity="0.85"/><path d="M914.6,2425 C918.6,2575 903.9,2725 893.2,2920" stroke="#949494" stroke-width="3.7" fill="none" opacity="0.85"/><path d="M922.2,2422.6 C926.2,2572.6 911.1,2722.6 900,2920" stroke="#4a4a4a" stroke-width="3.7" fill="none" opacity="0.85"/><path d="M932.1,2419.5 C936.1,2569.5 920.5,2719.5 908.9,2920" stroke="#949494" stroke-width="3.4" fill="none" opacity="0.85"/><path d="M938.5,2417.4 C942.5,2567.4 926.6,2717.4 914.7,2920" stroke="#4a4a4a" stroke-width="3.3" fill="none" opacity="0.85"/><path d="M946.4,2414.9 C950.4,2564.9 934.1,2714.9 921.7,2920" stroke="#585858" stroke-width="2.5" fill="none" opacity="0.85"/><path d="M953.4,2412.7 C957.4,2562.7 940.7,2712.7 928.1,2920" stroke="#4a4a4a" stroke-width="2.9" fill="none" opacity="0.85"/><path d="M959.1,2410.9 C963.1,2560.9 946.2,2710.9 933.2,2920" stroke="#aaaaaa" stroke-width="3.9" fill="none" opacity="0.85"/><path d="M967.3,2408.3 C971.3,2558.3 953.9,2708.3 940.5,2920" stroke="#585858" stroke-width="2.5" fill="none" opacity="0.85"/><path d="M975.7,2405.7 C979.7,2555.7 961.9,2705.7 948.1,2920" stroke="#949494" stroke-width="3.4" fill="none" opacity="0.85"/><path d="M984.3,2402.9 C988.3,2552.9 970,2702.9 955.8,2920" stroke="#585858" stroke-width="3.1" fill="none" opacity="0.85"/><path d="M990.2,2401.1 C994.2,2551.1 975.6,2701.1 961.1,2920" stroke="#a0a0a0" stroke-width="2.8" fill="none" opacity="0.85"/><path d="M999.9,2398 C1003.9,2548 984.9,2698 969.9,2920" stroke="#a0a0a0" stroke-width="2.8" fill="none" opacity="0.85"/><path d="M1008.8,2395.2 C1012.8,2545.2 993.4,2695.2 978,2920" stroke="#585858" stroke-width="2.9" fill="none" opacity="0.85"/><path d="M700,2493 C780,2466 880,2424 962,2410" stroke="#c0c0c0" stroke-width="6" fill="none"/><path d="M678,2751 L690,2700 L780,2916 L766,2916 Z" fill="#6a6a6a"/><path d="M680,2752 L768,2916" stroke="#b4b4b4" stroke-width="4" opacity="0.8"/></g></g>
<g clip-path="url(#cMain)"><g filter="url(#blurD)"><rect x="130" y="2240" width="600" height="660" fill="url(#gMain)"/><path d="M182.2,2264.6 C195.2,2263.9 234.1,2261.4 260.1,2260.7 C286.1,2260.1 312,2259.8 338,2260.6 C364,2261.5 389.9,2266.2 415.9,2265.9 C441.9,2265.6 467.8,2258.9 493.8,2258.8 C519.8,2258.6 545.7,2264 571.7,2264.9 C597.7,2265.9 636.6,2264.5 649.6,2264.4" stroke="#a2a2a2" stroke-width="3.1" fill="none" opacity="0.85"/><path d="M208.4,2270.4 C218.7,2270.8 249.5,2272.7 270.1,2272.5 C290.7,2272.2 311.2,2268.5 331.8,2268.7 C352.3,2268.8 372.9,2272.7 393.4,2273.4 C414,2274.1 434.5,2273.7 455.1,2273 C475.6,2272.2 496.2,2269.9 516.7,2268.9 C537.3,2267.9 568.1,2267.1 578.4,2266.8" stroke="#464646" stroke-width="4.2" fill="none" opacity="0.85"/><path d="M132.3,2276.3 C145.4,2277.2 184.6,2282 210.8,2282.1 C237,2282.3 263.2,2277.8 289.4,2277.1 C315.6,2276.5 341.8,2277.6 368,2278.4 C394.1,2279.2 420.3,2282.3 446.5,2282.1 C472.7,2281.8 498.9,2277.7 525.1,2276.9 C551.3,2276 590.5,2276.9 603.6,2276.9" stroke="#adadad" stroke-width="3" fill="none" opacity="0.85"/><path d="M169.4,2283.6 C180.9,2283.8 215.3,2284.1 238.3,2284.7 C261.2,2285.3 284.2,2287.1 307.1,2287.2 C330.1,2287.3 353.1,2285 376,2285.3 C399,2285.5 421.9,2288.3 444.9,2288.8 C467.8,2289.2 490.8,2288.3 513.8,2288.1 C536.7,2287.8 571.1,2287.3 582.6,2287.1" stroke="#a2a2a2" stroke-width="3.9" fill="none" opacity="0.85"/><path d="M206.4,2295.4 C217.2,2295 249.5,2293.6 271.1,2293 C292.6,2292.3 314.2,2291.3 335.8,2291.7 C357.3,2292 378.9,2294.7 400.4,2294.9 C422,2295.1 443.6,2292.8 465.1,2292.7 C486.7,2292.7 508.2,2294.3 529.8,2294.5 C551.4,2294.7 583.7,2293.9 594.5,2293.8" stroke="#adadad" stroke-width="3.3" fill="none" opacity="0.85"/><path d="M207.6,2303 C219.8,2303.5 256.4,2305.9 280.9,2306.2 C305.3,2306.4 329.8,2304.7 354.2,2304.3 C378.7,2303.8 403.1,2303.5 427.6,2303.7 C452,2303.9 476.5,2305.8 500.9,2305.3 C525.4,2304.7 549.8,2300.5 574.3,2300.3 C598.7,2300.1 635.4,2303.4 647.6,2304.1" stroke="#545454" stroke-width="2.1" fill="none" opacity="0.85"/><path d="M167.9,2308.8 C182.8,2309.3 227.6,2311.2 257.5,2311.9 C287.4,2312.5 317.3,2313 347.2,2312.5 C377.1,2312.1 407,2309.9 436.9,2309.1 C466.8,2308.4 496.7,2308.2 526.6,2307.9 C556.5,2307.5 586.4,2306.5 616.3,2306.9 C646.2,2307.3 691,2309.7 706,2310.3" stroke="#a2a2a2" stroke-width="2.5" fill="none" opacity="0.85"/><path d="M142.4,2314.7 C158.6,2315.3 207,2318.2 239.2,2318.2 C271.5,2318.1 303.8,2314.6 336,2314.4 C368.3,2314.1 400.6,2316 432.8,2316.4 C465.1,2316.7 497.4,2316.3 529.6,2316.4 C561.9,2316.5 594.2,2316.6 626.4,2317.1 C658.7,2317.5 707.1,2318.9 723.2,2319.2" stroke="#464646" stroke-width="2.1" fill="none" opacity="0.85"/><path d="M180.6,2326.9 C192.3,2326.8 227.4,2326 250.7,2326.3 C274.1,2326.7 297.5,2328.9 320.8,2328.9 C344.2,2328.9 367.6,2327.2 390.9,2326.3 C414.3,2325.4 437.7,2324.2 461,2323.8 C484.4,2323.3 507.8,2323.3 531.1,2323.8 C554.5,2324.2 589.5,2325.9 601.2,2326.4" stroke="#a2a2a2" stroke-width="2" fill="none" opacity="0.85"/><path d="M157.8,2335 C172.8,2335.3 217.8,2337.8 247.8,2337.3 C277.8,2336.7 307.8,2331.8 337.8,2331.7 C367.8,2331.5 397.8,2336.4 427.8,2336.4 C457.8,2336.4 487.8,2332.6 517.8,2331.7 C547.8,2330.8 577.8,2330 607.8,2330.9 C637.8,2331.8 682.8,2336.2 697.8,2337.3" stroke="#5e5e5e" stroke-width="3.6" fill="none" opacity="0.85"/><path d="M196.6,2344.4 C209.5,2343.5 248.3,2339.6 274.1,2339.1 C299.9,2338.6 325.8,2340.5 351.6,2341.3 C377.5,2342 403.3,2344.1 429.2,2343.6 C455,2343 480.9,2338.9 506.7,2338.2 C532.5,2337.6 558.4,2338.8 584.2,2339.7 C610.1,2340.6 648.8,2342.9 661.8,2343.5" stroke="#545454" stroke-width="2.2" fill="none" opacity="0.85"/><path d="M180.8,2351.7 C194.5,2351.5 235.5,2350.7 262.9,2350.4 C290.3,2350.1 317.6,2350.6 345,2350.2 C372.4,2349.7 399.8,2348.6 427.1,2347.6 C454.5,2346.6 481.9,2343.6 509.2,2343.9 C536.6,2344.3 564,2349 591.4,2349.8 C618.7,2350.6 659.8,2348.8 673.5,2348.6" stroke="#b8b8b8" stroke-width="3.4" fill="none" opacity="0.85"/><path d="M146.3,2361.2 C158.9,2361.1 196.6,2361.9 221.8,2360.7 C246.9,2359.5 272.1,2355.2 297.2,2354.1 C322.3,2352.9 347.5,2352.6 372.6,2353.8 C397.8,2354.9 422.9,2360.4 448.1,2360.9 C473.2,2361.4 498.4,2357.2 523.5,2357 C548.7,2356.7 586.4,2359 599,2359.4" stroke="#464646" stroke-width="2.5" fill="none" opacity="0.85"/><path d="M146.8,2367.9 C161.3,2367.1 204.8,2363.7 233.8,2363.1 C262.9,2362.6 291.9,2363.9 320.9,2364.4 C349.9,2364.9 378.9,2365.9 407.9,2366.1 C436.9,2366.3 465.9,2365.7 495,2365.7 C524,2365.6 553,2365 582,2365.8 C611,2366.5 654.5,2369.5 669,2370.2" stroke="#5e5e5e" stroke-width="2.9" fill="none" opacity="0.85"/><path d="M136.8,2376.5 C149.6,2376.5 188.1,2376.6 213.8,2376.7 C239.4,2376.8 265.1,2377.4 290.8,2377 C316.4,2376.5 342.1,2375 367.8,2374 C393.4,2373 419.1,2371 444.7,2371 C470.4,2371 496.1,2373.9 521.7,2374.1 C547.4,2374.3 585.9,2372.5 598.7,2372.2" stroke="#464646" stroke-width="2.8" fill="none" opacity="0.85"/><path d="M192.2,2380.7 C203.6,2381.4 237.9,2384 260.7,2384.6 C283.5,2385.3 306.3,2384.8 329.1,2384.5 C351.9,2384.2 374.7,2383.2 397.5,2383 C420.3,2382.9 443.1,2383.5 465.9,2383.6 C488.8,2383.7 511.6,2384.1 534.4,2383.6 C557.2,2383.1 591.4,2381.2 602.8,2380.7" stroke="#464646" stroke-width="3.9" fill="none" opacity="0.85"/><path d="M138.1,2394.2 C150.7,2394.1 188.5,2394.8 213.7,2393.5 C238.9,2392.3 264.1,2387.5 289.3,2386.7 C314.5,2385.8 339.7,2387.3 364.9,2388.5 C390.1,2389.7 415.3,2393.9 440.6,2394 C465.8,2394 491,2389.7 516.2,2388.7 C541.4,2387.7 579.2,2388.1 591.8,2388" stroke="#545454" stroke-width="2.8" fill="none" opacity="0.85"/><path d="M210,2400.5 C221.6,2400.6 256.5,2400.6 279.8,2401 C303,2401.4 326.3,2403.7 349.5,2402.7 C372.8,2401.8 396.1,2395.6 419.3,2395.1 C442.6,2394.6 465.8,2398.9 489.1,2399.8 C512.4,2400.8 535.6,2401.3 558.9,2400.8 C582.1,2400.3 617,2397.6 628.7,2397" stroke="#464646" stroke-width="3" fill="none" opacity="0.85"/><path d="M130.9,2404.1 C146.3,2404.2 192.6,2404.3 223.4,2404.7 C254.3,2405 285.1,2406.2 316,2406.3 C346.8,2406.4 377.7,2405.3 408.5,2405.3 C439.4,2405.2 470.2,2405.5 501.1,2406.1 C532,2406.7 562.8,2409.3 593.7,2408.7 C624.5,2408.1 670.8,2403.7 686.2,2402.7" stroke="#464646" stroke-width="3.6" fill="none" opacity="0.85"/><path d="M205.1,2416.7 C217.9,2416.5 256.4,2416.4 282.1,2415.8 C307.8,2415.2 333.4,2413.6 359.1,2413.3 C384.8,2412.9 410.4,2413.9 436.1,2413.7 C461.8,2413.6 487.4,2412.5 513.1,2412.4 C538.8,2412.2 564.4,2413.1 590.1,2412.9 C615.8,2412.7 654.3,2411.5 667.1,2411.2" stroke="#b8b8b8" stroke-width="2.8" fill="none" opacity="0.85"/><path d="M182.4,2418.4 C195.1,2419 233.4,2421.9 258.8,2421.9 C284.3,2421.9 309.8,2419.5 335.2,2418.5 C360.7,2417.6 386.2,2416.3 411.7,2416.3 C437.1,2416.2 462.6,2418.1 488.1,2418.1 C513.5,2418.2 539,2416.6 564.5,2416.5 C590,2416.4 628.2,2417.3 640.9,2417.4" stroke="#5e5e5e" stroke-width="2.7" fill="none" opacity="0.85"/><path d="M134,2430.7 C146.3,2429.5 183.2,2423.8 207.8,2423.7 C232.4,2423.7 257,2429.9 281.6,2430.4 C306.2,2430.9 330.8,2427.2 355.3,2426.6 C379.9,2426 404.5,2426.2 429.1,2427 C453.7,2427.7 478.3,2431.3 502.9,2430.9 C527.5,2430.6 564.4,2426.1 576.7,2425.1" stroke="#545454" stroke-width="3.9" fill="none" opacity="0.85"/><path d="M206.8,2437.6 C220.2,2436.7 260.3,2432.7 287,2432.3 C313.8,2431.9 340.5,2435.2 367.3,2435.3 C394,2435.4 420.8,2432.3 447.5,2432.9 C474.3,2433.5 501,2438.5 527.7,2438.8 C554.5,2439.1 581.2,2435.7 608,2434.8 C634.7,2433.8 674.8,2433.4 688.2,2433.2" stroke="#a2a2a2" stroke-width="2.3" fill="none" opacity="0.85"/><path d="M151,2442.9 C164.5,2443.4 205,2445.6 232.1,2445.8 C259.1,2445.9 286.2,2443.5 313.2,2443.8 C340.2,2444.1 367.3,2447 394.3,2447.5 C421.4,2448.1 448.4,2447.5 475.4,2447.2 C502.5,2446.8 529.5,2446.4 556.5,2445.4 C583.6,2444.5 624.1,2442.1 637.7,2441.5" stroke="#545454" stroke-width="3.1" fill="none" opacity="0.85"/><path d="M178.8,2452 C190.9,2451.3 227.4,2448.4 251.7,2447.9 C276,2447.3 300.3,2448.5 324.6,2448.6 C348.9,2448.7 373.2,2447.4 397.5,2448.3 C421.8,2449.2 446.1,2453.6 470.4,2454 C494.7,2454.3 519,2450.8 543.3,2450.4 C567.6,2450 604.1,2451.4 616.2,2451.6" stroke="#adadad" stroke-width="2.5" fill="none" opacity="0.85"/><path d="M150.8,2452.2 C166.6,2452.5 214.1,2453.4 245.8,2453.7 C277.5,2454 309.2,2453.4 340.8,2454.2 C372.5,2454.9 404.2,2457.1 435.9,2458 C467.5,2458.8 499.2,2460 530.9,2459.2 C562.6,2458.4 594.3,2454.1 625.9,2453.2 C657.6,2452.3 705.1,2453.7 721,2453.8" stroke="#b8b8b8" stroke-width="2" fill="none" opacity="0.85"/><path d="M157.5,2464.6 C170.2,2463.6 208.1,2459.5 233.5,2458.5 C258.8,2457.5 284.1,2457.9 309.4,2458.9 C334.7,2459.8 360.1,2463.7 385.4,2464.4 C410.7,2465.1 436,2463 461.3,2462.9 C486.7,2462.8 512,2464.6 537.3,2464.1 C562.6,2463.5 600.6,2460.4 613.3,2459.6" stroke="#545454" stroke-width="2.5" fill="none" opacity="0.85"/><path d="M182.3,2470.4 C193.2,2470.7 226.1,2471.6 248,2472.2 C269.9,2472.8 291.8,2473.3 313.7,2473.8 C335.6,2474.3 357.6,2475.6 379.5,2475.2 C401.4,2474.8 423.3,2472 445.2,2471.2 C467.1,2470.5 489,2471.2 510.9,2470.8 C532.8,2470.3 565.7,2469 576.6,2468.6" stroke="#464646" stroke-width="2.9" fill="none" opacity="0.85"/><path d="M175.4,2478.6 C187.3,2479.1 222.9,2482.1 246.6,2481.5 C270.4,2480.9 294.1,2475.7 317.9,2475 C341.6,2474.3 365.3,2476.2 389.1,2477.4 C412.8,2478.6 436.5,2481.8 460.3,2482.2 C484,2482.6 507.8,2480.1 531.5,2479.8 C555.2,2479.5 590.8,2480.4 602.7,2480.5" stroke="#464646" stroke-width="3.1" fill="none" opacity="0.85"/><path d="M141.4,2490.1 C156.2,2489.6 200.3,2488.1 229.7,2487.2 C259.2,2486.4 288.6,2484.8 318.1,2485.3 C347.5,2485.7 376.9,2489.4 406.4,2490 C435.8,2490.6 465.3,2488.6 494.7,2488.9 C524.1,2489.1 553.6,2491.2 583,2491.7 C612.5,2492.2 656.6,2491.8 671.3,2491.8" stroke="#adadad" stroke-width="2.6" fill="none" opacity="0.85"/><path d="M147.7,2497.6 C159.7,2497.3 195.7,2496.8 219.7,2495.9 C243.7,2495.1 267.7,2492 291.7,2492.5 C315.8,2492.9 339.8,2498.5 363.8,2498.4 C387.8,2498.3 411.8,2492.2 435.8,2492 C459.8,2491.8 483.8,2496.5 507.8,2497.2 C531.8,2498 567.8,2496.6 579.8,2496.5" stroke="#545454" stroke-width="3.1" fill="none" opacity="0.85"/><path d="M173.2,2505.9 C185.1,2505.3 220.6,2502.5 244.3,2502.8 C268,2503 291.7,2506.5 315.3,2507.4 C339,2508.4 362.7,2509 386.4,2508.4 C410.1,2507.8 433.8,2504.8 457.4,2503.6 C481.1,2502.5 504.8,2501.2 528.5,2501.5 C552.2,2501.8 587.7,2504.8 599.5,2505.5" stroke="#adadad" stroke-width="3.6" fill="none" opacity="0.85"/><path d="M194.3,2514.7 C208.8,2515 252.2,2517.3 281.2,2516.6 C310.1,2516 339.1,2511.9 368,2511 C397,2510.1 425.9,2510.1 454.9,2511 C483.8,2511.9 512.8,2515.1 541.7,2516.2 C570.7,2517.3 599.6,2518.4 628.6,2517.5 C657.5,2516.7 700.9,2512.1 715.4,2511" stroke="#b8b8b8" stroke-width="3.3" fill="none" opacity="0.85"/><path d="M163.8,2522 C176.4,2522.5 214.3,2525.5 239.5,2525.3 C264.7,2525.1 290,2521.4 315.2,2520.8 C340.5,2520.2 365.7,2521.7 391,2521.7 C416.2,2521.7 441.5,2520.4 466.7,2520.9 C491.9,2521.3 517.2,2524.5 542.4,2524.5 C567.7,2524.5 605.5,2521.4 618.2,2520.7" stroke="#5e5e5e" stroke-width="4" fill="none" opacity="0.85"/><path d="M179.5,2532.3 C194.4,2532.6 239.3,2534.7 269.2,2534.1 C299.1,2533.6 329.1,2530.3 359,2529 C388.9,2527.7 418.8,2526.2 448.8,2526.3 C478.7,2526.3 508.6,2529.1 538.5,2529.3 C568.4,2529.4 598.4,2526.8 628.3,2526.9 C658.2,2527.1 703.1,2529.4 718.1,2529.9" stroke="#5e5e5e" stroke-width="2.2" fill="none" opacity="0.85"/><path d="M194.2,2535.3 C207.2,2534.9 246.1,2532.7 272.1,2533.1 C298.1,2533.5 324.1,2536.7 350,2537.8 C376,2539 402,2540.3 428,2539.8 C453.9,2539.4 479.9,2536 505.9,2534.9 C531.9,2533.8 557.9,2533.5 583.8,2533.3 C609.8,2533 648.8,2533.5 661.8,2533.5" stroke="#545454" stroke-width="3.8" fill="none" opacity="0.85"/><path d="M188.5,2540.9 C202.1,2541.9 243,2546 270.3,2547 C297.6,2548 324.9,2547.1 352.1,2546.9 C379.4,2546.7 406.7,2546.8 434,2545.6 C461.2,2544.4 488.5,2540.1 515.8,2539.8 C543.1,2539.4 570.4,2542.4 597.6,2543.5 C624.9,2544.5 665.8,2545.6 679.5,2546" stroke="#464646" stroke-width="3.2" fill="none" opacity="0.85"/><path d="M148.8,2551.5 C161.8,2551 200.9,2549.1 226.9,2548.5 C253,2548 279,2548.1 305,2548.2 C331.1,2548.3 357.1,2549 383.1,2549 C409.2,2549 435.2,2547.5 461.2,2548.1 C487.3,2548.8 513.3,2552.6 539.3,2552.8 C565.3,2553 604.4,2549.8 617.4,2549.2" stroke="#545454" stroke-width="2.5" fill="none" opacity="0.85"/><path d="M168.8,2561 C182.6,2560.6 223.9,2558.8 251.4,2558.6 C279,2558.3 306.5,2560.2 334.1,2559.5 C361.6,2558.7 389.1,2553.9 416.7,2554 C444.2,2554.2 471.8,2559.8 499.3,2560.2 C526.9,2560.6 554.4,2557.4 582,2556.5 C609.5,2555.6 650.8,2555.3 664.6,2555" stroke="#a2a2a2" stroke-width="3.7" fill="none" opacity="0.85"/><path d="M134.6,2568.2 C147.2,2568.2 184.8,2568 209.9,2568 C235,2568.1 260.1,2568.9 285.2,2568.3 C310.3,2567.7 335.4,2565.5 360.5,2564.6 C385.6,2563.8 410.7,2563.1 435.8,2563 C460.9,2563 486,2563.6 511.1,2564.4 C536.2,2565.3 573.8,2567.4 586.4,2568" stroke="#adadad" stroke-width="3.6" fill="none" opacity="0.85"/><path d="M199.5,2571.8 C212,2572.3 249.3,2575.2 274.2,2574.7 C299.1,2574.2 324,2569.5 348.9,2568.8 C373.8,2568.2 398.7,2571.1 423.6,2571 C448.5,2570.8 473.3,2567.6 498.2,2567.9 C523.1,2568.2 548,2573.1 572.9,2572.9 C597.8,2572.7 635.1,2567.8 647.6,2566.7" stroke="#c6c6c6" stroke-width="2.5" fill="none" opacity="0.85"/><path d="M151.6,2574.6 C164.5,2575.1 203.4,2577.1 229.2,2577.6 C255.1,2578.1 281,2576.9 306.9,2577.5 C332.8,2578.2 358.7,2581.3 384.6,2581.4 C410.4,2581.6 436.3,2578.6 462.2,2578.5 C488.1,2578.4 514,2581 539.9,2580.7 C565.8,2580.3 604.6,2577 617.5,2576.2" stroke="#c6c6c6" stroke-width="2.2" fill="none" opacity="0.85"/><path d="M196.1,2587.3 C209.9,2587.2 251.4,2587.6 279,2587.1 C306.7,2586.6 334.3,2583.8 362,2584.2 C389.6,2584.6 417.3,2589.4 444.9,2589.6 C472.6,2589.8 500.2,2586.1 527.9,2585.4 C555.5,2584.7 583.2,2585.7 610.8,2585.4 C638.4,2585.1 679.9,2583.8 693.7,2583.5" stroke="#5e5e5e" stroke-width="2.2" fill="none" opacity="0.85"/><path d="M135.9,2597.2 C151.7,2597.2 199.1,2597.2 230.6,2597.3 C262.2,2597.4 293.7,2597.7 325.3,2597.8 C356.8,2598 388.4,2599 419.9,2598.1 C451.5,2597.3 483,2593.3 514.6,2592.8 C546.1,2592.4 577.7,2594.4 609.3,2595.4 C640.8,2596.4 688.1,2598.2 703.9,2598.8" stroke="#5e5e5e" stroke-width="2.2" fill="none" opacity="0.85"/><path d="M166.6,2606.3 C182.1,2606.1 228.5,2605.8 259.4,2604.8 C290.4,2603.7 321.3,2600.3 352.2,2600 C383.2,2599.8 414.1,2603.2 445,2603.3 C476,2603.4 506.9,2601 537.8,2600.7 C568.8,2600.4 599.7,2601.1 630.6,2601.4 C661.6,2601.7 708,2602.5 723.4,2602.7" stroke="#545454" stroke-width="3.4" fill="none" opacity="0.85"/><path d="M137,2609.9 C152.5,2609.6 199.1,2607.9 230.2,2607.8 C261.3,2607.7 292.4,2609.2 323.5,2609.4 C354.6,2609.6 385.7,2608.9 416.8,2609.1 C447.9,2609.3 479,2610.2 510.1,2610.7 C541.2,2611.2 572.3,2612.1 603.4,2612.1 C634.5,2612 681.2,2610.8 696.7,2610.5" stroke="#545454" stroke-width="3.4" fill="none" opacity="0.85"/><path d="M184.2,2614.9 C196.3,2615.2 232.5,2615.8 256.6,2616.6 C280.8,2617.5 304.9,2619.9 329.1,2620.1 C353.2,2620.4 377.3,2619.2 401.5,2618.2 C425.6,2617.2 449.8,2614.6 473.9,2614.1 C498.1,2613.7 522.2,2615.2 546.3,2615.2 C570.5,2615.3 606.7,2614.8 618.8,2614.7" stroke="#5e5e5e" stroke-width="2.2" fill="none" opacity="0.85"/><path d="M195.9,2621.5 C206.7,2621.5 239.2,2622 260.9,2622 C282.6,2622 304.2,2620.9 325.9,2621.5 C347.6,2622.2 369.2,2625.4 390.9,2625.9 C412.6,2626.3 434.3,2623.9 455.9,2624.2 C477.6,2624.5 499.3,2627.5 520.9,2627.7 C542.6,2627.9 575.1,2625.7 586,2625.3" stroke="#464646" stroke-width="2.9" fill="none" opacity="0.85"/><path d="M193.2,2630.8 C205.2,2630 241.3,2626.5 265.3,2626.1 C289.3,2625.7 313.4,2628.2 337.4,2628.6 C361.5,2629 385.5,2628.3 409.6,2628.7 C433.6,2629.1 457.7,2631.5 481.7,2631.2 C505.7,2630.9 529.8,2627.2 553.8,2626.8 C577.9,2626.4 613.9,2628.6 626,2629" stroke="#adadad" stroke-width="4" fill="none" opacity="0.85"/><path d="M142.7,2641.8 C155.6,2641.3 194.6,2639.7 220.6,2639 C246.5,2638.2 272.5,2637.5 298.5,2637.4 C324.4,2637.4 350.4,2638.9 376.3,2638.6 C402.3,2638.3 428.3,2635.4 454.2,2635.7 C480.2,2636 506.2,2639.2 532.1,2640.3 C558.1,2641.4 597,2642.1 610,2642.5" stroke="#b8b8b8" stroke-width="3.2" fill="none" opacity="0.85"/><path d="M132.1,2648.4 C145.9,2647.5 187,2643.6 214.5,2643.2 C241.9,2642.8 269.3,2645.6 296.8,2646 C324.2,2646.3 351.7,2645.7 379.1,2645.5 C406.6,2645.3 434,2645.2 461.4,2644.8 C488.9,2644.4 516.3,2642.2 543.8,2642.9 C571.2,2643.6 612.4,2648.1 626.1,2649.1" stroke="#c6c6c6" stroke-width="3.1" fill="none" opacity="0.85"/><path d="M140.8,2654.1 C153.3,2654.1 190.7,2654.2 215.6,2654.2 C240.5,2654.2 265.4,2654.6 290.4,2654.2 C315.3,2653.8 340.2,2651.4 365.1,2651.8 C390,2652.3 415,2656 439.9,2657 C464.8,2658 489.7,2657.8 514.6,2657.7 C539.6,2657.5 576.9,2656.5 589.4,2656.3" stroke="#a2a2a2" stroke-width="3.9" fill="none" opacity="0.85"/><path d="M201.8,2660.6 C215.3,2661 255.9,2663.2 282.9,2662.7 C310,2662.2 337.1,2657.9 364.1,2657.5 C391.2,2657.2 418.3,2660.6 445.3,2660.4 C472.4,2660.3 499.4,2657.4 526.5,2656.7 C553.6,2656 580.6,2656.2 607.7,2656.3 C634.7,2656.4 675.3,2657.3 688.9,2657.5" stroke="#464646" stroke-width="2.7" fill="none" opacity="0.85"/><path d="M183.7,2667.1 C195.7,2667.4 231.5,2668.2 255.5,2668.8 C279.4,2669.4 303.3,2671.3 327.2,2670.5 C351.2,2669.7 375.1,2665 399,2664.2 C422.9,2663.4 446.9,2665.1 470.8,2665.7 C494.7,2666.3 518.6,2667.9 542.6,2667.8 C566.5,2667.7 602.4,2665.6 614.3,2665.2" stroke="#c6c6c6" stroke-width="2.6" fill="none" opacity="0.85"/><path d="M140.5,2681.4 C155.7,2680.3 201.4,2674.6 231.8,2674.4 C262.3,2674.2 292.7,2679.4 323.1,2680.3 C353.6,2681.2 384,2679.8 414.4,2679.8 C444.9,2679.8 475.3,2680.7 505.8,2680.3 C536.2,2679.9 566.6,2677.6 597.1,2677.2 C627.5,2676.8 673.2,2677.9 688.4,2678" stroke="#c6c6c6" stroke-width="2.7" fill="none" opacity="0.85"/><path d="M175.2,2683.2 C188.8,2684 229.5,2687.8 256.6,2688 C283.8,2688.3 311,2684.6 338.1,2684.6 C365.3,2684.7 392.4,2687.9 419.6,2688.2 C446.7,2688.5 473.9,2686.6 501,2686.5 C528.2,2686.3 555.3,2688.3 582.5,2687.5 C609.6,2686.8 650.4,2682.8 664,2681.9" stroke="#5e5e5e" stroke-width="4.3" fill="none" opacity="0.85"/><path d="M164.6,2689 C176.4,2688.7 211.8,2686.3 235.4,2686.9 C259,2687.4 282.6,2691.1 306.2,2692.2 C329.8,2693.4 353.4,2693.6 377,2693.6 C400.6,2693.7 424.2,2692.7 447.8,2692.3 C471.4,2691.9 495,2691.2 518.6,2691.2 C542.2,2691.2 577.6,2692.2 589.4,2692.5" stroke="#adadad" stroke-width="3.1" fill="none" opacity="0.85"/><path d="M197.6,2699 C211.2,2699.1 252.1,2700.3 279.4,2699.8 C306.7,2699.3 334,2697 361.2,2695.8 C388.5,2694.7 415.8,2692.3 443.1,2692.9 C470.4,2693.4 497.7,2698.7 524.9,2699.3 C552.2,2699.9 579.5,2696.7 606.8,2696.4 C634.1,2696 675,2697.1 688.6,2697.3" stroke="#b8b8b8" stroke-width="2.5" fill="none" opacity="0.85"/><path d="M163.7,2700.3 C175.9,2701 212.7,2704.1 237.1,2704.5 C261.6,2705 286.1,2702.9 310.5,2703.1 C335,2703.3 359.5,2706.4 384,2705.8 C408.4,2705.1 432.9,2699.5 457.4,2699.3 C481.9,2699.2 506.3,2704.8 530.8,2704.9 C555.3,2704.9 592,2700.4 604.2,2699.5" stroke="#adadad" stroke-width="3.7" fill="none" opacity="0.85"/><path d="M188.3,2709.6 C203.1,2710 247.5,2711.4 277.1,2711.8 C306.7,2712.1 336.4,2711.7 366,2711.8 C395.6,2712 425.2,2712.9 454.8,2712.5 C484.5,2712.1 514.1,2709.2 543.7,2709.4 C573.3,2709.6 602.9,2713.7 632.6,2713.8 C662.2,2713.9 706.6,2710.7 721.4,2710.1" stroke="#b8b8b8" stroke-width="2.6" fill="none" opacity="0.85"/><path d="M169.9,2723.7 C181.4,2723.1 216,2720.7 239,2719.7 C262.1,2718.7 285.2,2717.8 308.2,2717.6 C331.3,2717.3 354.3,2717.3 377.4,2718.3 C400.4,2719.2 423.5,2722.5 446.6,2723.3 C469.6,2724.1 492.7,2724.1 515.7,2723.1 C538.8,2722.1 573.4,2718.4 584.9,2717.5" stroke="#545454" stroke-width="2.8" fill="none" opacity="0.85"/><path d="M180.8,2726.9 C193,2726.9 229.7,2727.2 254.1,2726.7 C278.5,2726.3 302.9,2723.8 327.3,2724.3 C351.7,2724.9 376.2,2729.1 400.6,2730.1 C425,2731 449.4,2730.7 473.8,2730.3 C498.2,2729.9 522.6,2728.6 547.1,2727.7 C571.5,2726.8 608.1,2725.4 620.3,2724.9" stroke="#545454" stroke-width="2" fill="none" opacity="0.85"/><path d="M187.1,2737.2 C201.4,2737.5 244.6,2739.5 273.3,2739.1 C302.1,2738.8 330.9,2736.4 359.6,2735.2 C388.4,2734.1 417.1,2732.6 445.9,2732.3 C474.7,2732 503.4,2733.1 532.2,2733.4 C561,2733.7 589.7,2733.5 618.5,2734.1 C647.2,2734.8 690.4,2736.8 704.8,2737.3" stroke="#adadad" stroke-width="3.7" fill="none" opacity="0.85"/><path d="M153.6,2747.2 C168.4,2746.8 212.6,2745.8 242,2744.9 C271.5,2744 301,2741.7 330.4,2741.7 C359.9,2741.7 389.4,2743.7 418.8,2744.9 C448.3,2746 477.8,2748 507.2,2748.6 C536.7,2749.1 566.1,2749 595.6,2747.9 C625.1,2746.8 669.3,2743.1 684,2742.2" stroke="#464646" stroke-width="3.3" fill="none" opacity="0.85"/><path d="M208.6,2750.9 C221.2,2750.9 258.7,2751.6 283.7,2751 C308.7,2750.3 333.7,2747 358.7,2747.1 C383.8,2747.2 408.8,2751.2 433.8,2751.5 C458.8,2751.8 483.8,2749.5 508.8,2749 C533.9,2748.5 558.9,2748 583.9,2748.7 C608.9,2749.4 646.4,2752.4 658.9,2753.1" stroke="#5e5e5e" stroke-width="2.2" fill="none" opacity="0.85"/><path d="M152.3,2754.3 C166,2755.3 206.8,2759 234.1,2760 C261.3,2761.1 288.6,2761.9 315.8,2760.7 C343.1,2759.6 370.3,2753.8 397.6,2753.1 C424.8,2752.4 452.1,2755.6 479.3,2756.5 C506.5,2757.5 533.8,2759 561,2758.9 C588.3,2758.8 629.2,2756.4 642.8,2755.9" stroke="#464646" stroke-width="2.6" fill="none" opacity="0.85"/><path d="M192.1,2760.9 C203.2,2761.1 236.2,2762.5 258.2,2762.2 C280.2,2761.8 302.3,2758.8 324.3,2758.5 C346.3,2758.3 368.3,2759.6 390.3,2760.6 C412.4,2761.7 434.4,2764.4 456.4,2764.9 C478.4,2765.4 500.5,2763.2 522.5,2763.4 C544.5,2763.6 577.5,2765.7 588.5,2766.2" stroke="#464646" stroke-width="2.2" fill="none" opacity="0.85"/><path d="M164.8,2772.3 C177.6,2771.9 215.9,2769.8 241.5,2770 C267,2770.2 292.6,2773 318.1,2773.7 C343.7,2774.3 369.2,2774.3 394.8,2773.7 C420.3,2773.1 445.9,2770.2 471.4,2770 C497,2769.8 522.5,2771.5 548.1,2772.3 C573.6,2773.1 612,2774.3 624.7,2774.8" stroke="#c6c6c6" stroke-width="2.2" fill="none" opacity="0.85"/><path d="M187.2,2783.6 C199.7,2782.7 237.4,2779.1 262.5,2778.1 C287.6,2777.1 312.7,2778.1 337.8,2777.9 C362.9,2777.6 388,2776.3 413.1,2776.8 C438.2,2777.3 463.4,2780.1 488.5,2780.6 C513.6,2781.2 538.7,2780.2 563.8,2780.1 C588.9,2780.1 626.6,2780.2 639.1,2780.2" stroke="#464646" stroke-width="3.5" fill="none" opacity="0.85"/><path d="M144.3,2789.3 C157.7,2789.5 198.1,2790.4 225.1,2790.4 C252,2790.5 278.9,2790.5 305.8,2789.7 C332.8,2788.8 359.7,2785.4 386.6,2785.1 C413.6,2784.8 440.5,2787.2 467.4,2788.1 C494.4,2788.9 521.3,2789.7 548.2,2790.2 C575.2,2790.8 615.6,2791.1 629,2791.2" stroke="#b8b8b8" stroke-width="2.2" fill="none" opacity="0.85"/><path d="M195.6,2793 C209.6,2792.9 251.6,2791.7 279.6,2792.3 C307.6,2792.8 335.5,2795.6 363.5,2796.5 C391.5,2797.4 419.5,2797.5 447.5,2797.6 C475.4,2797.8 503.4,2798.3 531.4,2797.3 C559.4,2796.3 587.3,2792 615.3,2791.5 C643.3,2791 685.3,2793.8 699.3,2794.3" stroke="#a2a2a2" stroke-width="2.2" fill="none" opacity="0.85"/><path d="M190.4,2800.8 C202.8,2801.6 239.8,2805.1 264.5,2805.6 C289.2,2806.1 313.9,2803.5 338.6,2803.8 C363.3,2804.2 388,2808.3 412.7,2807.6 C437.4,2806.9 462,2800.5 486.7,2799.7 C511.4,2798.9 536.1,2802.3 560.8,2803 C585.5,2803.7 622.5,2803.7 634.9,2803.9" stroke="#464646" stroke-width="2.3" fill="none" opacity="0.85"/><path d="M136.1,2814.5 C152.3,2814.2 201,2813 233.4,2812.6 C265.8,2812.3 298.3,2813.1 330.7,2812.4 C363.1,2811.7 395.6,2809 428,2808.3 C460.4,2807.7 492.8,2808.1 525.3,2808.5 C557.7,2809 590.1,2810.9 622.6,2810.9 C655,2810.9 703.6,2808.8 719.9,2808.4" stroke="#a2a2a2" stroke-width="2.8" fill="none" opacity="0.85"/><path d="M205.7,2813.7 C216.3,2813.6 248,2812.7 269.2,2813.2 C290.3,2813.7 311.5,2815.5 332.7,2816.6 C353.8,2817.7 375,2819.7 396.1,2819.9 C417.3,2820.1 438.4,2818.4 459.6,2817.9 C480.7,2817.3 501.9,2816.3 523.1,2816.5 C544.2,2816.7 575.9,2818.8 586.5,2819.3" stroke="#adadad" stroke-width="2.6" fill="none" opacity="0.85"/><path d="M161.4,2822.3 C173.6,2822.8 210,2825.7 234.3,2825.5 C258.6,2825.3 282.9,2821.6 307.1,2821 C331.4,2820.4 355.7,2822.1 380,2822 C404.3,2822 428.6,2820.5 452.8,2820.7 C477.1,2821 501.4,2823.7 525.7,2823.7 C550,2823.6 586.4,2821.1 598.5,2820.6" stroke="#c6c6c6" stroke-width="2.9" fill="none" opacity="0.85"/><path d="M167.8,2833.7 C181.2,2833.1 221.5,2830.3 248.4,2830.1 C275.3,2830 302.2,2832.1 329,2832.6 C355.9,2833.1 382.8,2833.1 409.6,2833 C436.5,2832.9 463.4,2832.7 490.2,2832 C517.1,2831.4 544,2829.3 570.9,2829.1 C597.7,2828.9 638,2830.6 651.5,2830.9" stroke="#545454" stroke-width="3.9" fill="none" opacity="0.85"/><path d="M171,2839.9 C184,2839.3 223.1,2837.2 249.1,2836.4 C275.2,2835.7 301.2,2835.7 327.3,2835.5 C353.3,2835.3 379.4,2834.3 405.4,2835.2 C431.5,2836 457.5,2839.6 483.6,2840.5 C509.6,2841.5 535.7,2841.7 561.7,2840.9 C587.8,2840.1 626.9,2836.7 639.9,2835.8" stroke="#c6c6c6" stroke-width="3.5" fill="none" opacity="0.85"/><path d="M155.8,2845.1 C170,2846.2 212.6,2851.2 241,2851.5 C269.4,2851.8 297.9,2847.2 326.3,2847 C354.7,2846.9 383.1,2850.4 411.6,2850.6 C440,2850.9 468.4,2849.6 496.8,2848.6 C525.2,2847.6 553.7,2845.1 582.1,2844.9 C610.5,2844.7 653.1,2847.1 667.3,2847.6" stroke="#b8b8b8" stroke-width="2" fill="none" opacity="0.85"/><path d="M140.2,2853.9 C155.6,2854 201.7,2854.1 232.5,2854.5 C263.2,2854.9 294,2856.2 324.7,2856.2 C355.5,2856.3 386.2,2855 417,2854.8 C447.7,2854.6 478.5,2855.3 509.2,2855 C540,2854.8 570.7,2853.3 601.5,2853.2 C632.2,2853 678.3,2854.1 693.7,2854.3" stroke="#464646" stroke-width="3.3" fill="none" opacity="0.85"/><path d="M165.9,2861 C180.9,2860.8 225.8,2860.2 255.7,2859.7 C285.6,2859.1 315.5,2857.6 345.5,2857.7 C375.4,2857.7 405.3,2859.1 435.2,2859.8 C465.1,2860.5 495.1,2862 525,2861.7 C554.9,2861.4 584.8,2857.6 614.7,2858 C644.7,2858.3 689.5,2862.7 704.5,2863.6" stroke="#adadad" stroke-width="3.1" fill="none" opacity="0.85"/><path d="M208,2869.1 C221.2,2869.4 260.5,2871.7 286.8,2871.1 C313,2870.5 339.2,2865.8 365.5,2865.5 C391.7,2865.2 417.9,2868.6 444.2,2869.2 C470.4,2869.8 496.6,2868.7 522.9,2869.1 C549.1,2869.4 575.3,2871.1 601.6,2871.4 C627.8,2871.6 667.2,2870.8 680.3,2870.7" stroke="#464646" stroke-width="4" fill="none" opacity="0.85"/><path d="M139.6,2876.4 C153.8,2877 196.4,2880.2 224.8,2879.9 C253.2,2879.6 281.7,2875 310.1,2874.7 C338.5,2874.4 366.9,2878.2 395.3,2878.1 C423.7,2878 452.2,2873.9 480.6,2874.2 C509,2874.5 537.4,2879.9 565.8,2879.9 C594.2,2879.8 636.9,2875 651.1,2874.1" stroke="#b8b8b8" stroke-width="3.6" fill="none" opacity="0.85"/><path d="M137.4,2882 C152.3,2881.7 197,2879.6 226.8,2879.8 C256.6,2880.1 286.4,2882.6 316.2,2883.3 C346,2884 375.8,2884.3 405.6,2884.2 C435.4,2884.2 465.2,2883.1 495,2883.1 C524.8,2883.1 554.6,2884.9 584.3,2884.2 C614.1,2883.5 658.8,2879.7 673.7,2878.8" stroke="#5e5e5e" stroke-width="2.6" fill="none" opacity="0.85"/><path d="M230,2330 C300,2305 420,2284 540,2264 C620,2252 680,2248 704,2256" stroke="#cfcfcf" stroke-width="8" fill="none"/><path d="M161,2864 C190,2880 250,2886 312,2887 L540,2880 C600,2878 640,2874 653,2864" stroke="#c4c4c4" stroke-width="7" fill="none"/><path d="M186,2400 C172,2440 162,2480 155,2524 C140,2600 135,2680 135,2740 C138,2800 146,2840 161,2864" stroke="#b8b8b8" stroke-width="7" fill="none"/><path d="M200,2423 C350,2418 550,2425 712,2435" stroke="#3c3c3c" stroke-width="6" fill="none" opacity="0.8"/></g></g>
<rect x="946" y="2865.5" width="132" height="33" fill="#111" rx="3"/>
<rect x="950.5" y="2869.5" width="123.5" height="25" fill="#fafafa"/>
<text x="944" y="2841" font-size="63" fill="#e6e6e6" font-family="Liberation Sans, sans-serif" textLength="124" lengthAdjust="spacingAndGlyphs" stroke="#0a0a0a" stroke-width="6" paint-order="stroke" stroke-linejoin="round">1μm</text>
</g>
<clipPath id="clipE"><rect x="1316" y="2169.4" width="916.5" height="665.0999999999999"/></clipPath>
<g clip-path="url(#clipE)">
<path d="M1555.5,2839.1 L1593.6,2764.3 L1628.5,2697.8 L1660.3,2638.8 L1689.4,2586.4 L1716.2,2539.9 L1740.8,2498.6 L1763.6,2462.0 L1784.7,2429.5 L1804.4,2400.6 L1822.8,2375.0 L1839.9,2352.2 L1856.1,2332.0 L1871.3,2314.1 L1885.7,2298.2 L1899.3,2284.1 L1912.4,2271.5 L1924.8,2260.4 L1936.7,2250.5 L1948.1,2241.7 L1959.1,2233.9 L1969.7,2227.0 L1980.0,2220.9 L1989.9,2215.4 L1999.6,2210.6 L2009.0,2206.3 L2018.1,2202.5 L2027.0,2199.1 L2035.7,2196.1 L2044.2,2193.5 L2052.5,2191.1 L2060.6,2189.0 L2068.5,2187.1 L2076.1,2185.5 L2083.7,2184.0 L2091.0,2182.7 L2098.1,2181.5 L2105.0,2180.5 L2111.7,2179.6 L2118.2,2178.8 L2124.4,2178.1 L2130.5,2177.4 L2136.3,2176.9 L2141.9,2176.4 L2147.2,2175.9 L2152.3,2175.5 L2157.1,2175.2 L2161.7,2174.9 L2166.0,2174.6 L2170.1,2174.3 L2173.9,2174.1 L2177.4,2173.9 L2180.7,2173.8 L2183.8,2173.6 L2186.7,2173.5 L2189.3,2173.4 L2191.7,2173.2 L2194.0,2173.1 L2196.0,2173.1 L2197.8,2173.0 L2199.5,2172.9 L2201.1,2172.9 L2202.5,2172.8 L2203.7,2172.8 L2204.8,2172.7 L2205.9,2172.7 L2206.8,2172.7 L2207.6,2172.6 L2208.4,2172.6 L2209.0,2172.6 L2209.6,2172.6 L2210.2,2172.5 L2210.6,2172.5 L2211.1,2172.5 L2211.4,2172.5 L2211.8,2172.5 L2212.1,2172.5 L2212.4,2172.5 L2212.6,2172.5 L2212.8,2172.5 L2213.0,2172.4 L2213.2,2172.4 L2213.3,2172.4 L2213.5,2172.4 L2213.6,2172.4 L2213.7,2172.4 L2213.8,2172.4 L2213.9,2172.4 L2213.9,2172.4 L2214.0,2172.4 L2214.5,2172.4" stroke="#7d8a2a" stroke-width="5" fill="none"/>
<path d="M1743.7,2839.1 L1765.8,2764.3 L1786.1,2697.8 L1804.8,2638.8 L1822.2,2586.4 L1838.3,2539.9 L1853.4,2498.6 L1867.5,2462.0 L1880.7,2429.5 L1893.2,2400.6 L1905.0,2375.0 L1916.1,2352.2 L1926.8,2332.0 L1937.0,2314.1 L1946.7,2298.2 L1956.1,2284.1 L1965.2,2271.5 L1973.9,2260.4 L1982.4,2250.5 L1990.7,2241.7 L1998.7,2233.9 L2006.5,2227.0 L2014.2,2220.9 L2021.7,2215.4 L2029.1,2210.6 L2036.4,2206.3 L2043.5,2202.5 L2050.5,2199.1 L2057.5,2196.1 L2064.3,2193.5 L2071.1,2191.1 L2077.7,2189.0 L2084.3,2187.1 L2090.8,2185.5 L2097.3,2184.0 L2103.6,2182.7 L2109.9,2181.5 L2116.1,2180.5 L2122.2,2179.6 L2128.3,2178.8 L2134.2,2178.1 L2140.1,2177.4 L2145.9,2176.9 L2151.5,2176.4 L2157.1,2175.9 L2162.5,2175.5 L2167.8,2175.2 L2173.0,2174.9 L2178.0,2174.6 L2182.9,2174.3 L2187.6,2174.1 L2192.1,2173.9 L2196.5,2173.8 L2200.7,2173.6 L2204.8,2173.5 L2208.6,2173.4 L2212.2,2173.2 L2215.7,2173.1 L2218.9,2173.1 L2222.0,2173.0 L2224.9,2172.9 L2227.5,2172.9 L2230.0,2172.8 L2232.3,2172.8 L2234.5,2172.7 L2236.4,2172.7 L2238.3,2172.7 L2239.9,2172.6 L2241.4,2172.6 L2242.8,2172.6 L2244.1,2172.6 L2245.2,2172.5 L2246.2,2172.5 L2247.2,2172.5 L2248.0,2172.5 L2248.7,2172.5 L2249.4,2172.5 L2250.0,2172.5 L2250.6,2172.5 L2251.1,2172.5 L2251.5,2172.4 L2251.9,2172.4 L2252.3,2172.4 L2252.6,2172.4 L2252.9,2172.4 L2253.1,2172.4 L2253.3,2172.4 L2253.5,2172.4 L2253.7,2172.4 L2253.9,2172.4 L2255.1,2172.4" stroke="#1f8585" stroke-width="5" fill="none"/>
<path d="M1800.8,2839.1 L1820.1,2764.3 L1837.9,2697.8 L1854.3,2638.8 L1869.6,2586.4 L1883.7,2539.9 L1897.0,2498.6 L1909.4,2462.0 L1921.0,2429.5 L1932.0,2400.6 L1942.4,2375.0 L1952.3,2352.2 L1961.7,2332.0 L1970.7,2314.1 L1979.3,2298.2 L1987.6,2284.1 L1995.7,2271.5 L2003.4,2260.4 L2011.0,2250.5 L2018.3,2241.7 L2025.4,2233.9 L2032.4,2227.0 L2039.3,2220.9 L2046.0,2215.4 L2052.5,2210.6 L2059.0,2206.3 L2065.4,2202.5 L2071.7,2199.1 L2077.9,2196.1 L2084.0,2193.5 L2090.0,2191.1 L2096.0,2189.0 L2101.9,2187.1 L2107.8,2185.5 L2113.5,2184.0 L2119.3,2182.7 L2124.9,2181.5 L2130.5,2180.5 L2136.1,2179.6 L2141.5,2178.8 L2146.9,2178.1 L2152.2,2177.4 L2157.5,2176.9 L2162.6,2176.4 L2167.7,2175.9 L2172.7,2175.5 L2177.5,2175.2 L2182.3,2174.9 L2186.9,2174.6 L2191.4,2174.3 L2195.8,2174.1 L2200.1,2173.9 L2204.2,2173.8 L2208.1,2173.6 L2211.9,2173.5 L2215.6,2173.4 L2219.0,2173.2 L2222.3,2173.1 L2225.5,2173.1 L2228.4,2173.0 L2231.2,2172.9 L2233.8,2172.9 L2236.2,2172.8 L2238.5,2172.8 L2240.6,2172.7 L2242.6,2172.7 L2244.4,2172.7 L2246.0,2172.6 L2247.5,2172.6 L2248.9,2172.6 L2250.2,2172.6 L2251.3,2172.5 L2252.4,2172.5 L2253.3,2172.5 L2254.2,2172.5 L2254.9,2172.5 L2255.6,2172.5 L2256.3,2172.5 L2256.8,2172.5 L2257.3,2172.5 L2257.8,2172.4 L2258.2,2172.4 L2258.5,2172.4 L2258.9,2172.4 L2259.2,2172.4 L2259.4,2172.4 L2259.6,2172.4 L2259.8,2172.4 L2260.0,2172.4 L2260.2,2172.4 L2261.5,2172.4" stroke="#a4a2c8" stroke-width="5" fill="none"/>
<path d="M2090.9,2839.1 L2103.1,2764.3 L2114.1,2697.8 L2123.9,2638.8 L2132.7,2586.4 L2140.6,2539.9 L2147.7,2498.6 L2154.1,2462.0 L2160.0,2429.5 L2165.2,2400.6 L2170.0,2375.0 L2174.3,2352.2 L2178.3,2332.0 L2181.9,2314.1 L2185.2,2298.2 L2188.2,2284.1 L2191.0,2271.5 L2193.6,2260.4 L2196.0,2250.5 L2198.2,2241.7 L2200.3,2233.9 L2202.2,2227.0 L2204.0,2220.9 L2205.7,2215.4 L2207.4,2210.6 L2208.9,2206.3 L2210.4,2202.5 L2211.8,2199.1 L2213.1,2196.1 L2214.4,2193.5 L2215.6,2191.1 L2216.8,2189.0 L2217.9,2187.1 L2219.0,2185.5 L2220.1,2184.0 L2221.1,2182.7 L2222.1,2181.5 L2223.1,2180.5 L2224.0,2179.6 L2224.9,2178.8 L2225.8,2178.1 L2226.7,2177.4 L2227.5,2176.9 L2228.4,2176.4 L2229.1,2175.9 L2229.9,2175.5 L2230.6,2175.2 L2231.4,2174.9 L2232.0,2174.6 L2232.7,2174.3 L2233.3,2174.1 L2233.9,2173.9 L2234.5,2173.8 L2235.0,2173.6 L2235.5,2173.5 L2236.0,2173.4 L2236.4,2173.2 L2236.9,2173.1 L2237.3,2173.1 L2237.6,2173.0 L2238.0,2172.9 L2238.3,2172.9 L2238.6,2172.8 L2238.8,2172.8 L2239.1,2172.7 L2239.3,2172.7 L2239.5,2172.7 L2239.7,2172.6 L2239.8,2172.6 L2240.0,2172.6 L2240.1,2172.6 L2240.2,2172.5 L2240.4,2172.5 L2240.5,2172.5 L2240.5,2172.5 L2240.6,2172.5 L2240.7,2172.5 L2240.8,2172.5 L2240.8,2172.5 L2240.9,2172.5 L2240.9,2172.4 L2241.0,2172.4 L2241.0,2172.4 L2241.0,2172.4 L2241.1,2172.4 L2241.1,2172.4 L2241.1,2172.4 L2241.1,2172.4 L2241.1,2172.4 L2241.2,2172.4 L2241.3,2172.4" stroke="#1a1a1a" stroke-width="5" fill="none"/>
</g>
<path d="M1316,2172.4 V2834.5 H2232.5 V2172.4 Z" stroke="#222" stroke-width="4.5" fill="none"/>
<path d="M1704,2200.8 C1708.3,2199.2 1720.2,2194 1730,2191 C1739.8,2188 1749.2,2185.5 1763,2183 C1776.8,2180.5 1795.2,2177.3 1813,2176 C1830.8,2174.7 1850,2175.2 1870,2175 C1890,2174.8 1911.3,2174.7 1933,2174.5 C1954.7,2174.3 1950.5,2174.2 2000,2174 C2049.5,2173.8 2191.7,2173.6 2230,2173.5" stroke="#d98f45" stroke-width="5" fill="none" opacity="0.95"/>
<path d="M1316,2172.4h-17M1316,2255.2h-9M1316,2337.9h-17M1316,2420.7h-9M1316,2503.4h-17M1316,2586.2h-9M1316,2669h-17M1316,2751.7h-9M1316,2834.5h-17M1318.8,2834.5v16M1432.9,2834.5v8M1547,2834.5v16M1661.1,2834.5v8M1775.2,2834.5v16M1889.3,2834.5v8M2003.4,2834.5v16M2117.5,2834.5v8M2231.6,2834.5v16" stroke="#222" stroke-width="4.5" fill="none"/>
<text x="1292" y="2190.9" font-size="52" fill="#1e1e1e" font-family="Liberation Sans, sans-serif" font-weight="bold" text-anchor="end">0</text>
<text x="1292" y="2356.4" font-size="52" fill="#1e1e1e" font-family="Liberation Sans, sans-serif" font-weight="bold" text-anchor="end">-20</text>
<text x="1292" y="2521.9" font-size="52" fill="#1e1e1e" font-family="Liberation Sans, sans-serif" font-weight="bold" text-anchor="end">-40</text>
<text x="1292" y="2687.5" font-size="52" fill="#1e1e1e" font-family="Liberation Sans, sans-serif" font-weight="bold" text-anchor="end">-60</text>
<text x="1292" y="2853" font-size="52" fill="#1e1e1e" font-family="Liberation Sans, sans-serif" font-weight="bold" text-anchor="end">-80</text>
<text x="1311.8" y="2894" font-size="50" fill="#1e1e1e" font-family="Liberation Sans, sans-serif" font-weight="bold" text-anchor="middle">-0.8</text>
<text x="1540" y="2894" font-size="50" fill="#1e1e1e" font-family="Liberation Sans, sans-serif" font-weight="bold" text-anchor="middle">-0.6</text>
<text x="1768.2" y="2894" font-size="50" fill="#1e1e1e" font-family="Liberation Sans, sans-serif" font-weight="bold" text-anchor="middle">-0.4</text>
<text x="1996.4" y="2894" font-size="50" fill="#1e1e1e" font-family="Liberation Sans, sans-serif" font-weight="bold" text-anchor="middle">-0.2</text>
<text x="2230.6" y="2894" font-size="50" fill="#1e1e1e" font-family="Liberation Sans, sans-serif" font-weight="bold" text-anchor="middle">0.0</text>
<text x="1530.7" y="2945" font-size="50" fill="#262626" font-family="Liberation Sans, sans-serif" font-weight="bold" textLength="519" lengthAdjust="spacingAndGlyphs">Potential (V vs RHE)</text>
<text x="1212.5" y="2870" font-size="58" fill="#262626" font-family="Liberation Sans, sans-serif" font-weight="bold" textLength="713" lengthAdjust="spacingAndGlyphs" transform="rotate(-90 1212.5 2870)">Currrent density (mA cm<tspan font-size="34" dy="-24">-2</tspan><tspan dy="24">)</tspan></text>
<path d="M1334,2223 H1410" stroke="#e0a060" stroke-width="6"/>
<path d="M1334,2293 H1410" stroke="#7d8a2a" stroke-width="6"/>
<path d="M1334,2362 H1410" stroke="#2a8585" stroke-width="6"/>
<path d="M1334,2431.5 H1410" stroke="#a8a6c8" stroke-width="6"/>
<path d="M1334,2499 H1410" stroke="#1a1a1a" stroke-width="6"/>
<text x="1420" y="2238.8" font-size="50" fill="#1e1e1e" font-family="Liberation Sans, sans-serif" font-weight="bold" textLength="236" lengthAdjust="spacingAndGlyphs">E-Ti<tspan font-size="32" dy="12">3</tspan><tspan dy="-12">C</tspan><tspan font-size="32" dy="12">2</tspan><tspan dy="-12">T</tspan><tspan font-size="32" dy="12">x</tspan></text>
<text x="1420" y="2312.5" font-size="50" fill="#1e1e1e" font-family="Liberation Sans, sans-serif" font-weight="bold" textLength="349" lengthAdjust="spacingAndGlyphs">E-Ti<tspan font-size="32" dy="12">3</tspan><tspan dy="-12">C</tspan><tspan font-size="32" dy="12">2</tspan><tspan dy="-12">T</tspan><tspan font-size="32" dy="12">x</tspan><tspan dy="-12">-450</tspan></text>
<text x="1420" y="2382.5" font-size="50" fill="#1e1e1e" font-family="Liberation Sans, sans-serif" font-weight="bold" textLength="324" lengthAdjust="spacingAndGlyphs">E-Ti<tspan font-size="32" dy="12">3</tspan><tspan dy="-12">C</tspan><tspan font-size="32" dy="12">2</tspan><tspan dy="-12">(OH)</tspan><tspan font-size="32" dy="12">x</tspan></text>
<text x="1420" y="2452.5" font-size="50" fill="#1e1e1e" font-family="Liberation Sans, sans-serif" font-weight="bold" textLength="249" lengthAdjust="spacingAndGlyphs">E-Ti<tspan font-size="32" dy="12">3</tspan><tspan dy="-12">C</tspan><tspan font-size="32" dy="12">2</tspan><tspan dy="-12">O</tspan><tspan font-size="32" dy="12">x</tspan></text>
<text x="1420" y="2517.5" font-size="50" fill="#1e1e1e" font-family="Liberation Sans, sans-serif" font-weight="bold" textLength="105" lengthAdjust="spacingAndGlyphs">Pt/C</text>
<path d="M2286,2272 V2717" stroke="#e2e2e2" stroke-width="2" stroke-dasharray="14 22"/>
</svg>
</body></html>
